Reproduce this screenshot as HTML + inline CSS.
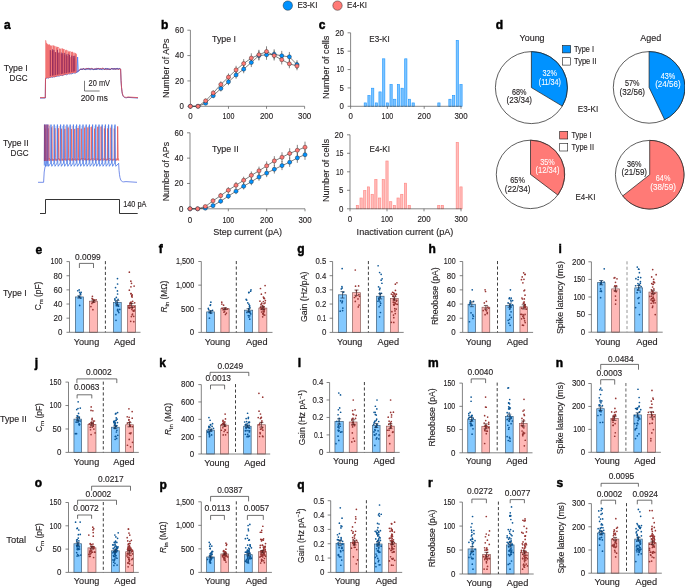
<!DOCTYPE html>
<html><head><meta charset="utf-8"><style>
html,body{margin:0;padding:0;background:#fff;}
svg{display:block;will-change:transform;}
text{font-family:"Liberation Sans", sans-serif;}
</style></head><body>
<svg width="685" height="588" viewBox="0 0 685 588" font-family='"Liberation Sans", sans-serif' fill="#231f20">
<rect width="685" height="588" fill="#fff"/>
<circle cx="287.8" cy="5.6" r="4.7" fill="#0092ff" stroke="#1a1a1a" stroke-width="0.45"/>
<text x="297.40" y="8.40" font-size="8.8" textLength="20.00" lengthAdjust="spacingAndGlyphs" stroke="#231f20" stroke-width="0.13">E3-KI</text>
<circle cx="337.5" cy="5.6" r="4.7" fill="#ff7a76" stroke="#1a1a1a" stroke-width="0.45"/>
<text x="347.10" y="8.40" font-size="8.8" textLength="20.00" lengthAdjust="spacingAndGlyphs" stroke="#231f20" stroke-width="0.13">E4-KI</text>
<text x="3.90" y="28.80" font-size="12" font-weight="bold" fill="#000" stroke="#000" stroke-width="0.45">a</text>
<text x="27.60" y="71.20" font-size="9.2" text-anchor="end" textLength="23.80" lengthAdjust="spacingAndGlyphs" stroke="#231f20" stroke-width="0.13">Type I</text>
<text x="27.60" y="80.90" font-size="9.2" text-anchor="end" textLength="18.00" lengthAdjust="spacingAndGlyphs" stroke="#231f20" stroke-width="0.13">DGC</text>
<text x="28.60" y="146.20" font-size="9.2" text-anchor="end" textLength="25.60" lengthAdjust="spacingAndGlyphs" stroke="#231f20" stroke-width="0.13">Type II</text>
<text x="28.60" y="156.20" font-size="9.2" text-anchor="end" textLength="18.00" lengthAdjust="spacingAndGlyphs" stroke="#231f20" stroke-width="0.13">DGC</text>
<path d="M40.00,98.00 L45.30,98.00 L45.50,79.40 L46.00,77.91 L46.90,77.82 L47.80,77.88 L48.70,77.94 L49.60,77.33 L50.50,77.14 L51.40,77.06 L52.30,77.31 L53.20,76.65 L54.10,76.95 L55.00,76.72 L55.90,76.13 L56.80,76.28 L57.70,76.03 L58.60,75.83 L59.50,76.13 L60.40,75.24 L61.30,75.01 L62.20,75.57 L63.10,74.97 L64.00,74.63 L64.90,74.57 L65.80,74.43 L66.70,74.73 L67.60,73.96 L68.50,73.79 L69.40,73.92 L70.30,73.71 L71.20,73.87 L72.10,73.60 L73.00,73.05 L73.90,72.75 L74.80,73.09 L75.70,73.04 L76.60,72.10 L78.50,70.90 L80.00,69.90 L80.80,69.18 L81.70,69.34 L82.60,69.08 L83.50,68.56 L84.40,69.26 L85.30,69.18 L86.20,68.53 L87.10,69.07 L88.00,68.56 L88.90,68.35 L89.80,68.70 L90.70,68.70 L91.60,68.78 L92.50,69.08 L93.40,69.30 L94.30,69.45 L95.20,69.47 L96.10,69.49 L97.00,69.25 L97.90,68.67 L98.80,68.51 L99.70,69.05 L100.60,68.95 L101.50,69.11 L102.40,68.41 L103.30,68.53 L104.20,69.41 L105.10,69.02 L106.00,69.13 L106.90,68.41 L107.80,68.78 L108.70,69.39 L109.60,69.08 L110.50,69.49 L111.40,68.54 L112.30,68.85 L113.20,69.26 L114.10,68.83 L115.00,69.25 L115.90,68.97 L116.80,68.44 L117.70,68.42 L118.60,69.48 L119.50,68.44 L120.60,69.00 L121.05,80.57 L121.50,87.35 L121.95,91.46 L122.40,93.96 L122.85,95.47 L123.30,96.39 L123.75,96.94 L124.20,97.28 L124.65,97.48 L125.10,97.61 L125.55,97.68 L126.00,97.73 L126.45,97.76 L128.00,97.40 L138.00,98.00" stroke="#2a40b8" stroke-width="0.8" fill="none"/>
<path d="M40.00,97.60 L45.30,97.60 L45.50,79.00 L46.00,77.57 L46.90,77.50 L47.80,77.40 L48.70,77.71 L49.60,77.22 L50.50,77.22 L51.40,76.56 L52.30,76.71 L53.20,76.81 L54.10,76.38 L55.00,76.55 L55.90,76.32 L56.80,75.74 L57.70,75.28 L58.60,75.71 L59.50,75.03 L60.40,74.77 L61.30,75.18 L62.20,75.09 L63.10,74.92 L64.00,74.84 L64.90,74.07 L65.80,73.80 L66.70,73.66 L67.60,74.17 L68.50,73.31 L69.40,73.18 L70.30,72.89 L71.20,72.74 L72.10,72.56 L73.00,72.64 L73.90,72.32 L74.80,72.27 L75.70,72.59 L76.60,71.81 L78.50,70.50 L80.00,69.50 L80.80,69.28 L81.70,69.19 L82.60,68.98 L83.50,68.99 L84.40,69.22 L85.30,69.00 L86.20,68.58 L87.10,68.70 L88.00,68.59 L88.90,68.78 L89.80,69.48 L90.70,68.81 L91.60,68.38 L92.50,68.87 L93.40,69.28 L94.30,68.83 L95.20,69.14 L96.10,68.41 L97.00,68.37 L97.90,69.09 L98.80,68.36 L99.70,68.66 L100.60,68.76 L101.50,68.53 L102.40,68.34 L103.30,68.31 L104.20,69.44 L105.10,69.13 L106.00,69.44 L106.90,68.89 L107.80,69.45 L108.70,69.34 L109.60,69.04 L110.50,68.93 L111.40,68.91 L112.30,68.57 L113.20,68.75 L114.10,69.17 L115.00,68.53 L115.90,69.32 L116.80,68.91 L117.70,69.03 L118.60,69.29 L119.50,69.08 L120.60,69.00 L121.05,80.17 L121.50,86.95 L121.95,91.06 L122.40,93.56 L122.85,95.07 L123.30,95.99 L123.75,96.54 L124.20,96.88 L124.65,97.08 L125.10,97.21 L125.55,97.28 L126.00,97.33 L126.45,97.36 L128.00,97.00 L138.00,97.60" stroke="#e5484d" stroke-width="0.8" fill="none"/>
<path d="M80.00,69.30 L80.80,69.18 L81.70,69.26 L82.60,69.48 L83.50,68.83 L84.40,69.28 L85.30,69.57 L86.20,69.59 L87.10,68.72 L88.00,69.28 L88.90,69.24 L89.80,69.10 L90.70,69.66 L91.60,69.13 L92.50,69.03 L93.40,69.63 L94.30,69.26 L95.20,68.86 L96.10,68.87 L97.00,69.10 L97.90,68.56 L98.80,69.23 L99.70,69.38 L100.60,69.01 L101.50,69.52 L102.40,69.61 L103.30,69.17 L104.20,69.32 L105.10,68.64 L106.00,68.57 L106.90,69.68 L107.80,68.84 L108.70,68.76 L109.60,69.58 L110.50,69.40 L111.40,68.65 L112.30,68.89 L113.20,68.79 L114.10,68.83 L115.00,68.51 L115.90,69.13 L116.80,68.87 L117.70,68.97 L118.60,68.72 L119.50,68.63" stroke="#2a3cb0" stroke-width="0.8" fill="none" opacity="0.85"/>
<path d="M45.30,79.00 L45.30,40.10 L46.20,40.50 L46.50,43.10 L47.00,43.23 L47.70,44.30 L48.40,44.45 L49.10,44.43 L49.80,44.25 L50.50,45.40 L51.20,45.66 L51.90,45.42 L52.60,45.64 L53.30,45.44 L54.00,45.31 L54.70,46.13 L55.40,46.70 L56.10,46.11 L56.80,47.50 L57.50,46.84 L58.20,47.07 L58.90,47.00 L59.60,48.76 L60.30,48.58 L61.00,49.03 L61.70,48.85 L62.40,48.15 L63.10,48.86 L63.80,49.36 L64.50,48.99 L65.20,50.56 L65.90,49.86 L66.60,49.75 L67.30,51.04 L68.00,50.17 L68.70,51.68 L69.40,51.16 L70.10,51.55 L70.80,51.45 L71.50,51.91 L72.20,51.67 L72.90,51.66 L73.60,53.22 L74.30,52.44 L75.00,53.55 L75.70,52.87 L76.40,54.32 L76.80,53.20 L77.20,72.00 L77.00,72.00 L76.00,72.19 L75.00,72.38 L74.00,72.57 L73.00,72.76 L72.00,72.95 L71.00,73.14 L70.00,73.33 L69.00,73.52 L68.00,73.71 L67.00,73.90 L66.00,74.10 L65.00,74.29 L64.00,74.48 L63.00,74.67 L62.00,74.86 L61.00,75.05 L60.00,75.24 L59.00,75.43 L58.00,75.62 L57.00,75.81 L56.00,76.00 L55.00,76.19 L54.00,76.38 L53.00,76.57 L52.00,76.76 L51.00,76.95 L50.00,77.14 L49.00,77.33 L48.00,77.52 L47.00,77.71 L46.00,77.90Z" stroke="none" stroke-width="0.7" fill="#f06a6a" opacity="0.95"/>
<line x1="52.32" y1="45.34" x2="52.32" y2="51.04" stroke="#f7b4b4" stroke-width="1.0"/>
<line x1="55.30" y1="46.33" x2="55.30" y2="52.03" stroke="#f7b4b4" stroke-width="1.0"/>
<line x1="58.41" y1="47.37" x2="58.41" y2="53.07" stroke="#f7b4b4" stroke-width="1.0"/>
<line x1="61.36" y1="48.35" x2="61.36" y2="54.05" stroke="#f7b4b4" stroke-width="1.0"/>
<line x1="64.58" y1="49.43" x2="64.58" y2="55.13" stroke="#f7b4b4" stroke-width="1.0"/>
<line x1="67.20" y1="50.30" x2="67.20" y2="56.00" stroke="#f7b4b4" stroke-width="1.0"/>
<line x1="70.58" y1="51.43" x2="70.58" y2="57.13" stroke="#f7b4b4" stroke-width="1.0"/>
<line x1="73.96" y1="52.55" x2="73.96" y2="58.25" stroke="#f7b4b4" stroke-width="1.0"/>
<line x1="50.32" y1="50.14" x2="50.32" y2="76.08" stroke="#7a1656" stroke-width="0.85" opacity="0.9"/>
<line x1="52.48" y1="49.32" x2="52.48" y2="75.67" stroke="#7a1656" stroke-width="0.85" opacity="0.9"/>
<line x1="53.92" y1="49.93" x2="53.92" y2="75.40" stroke="#7a1656" stroke-width="0.85" opacity="0.9"/>
<line x1="55.68" y1="52.15" x2="55.68" y2="75.06" stroke="#7a1656" stroke-width="0.85" opacity="0.9"/>
<line x1="57.43" y1="49.82" x2="57.43" y2="74.73" stroke="#7a1656" stroke-width="0.85" opacity="0.9"/>
<line x1="59.01" y1="52.42" x2="59.01" y2="74.43" stroke="#7a1656" stroke-width="0.85" opacity="0.9"/>
<line x1="61.30" y1="52.52" x2="61.30" y2="73.99" stroke="#7a1656" stroke-width="0.85" opacity="0.9"/>
<line x1="62.74" y1="53.17" x2="62.74" y2="73.72" stroke="#7a1656" stroke-width="0.85" opacity="0.9"/>
<line x1="64.65" y1="52.82" x2="64.65" y2="73.35" stroke="#7a1656" stroke-width="0.85" opacity="0.9"/>
<line x1="66.32" y1="54.37" x2="66.32" y2="73.04" stroke="#7a1656" stroke-width="0.85" opacity="0.9"/>
<line x1="68.07" y1="53.83" x2="68.07" y2="72.70" stroke="#7a1656" stroke-width="0.85" opacity="0.9"/>
<line x1="69.55" y1="54.83" x2="69.55" y2="72.42" stroke="#7a1656" stroke-width="0.85" opacity="0.9"/>
<line x1="71.76" y1="55.56" x2="71.76" y2="72.00" stroke="#7a1656" stroke-width="0.85" opacity="0.9"/>
<line x1="73.31" y1="55.96" x2="73.31" y2="71.70" stroke="#7a1656" stroke-width="0.85" opacity="0.9"/>
<line x1="74.76" y1="55.72" x2="74.76" y2="71.43" stroke="#7a1656" stroke-width="0.85" opacity="0.9"/>
<path d="M77.00,73.00 L77.60,57.00 L78.30,72.00" stroke="#4a7af0" stroke-width="0.8" fill="none"/>
<path d="M38.00,182.30 L43.60,182.30 L44.20,172.00 L45.00,167.00 L46.00,165.50" stroke="#3b5fe0" stroke-width="0.7" fill="none"/>
<path d="M118.60,163.00 L119.05,170.52 L119.50,174.68 L119.95,177.33 L120.40,179.02 L120.85,180.10 L121.30,180.79 L121.75,181.23 L122.20,181.51 L122.65,181.69 L123.10,181.80 L123.55,181.87 L126.00,181.60 L137.00,182.30" stroke="#3b5fe0" stroke-width="0.7" fill="none"/>
<line x1="46.20" y1="126.00" x2="46.20" y2="160.50" stroke="#f3aaaa" stroke-width="0.9"/>
<line x1="49.45" y1="126.00" x2="49.45" y2="160.50" stroke="#adc2f2" stroke-width="0.9"/>
<line x1="52.70" y1="126.00" x2="52.70" y2="160.50" stroke="#f3aaaa" stroke-width="0.9"/>
<line x1="55.95" y1="126.00" x2="55.95" y2="160.50" stroke="#adc2f2" stroke-width="0.9"/>
<line x1="59.20" y1="126.00" x2="59.20" y2="160.50" stroke="#f3aaaa" stroke-width="0.9"/>
<line x1="62.45" y1="126.00" x2="62.45" y2="160.50" stroke="#adc2f2" stroke-width="0.9"/>
<line x1="65.70" y1="126.00" x2="65.70" y2="160.50" stroke="#f3aaaa" stroke-width="0.9"/>
<line x1="68.95" y1="126.00" x2="68.95" y2="160.50" stroke="#adc2f2" stroke-width="0.9"/>
<line x1="72.20" y1="126.00" x2="72.20" y2="160.50" stroke="#f3aaaa" stroke-width="0.9"/>
<line x1="75.45" y1="126.00" x2="75.45" y2="160.50" stroke="#adc2f2" stroke-width="0.9"/>
<line x1="78.70" y1="126.00" x2="78.70" y2="160.50" stroke="#f3aaaa" stroke-width="0.9"/>
<line x1="81.95" y1="126.00" x2="81.95" y2="160.50" stroke="#adc2f2" stroke-width="0.9"/>
<line x1="85.20" y1="126.00" x2="85.20" y2="160.50" stroke="#f3aaaa" stroke-width="0.9"/>
<line x1="88.45" y1="126.00" x2="88.45" y2="160.50" stroke="#adc2f2" stroke-width="0.9"/>
<line x1="91.70" y1="126.00" x2="91.70" y2="160.50" stroke="#f3aaaa" stroke-width="0.9"/>
<line x1="94.95" y1="126.00" x2="94.95" y2="160.50" stroke="#adc2f2" stroke-width="0.9"/>
<line x1="98.20" y1="126.00" x2="98.20" y2="160.50" stroke="#f3aaaa" stroke-width="0.9"/>
<line x1="101.45" y1="126.00" x2="101.45" y2="160.50" stroke="#adc2f2" stroke-width="0.9"/>
<line x1="104.70" y1="126.00" x2="104.70" y2="160.50" stroke="#f3aaaa" stroke-width="0.9"/>
<line x1="107.95" y1="126.00" x2="107.95" y2="160.50" stroke="#adc2f2" stroke-width="0.9"/>
<line x1="111.20" y1="126.00" x2="111.20" y2="160.50" stroke="#f3aaaa" stroke-width="0.9"/>
<line x1="114.45" y1="126.00" x2="114.45" y2="160.50" stroke="#adc2f2" stroke-width="0.9"/>
<line x1="117.70" y1="126.00" x2="117.70" y2="160.50" stroke="#f3aaaa" stroke-width="0.9"/>
<path d="M44.30,161.00 L44.80,159.80 L45.00,128.53 L45.50,157.50 L46.20,160.50 L48.10,159.80 L48.30,128.44 L48.80,157.50 L49.50,160.50 L51.40,159.80 L51.60,127.44 L52.10,157.50 L52.80,160.50 L54.70,159.80 L54.90,128.21 L55.40,157.50 L56.10,160.50 L58.00,159.80 L58.20,128.19 L58.70,157.50 L59.40,160.50 L61.30,159.80 L61.50,128.75 L62.00,157.50 L62.70,160.50 L64.60,159.80 L64.80,128.90 L65.30,157.50 L66.00,160.50 L67.90,159.80 L68.10,127.52 L68.60,157.50 L69.30,160.50 L71.20,159.80 L71.40,128.97 L71.90,157.50 L72.60,160.50 L74.50,159.80 L74.70,128.90 L75.20,157.50 L75.90,160.50 L77.80,159.80 L78.00,127.98 L78.50,157.50 L79.20,160.50 L81.10,159.80 L81.30,128.71 L81.80,157.50 L82.50,160.50 L84.40,159.80 L84.60,127.73 L85.10,157.50 L85.80,160.50 L87.70,159.80 L87.90,127.44 L88.40,157.50 L89.10,160.50 L91.00,159.80 L91.20,127.12 L91.70,157.50 L92.40,160.50 L94.30,159.80 L94.50,128.69 L95.00,157.50 L95.70,160.50 L97.60,159.80 L97.80,126.91 L98.30,157.50 L99.00,160.50 L100.90,159.80 L101.10,126.67 L101.60,157.50 L102.30,160.50 L104.20,159.80 L104.40,128.51 L104.90,157.50 L105.60,160.50 L107.50,159.80 L107.70,128.43 L108.20,157.50 L108.90,160.50 L110.80,159.80 L111.00,127.71 L111.50,157.50 L112.20,160.50 L114.10,159.80 L114.30,128.59 L114.80,157.50 L115.50,160.50 L117.40,159.80 L117.60,126.63 L118.10,157.50 L118.80,160.50 L118.50,160.50" stroke="#e66060" stroke-width="0.85" fill="none"/>
<path d="M44.80,159.60 L45.70,158.96 L46.60,159.02 L47.50,159.26 L48.40,158.81 L49.30,158.63 L50.20,159.11 L51.10,160.12 L52.00,160.27 L52.90,159.84 L53.80,159.36 L54.70,158.95 L55.60,160.23 L56.50,159.45 L57.40,159.81 L58.30,158.55 L59.20,158.88 L60.10,160.01 L61.00,159.93 L61.90,160.09 L62.80,159.58 L63.70,159.27 L64.60,159.55 L65.50,160.03 L66.40,159.05 L67.30,159.46 L68.20,159.00 L69.10,159.88 L70.00,158.52 L70.90,159.73 L71.80,160.22 L72.70,158.54 L73.60,159.57 L74.50,159.66 L75.40,160.03 L76.30,159.55 L77.20,158.96 L78.10,159.23 L79.00,160.23 L79.90,160.13 L80.80,158.74 L81.70,158.67 L82.60,158.67 L83.50,158.55 L84.40,159.30 L85.30,158.75 L86.20,160.06 L87.10,159.68 L88.00,158.73 L88.90,159.47 L89.80,159.08 L90.70,159.39 L91.60,158.90 L92.50,158.80 L93.40,158.83 L94.30,159.18 L95.20,159.78 L96.10,159.49 L97.00,158.58 L97.90,159.78 L98.80,160.07 L99.70,159.89 L100.60,159.92 L101.50,158.51 L102.40,159.33 L103.30,158.61 L104.20,159.88 L105.10,158.82 L106.00,159.78 L106.90,158.96 L107.80,159.75 L108.70,159.06 L109.60,158.58 L110.50,159.20 L111.40,159.06 L112.30,160.12 L113.20,159.03 L114.10,159.41 L115.00,159.49 L115.90,160.21 L116.80,158.68 L117.70,159.58" stroke="#e04848" stroke-width="0.8" fill="none"/>
<path d="M44.30,165.50 L44.30,163.00 L44.60,124.60 L45.00,163.00 L45.40,166.30 L45.90,163.00 L46.20,124.60 L46.60,163.00 L47.00,166.30 L47.50,163.00 L47.80,124.60 L48.20,163.00 L48.60,166.30 L50.70,163.00 L51.00,124.60 L51.40,163.00 L51.80,166.30 L53.90,163.00 L54.20,124.60 L54.60,163.00 L55.00,166.30 L57.10,163.00 L57.40,124.60 L57.80,163.00 L58.20,166.30 L60.30,163.00 L60.60,124.60 L61.00,163.00 L61.40,166.30 L63.50,163.00 L63.80,124.60 L64.20,163.00 L64.60,166.30 L66.70,163.00 L67.00,124.60 L67.40,163.00 L67.80,166.30 L69.90,163.00 L70.20,124.60 L70.60,163.00 L71.00,166.30 L73.10,163.00 L73.40,124.60 L73.80,163.00 L74.20,166.30 L76.30,163.00 L76.60,124.60 L77.00,163.00 L77.40,166.30 L79.50,163.00 L79.80,124.60 L80.20,163.00 L80.60,166.30 L82.70,163.00 L83.00,124.60 L83.40,163.00 L83.80,166.30 L85.90,163.00 L86.20,124.60 L86.60,163.00 L87.00,166.30 L89.10,163.00 L89.40,124.60 L89.80,163.00 L90.20,166.30 L92.30,163.00 L92.60,124.60 L93.00,163.00 L93.40,166.30 L95.50,163.00 L95.80,124.60 L96.20,163.00 L96.60,166.30 L98.70,163.00 L99.00,124.60 L99.40,163.00 L99.80,166.30 L101.90,163.00 L102.20,124.60 L102.60,163.00 L103.00,166.30 L105.10,163.00 L105.40,124.60 L105.80,163.00 L106.20,166.30 L108.30,163.00 L108.60,124.60 L109.00,163.00 L109.40,166.30 L111.50,163.00 L111.80,124.60 L112.20,163.00 L112.60,166.30 L114.70,163.00 L115.00,124.60 L115.40,163.00 L115.80,166.30 L118.50,163.50" stroke="#4a78e6" stroke-width="0.8" fill="none"/>
<line x1="44.40" y1="124.60" x2="44.40" y2="161.00" stroke="#7a2a70" stroke-width="0.7"/>
<line x1="45.20" y1="124.60" x2="45.20" y2="161.00" stroke="#d04060" stroke-width="0.7"/>
<line x1="46.00" y1="124.60" x2="46.00" y2="161.00" stroke="#7a2a70" stroke-width="0.7"/>
<line x1="46.90" y1="124.60" x2="46.90" y2="161.00" stroke="#e05a6a" stroke-width="0.7"/>
<line x1="47.80" y1="124.60" x2="47.80" y2="161.00" stroke="#8a3078" stroke-width="0.7"/>
<line x1="49.00" y1="124.60" x2="49.00" y2="161.00" stroke="#e05a6a" stroke-width="0.7"/>
<path d="M84.5,80.8 L84.5,91.0 L99.6,91.0" stroke="#444" stroke-width="0.7" fill="none"/>
<text x="88.60" y="86.00" font-size="8.3" textLength="21.40" lengthAdjust="spacingAndGlyphs" stroke="#231f20" stroke-width="0.13">20 mV</text>
<text x="80.80" y="101.20" font-size="8.3" textLength="27.00" lengthAdjust="spacingAndGlyphs" stroke="#231f20" stroke-width="0.13">200 ms</text>
<path d="M40,213.5 L45.5,213.5 L45.5,199.5 L119.5,199.5 L119.5,213.5 L137.7,213.5" stroke="#111" stroke-width="0.85" fill="none"/>
<text x="123.20" y="206.70" font-size="8.3" textLength="23.20" lengthAdjust="spacingAndGlyphs" stroke="#231f20" stroke-width="0.13">140 pA</text>
<text x="161.00" y="28.60" font-size="12" font-weight="bold" fill="#000" stroke="#000" stroke-width="0.45">b</text>
<line x1="190.40" y1="30.20" x2="190.40" y2="106.30" stroke="#555555" stroke-width="0.7"/>
<line x1="190.40" y1="106.30" x2="304.60" y2="106.30" stroke="#555555" stroke-width="0.7"/>
<line x1="187.40" y1="106.30" x2="190.40" y2="106.30" stroke="#555555" stroke-width="0.7"/>
<text x="183.80" y="109.15" font-size="8.2" text-anchor="end" textLength="4.40" lengthAdjust="spacingAndGlyphs" stroke="#231f20" stroke-width="0.13">0</text>
<line x1="187.40" y1="80.93" x2="190.40" y2="80.93" stroke="#555555" stroke-width="0.7"/>
<text x="183.80" y="83.78" font-size="8.2" text-anchor="end" textLength="8.80" lengthAdjust="spacingAndGlyphs" stroke="#231f20" stroke-width="0.13">20</text>
<line x1="187.40" y1="55.57" x2="190.40" y2="55.57" stroke="#555555" stroke-width="0.7"/>
<text x="183.80" y="58.42" font-size="8.2" text-anchor="end" textLength="8.80" lengthAdjust="spacingAndGlyphs" stroke="#231f20" stroke-width="0.13">40</text>
<line x1="187.40" y1="30.20" x2="190.40" y2="30.20" stroke="#555555" stroke-width="0.7"/>
<text x="183.80" y="33.05" font-size="8.2" text-anchor="end" textLength="8.80" lengthAdjust="spacingAndGlyphs" stroke="#231f20" stroke-width="0.13">60</text>
<line x1="190.40" y1="106.30" x2="190.40" y2="108.80" stroke="#555555" stroke-width="0.7"/>
<text x="190.40" y="119.00" font-size="8.2" text-anchor="middle" textLength="4.40" lengthAdjust="spacingAndGlyphs" stroke="#231f20" stroke-width="0.13">0</text>
<line x1="228.47" y1="106.30" x2="228.47" y2="108.80" stroke="#555555" stroke-width="0.7"/>
<text x="228.47" y="119.00" font-size="8.2" text-anchor="middle" textLength="11.80" lengthAdjust="spacingAndGlyphs" stroke="#231f20" stroke-width="0.13">100</text>
<line x1="266.53" y1="106.30" x2="266.53" y2="108.80" stroke="#555555" stroke-width="0.7"/>
<text x="266.53" y="119.00" font-size="8.2" text-anchor="middle" textLength="13.20" lengthAdjust="spacingAndGlyphs" stroke="#231f20" stroke-width="0.13">200</text>
<line x1="304.60" y1="106.30" x2="304.60" y2="108.80" stroke="#555555" stroke-width="0.7"/>
<text x="304.60" y="119.00" font-size="8.2" text-anchor="middle" textLength="13.20" lengthAdjust="spacingAndGlyphs" stroke="#231f20" stroke-width="0.13">300</text>
<path d="M190.40,106.30 L198.01,106.30 L205.63,103.26 L213.24,95.65 L220.85,88.54 L228.47,81.82 L236.08,74.97 L243.69,69.14 L251.31,62.54 L258.92,55.57 L266.53,54.81 L274.15,54.30 L281.76,55.82 L289.37,56.84 L296.99,64.57" stroke="#2a2a2a" stroke-width="0.6" fill="none"/>
<path d="M190.40,106.30 L198.01,106.30 L205.63,100.85 L213.24,92.98 L220.85,84.48 L228.47,77.13 L236.08,69.90 L243.69,63.56 L251.31,58.10 L258.92,54.81 L266.53,51.51 L274.15,55.57 L281.76,59.75 L289.37,63.81 L296.99,65.97" stroke="#2a2a2a" stroke-width="0.6" fill="none"/>
<line x1="213.24" y1="93.10" x2="213.24" y2="98.19" stroke="#333" stroke-width="0.6"/>
<line x1="220.85" y1="85.58" x2="220.85" y2="91.51" stroke="#333" stroke-width="0.6"/>
<line x1="228.47" y1="78.45" x2="228.47" y2="85.19" stroke="#333" stroke-width="0.6"/>
<line x1="236.08" y1="71.19" x2="236.08" y2="78.75" stroke="#333" stroke-width="0.6"/>
<line x1="243.69" y1="65.01" x2="243.69" y2="73.27" stroke="#333" stroke-width="0.6"/>
<line x1="251.31" y1="58.01" x2="251.31" y2="67.07" stroke="#333" stroke-width="0.6"/>
<line x1="258.92" y1="50.62" x2="258.92" y2="60.51" stroke="#333" stroke-width="0.6"/>
<line x1="266.53" y1="49.81" x2="266.53" y2="59.80" stroke="#333" stroke-width="0.6"/>
<line x1="274.15" y1="49.28" x2="274.15" y2="59.32" stroke="#333" stroke-width="0.6"/>
<line x1="281.76" y1="50.89" x2="281.76" y2="60.75" stroke="#333" stroke-width="0.6"/>
<line x1="289.37" y1="51.96" x2="289.37" y2="61.71" stroke="#333" stroke-width="0.6"/>
<line x1="296.99" y1="60.17" x2="296.99" y2="68.98" stroke="#333" stroke-width="0.6"/>
<line x1="205.63" y1="98.62" x2="205.63" y2="103.08" stroke="#333" stroke-width="0.6"/>
<line x1="213.24" y1="90.28" x2="213.24" y2="95.68" stroke="#333" stroke-width="0.6"/>
<line x1="220.85" y1="81.27" x2="220.85" y2="87.70" stroke="#333" stroke-width="0.6"/>
<line x1="228.47" y1="73.48" x2="228.47" y2="80.78" stroke="#333" stroke-width="0.6"/>
<line x1="236.08" y1="65.81" x2="236.08" y2="73.99" stroke="#333" stroke-width="0.6"/>
<line x1="243.69" y1="59.09" x2="243.69" y2="68.02" stroke="#333" stroke-width="0.6"/>
<line x1="251.31" y1="53.31" x2="251.31" y2="62.90" stroke="#333" stroke-width="0.6"/>
<line x1="258.92" y1="49.81" x2="258.92" y2="59.80" stroke="#333" stroke-width="0.6"/>
<line x1="266.53" y1="46.32" x2="266.53" y2="56.70" stroke="#333" stroke-width="0.6"/>
<line x1="274.15" y1="50.62" x2="274.15" y2="60.51" stroke="#333" stroke-width="0.6"/>
<line x1="281.76" y1="55.06" x2="281.76" y2="64.45" stroke="#333" stroke-width="0.6"/>
<line x1="289.37" y1="59.36" x2="289.37" y2="68.26" stroke="#333" stroke-width="0.6"/>
<line x1="296.99" y1="61.64" x2="296.99" y2="70.29" stroke="#333" stroke-width="0.6"/>
<circle cx="190.40" cy="106.30" r="2.05" fill="#0092ff" stroke="#1d2a3a" stroke-width="0.45"/>
<circle cx="198.01" cy="106.30" r="2.05" fill="#0092ff" stroke="#1d2a3a" stroke-width="0.45"/>
<circle cx="205.63" cy="103.26" r="2.05" fill="#0092ff" stroke="#1d2a3a" stroke-width="0.45"/>
<circle cx="213.24" cy="95.65" r="2.05" fill="#0092ff" stroke="#1d2a3a" stroke-width="0.45"/>
<circle cx="220.85" cy="88.54" r="2.05" fill="#0092ff" stroke="#1d2a3a" stroke-width="0.45"/>
<circle cx="228.47" cy="81.82" r="2.05" fill="#0092ff" stroke="#1d2a3a" stroke-width="0.45"/>
<circle cx="236.08" cy="74.97" r="2.05" fill="#0092ff" stroke="#1d2a3a" stroke-width="0.45"/>
<circle cx="243.69" cy="69.14" r="2.05" fill="#0092ff" stroke="#1d2a3a" stroke-width="0.45"/>
<circle cx="251.31" cy="62.54" r="2.05" fill="#0092ff" stroke="#1d2a3a" stroke-width="0.45"/>
<circle cx="258.92" cy="55.57" r="2.05" fill="#0092ff" stroke="#1d2a3a" stroke-width="0.45"/>
<circle cx="266.53" cy="54.81" r="2.05" fill="#0092ff" stroke="#1d2a3a" stroke-width="0.45"/>
<circle cx="274.15" cy="54.30" r="2.05" fill="#0092ff" stroke="#1d2a3a" stroke-width="0.45"/>
<circle cx="281.76" cy="55.82" r="2.05" fill="#0092ff" stroke="#1d2a3a" stroke-width="0.45"/>
<circle cx="289.37" cy="56.84" r="2.05" fill="#0092ff" stroke="#1d2a3a" stroke-width="0.45"/>
<circle cx="296.99" cy="64.57" r="2.05" fill="#0092ff" stroke="#1d2a3a" stroke-width="0.45"/>
<circle cx="190.40" cy="106.30" r="2.05" fill="#ff7a76" stroke="#3a2020" stroke-width="0.45"/>
<circle cx="198.01" cy="106.30" r="2.05" fill="#ff7a76" stroke="#3a2020" stroke-width="0.45"/>
<circle cx="205.63" cy="100.85" r="2.05" fill="#ff7a76" stroke="#3a2020" stroke-width="0.45"/>
<circle cx="213.24" cy="92.98" r="2.05" fill="#ff7a76" stroke="#3a2020" stroke-width="0.45"/>
<circle cx="220.85" cy="84.48" r="2.05" fill="#ff7a76" stroke="#3a2020" stroke-width="0.45"/>
<circle cx="228.47" cy="77.13" r="2.05" fill="#ff7a76" stroke="#3a2020" stroke-width="0.45"/>
<circle cx="236.08" cy="69.90" r="2.05" fill="#ff7a76" stroke="#3a2020" stroke-width="0.45"/>
<circle cx="243.69" cy="63.56" r="2.05" fill="#ff7a76" stroke="#3a2020" stroke-width="0.45"/>
<circle cx="251.31" cy="58.10" r="2.05" fill="#ff7a76" stroke="#3a2020" stroke-width="0.45"/>
<circle cx="258.92" cy="54.81" r="2.05" fill="#ff7a76" stroke="#3a2020" stroke-width="0.45"/>
<circle cx="266.53" cy="51.51" r="2.05" fill="#ff7a76" stroke="#3a2020" stroke-width="0.45"/>
<circle cx="274.15" cy="55.57" r="2.05" fill="#ff7a76" stroke="#3a2020" stroke-width="0.45"/>
<circle cx="281.76" cy="59.75" r="2.05" fill="#ff7a76" stroke="#3a2020" stroke-width="0.45"/>
<circle cx="289.37" cy="63.81" r="2.05" fill="#ff7a76" stroke="#3a2020" stroke-width="0.45"/>
<circle cx="296.99" cy="65.97" r="2.05" fill="#ff7a76" stroke="#3a2020" stroke-width="0.45"/>
<text x="212.00" y="42.20" font-size="9.3" textLength="24.00" lengthAdjust="spacingAndGlyphs" stroke="#231f20" stroke-width="0.13">Type I</text>
<text x="168.60" y="68.30" font-size="9.5" text-anchor="middle" textLength="59.30" lengthAdjust="spacingAndGlyphs" transform="rotate(-90 168.60 68.30)" stroke="#231f20" stroke-width="0.13">Number of APs</text>
<line x1="190.00" y1="132.80" x2="190.00" y2="208.80" stroke="#555555" stroke-width="0.7"/>
<line x1="190.00" y1="208.80" x2="305.00" y2="208.80" stroke="#555555" stroke-width="0.7"/>
<line x1="187.00" y1="208.80" x2="190.00" y2="208.80" stroke="#555555" stroke-width="0.7"/>
<text x="183.40" y="211.65" font-size="8.2" text-anchor="end" textLength="4.40" lengthAdjust="spacingAndGlyphs" stroke="#231f20" stroke-width="0.13">0</text>
<line x1="187.00" y1="183.47" x2="190.00" y2="183.47" stroke="#555555" stroke-width="0.7"/>
<text x="183.40" y="186.32" font-size="8.2" text-anchor="end" textLength="8.80" lengthAdjust="spacingAndGlyphs" stroke="#231f20" stroke-width="0.13">20</text>
<line x1="187.00" y1="158.13" x2="190.00" y2="158.13" stroke="#555555" stroke-width="0.7"/>
<text x="183.40" y="160.98" font-size="8.2" text-anchor="end" textLength="8.80" lengthAdjust="spacingAndGlyphs" stroke="#231f20" stroke-width="0.13">40</text>
<line x1="187.00" y1="132.80" x2="190.00" y2="132.80" stroke="#555555" stroke-width="0.7"/>
<text x="183.40" y="135.65" font-size="8.2" text-anchor="end" textLength="8.80" lengthAdjust="spacingAndGlyphs" stroke="#231f20" stroke-width="0.13">60</text>
<line x1="190.00" y1="208.80" x2="190.00" y2="211.30" stroke="#555555" stroke-width="0.7"/>
<text x="190.00" y="223.10" font-size="8.2" text-anchor="middle" textLength="4.40" lengthAdjust="spacingAndGlyphs" stroke="#231f20" stroke-width="0.13">0</text>
<line x1="228.33" y1="208.80" x2="228.33" y2="211.30" stroke="#555555" stroke-width="0.7"/>
<text x="228.33" y="223.10" font-size="8.2" text-anchor="middle" textLength="11.80" lengthAdjust="spacingAndGlyphs" stroke="#231f20" stroke-width="0.13">100</text>
<line x1="266.67" y1="208.80" x2="266.67" y2="211.30" stroke="#555555" stroke-width="0.7"/>
<text x="266.67" y="223.10" font-size="8.2" text-anchor="middle" textLength="13.20" lengthAdjust="spacingAndGlyphs" stroke="#231f20" stroke-width="0.13">200</text>
<line x1="305.00" y1="208.80" x2="305.00" y2="211.30" stroke="#555555" stroke-width="0.7"/>
<text x="305.00" y="223.10" font-size="8.2" text-anchor="middle" textLength="13.20" lengthAdjust="spacingAndGlyphs" stroke="#231f20" stroke-width="0.13">300</text>
<path d="M190.00,208.80 L197.67,208.80 L205.33,208.17 L213.00,205.63 L220.67,201.20 L228.33,196.13 L236.00,191.19 L243.67,186.25 L251.33,181.69 L259.00,177.01 L266.67,173.08 L274.33,169.28 L282.00,165.61 L289.67,162.19 L297.33,157.88 L305.00,154.71" stroke="#2a2a2a" stroke-width="0.6" fill="none"/>
<path d="M190.00,208.80 L197.67,208.80 L205.33,206.52 L213.00,200.82 L220.67,195.63 L228.33,190.18 L236.00,185.24 L243.67,180.30 L251.33,175.36 L259.00,170.80 L266.67,165.86 L274.33,160.92 L282.00,157.25 L289.67,153.45 L297.33,150.28 L305.00,147.24" stroke="#2a2a2a" stroke-width="0.6" fill="none"/>
<line x1="220.67" y1="198.84" x2="220.67" y2="203.56" stroke="#333" stroke-width="0.6"/>
<line x1="228.33" y1="193.47" x2="228.33" y2="198.79" stroke="#333" stroke-width="0.6"/>
<line x1="236.00" y1="188.24" x2="236.00" y2="194.15" stroke="#333" stroke-width="0.6"/>
<line x1="243.67" y1="183.00" x2="243.67" y2="189.51" stroke="#333" stroke-width="0.6"/>
<line x1="251.33" y1="178.17" x2="251.33" y2="185.22" stroke="#333" stroke-width="0.6"/>
<line x1="259.00" y1="173.20" x2="259.00" y2="180.81" stroke="#333" stroke-width="0.6"/>
<line x1="266.67" y1="169.04" x2="266.67" y2="177.12" stroke="#333" stroke-width="0.6"/>
<line x1="274.33" y1="165.01" x2="274.33" y2="173.55" stroke="#333" stroke-width="0.6"/>
<line x1="282.00" y1="161.12" x2="282.00" y2="170.10" stroke="#333" stroke-width="0.6"/>
<line x1="289.67" y1="157.49" x2="289.67" y2="166.88" stroke="#333" stroke-width="0.6"/>
<line x1="297.33" y1="152.92" x2="297.33" y2="162.84" stroke="#333" stroke-width="0.6"/>
<line x1="305.00" y1="149.57" x2="305.00" y2="159.86" stroke="#333" stroke-width="0.6"/>
<line x1="213.00" y1="198.44" x2="213.00" y2="203.20" stroke="#333" stroke-width="0.6"/>
<line x1="220.67" y1="192.94" x2="220.67" y2="198.32" stroke="#333" stroke-width="0.6"/>
<line x1="228.33" y1="187.16" x2="228.33" y2="193.20" stroke="#333" stroke-width="0.6"/>
<line x1="236.00" y1="181.93" x2="236.00" y2="188.55" stroke="#333" stroke-width="0.6"/>
<line x1="243.67" y1="176.69" x2="243.67" y2="183.91" stroke="#333" stroke-width="0.6"/>
<line x1="251.33" y1="171.45" x2="251.33" y2="179.27" stroke="#333" stroke-width="0.6"/>
<line x1="259.00" y1="166.62" x2="259.00" y2="174.98" stroke="#333" stroke-width="0.6"/>
<line x1="266.67" y1="161.38" x2="266.67" y2="170.34" stroke="#333" stroke-width="0.6"/>
<line x1="274.33" y1="156.15" x2="274.33" y2="165.69" stroke="#333" stroke-width="0.6"/>
<line x1="282.00" y1="152.25" x2="282.00" y2="162.24" stroke="#333" stroke-width="0.6"/>
<line x1="289.67" y1="148.23" x2="289.67" y2="158.67" stroke="#333" stroke-width="0.6"/>
<line x1="297.33" y1="144.87" x2="297.33" y2="155.69" stroke="#333" stroke-width="0.6"/>
<line x1="305.00" y1="141.65" x2="305.00" y2="152.83" stroke="#333" stroke-width="0.6"/>
<circle cx="190.00" cy="208.80" r="2.05" fill="#0092ff" stroke="#1d2a3a" stroke-width="0.45"/>
<circle cx="197.67" cy="208.80" r="2.05" fill="#0092ff" stroke="#1d2a3a" stroke-width="0.45"/>
<circle cx="205.33" cy="208.17" r="2.05" fill="#0092ff" stroke="#1d2a3a" stroke-width="0.45"/>
<circle cx="213.00" cy="205.63" r="2.05" fill="#0092ff" stroke="#1d2a3a" stroke-width="0.45"/>
<circle cx="220.67" cy="201.20" r="2.05" fill="#0092ff" stroke="#1d2a3a" stroke-width="0.45"/>
<circle cx="228.33" cy="196.13" r="2.05" fill="#0092ff" stroke="#1d2a3a" stroke-width="0.45"/>
<circle cx="236.00" cy="191.19" r="2.05" fill="#0092ff" stroke="#1d2a3a" stroke-width="0.45"/>
<circle cx="243.67" cy="186.25" r="2.05" fill="#0092ff" stroke="#1d2a3a" stroke-width="0.45"/>
<circle cx="251.33" cy="181.69" r="2.05" fill="#0092ff" stroke="#1d2a3a" stroke-width="0.45"/>
<circle cx="259.00" cy="177.01" r="2.05" fill="#0092ff" stroke="#1d2a3a" stroke-width="0.45"/>
<circle cx="266.67" cy="173.08" r="2.05" fill="#0092ff" stroke="#1d2a3a" stroke-width="0.45"/>
<circle cx="274.33" cy="169.28" r="2.05" fill="#0092ff" stroke="#1d2a3a" stroke-width="0.45"/>
<circle cx="282.00" cy="165.61" r="2.05" fill="#0092ff" stroke="#1d2a3a" stroke-width="0.45"/>
<circle cx="289.67" cy="162.19" r="2.05" fill="#0092ff" stroke="#1d2a3a" stroke-width="0.45"/>
<circle cx="297.33" cy="157.88" r="2.05" fill="#0092ff" stroke="#1d2a3a" stroke-width="0.45"/>
<circle cx="305.00" cy="154.71" r="2.05" fill="#0092ff" stroke="#1d2a3a" stroke-width="0.45"/>
<circle cx="190.00" cy="208.80" r="2.05" fill="#ff7a76" stroke="#3a2020" stroke-width="0.45"/>
<circle cx="197.67" cy="208.80" r="2.05" fill="#ff7a76" stroke="#3a2020" stroke-width="0.45"/>
<circle cx="205.33" cy="206.52" r="2.05" fill="#ff7a76" stroke="#3a2020" stroke-width="0.45"/>
<circle cx="213.00" cy="200.82" r="2.05" fill="#ff7a76" stroke="#3a2020" stroke-width="0.45"/>
<circle cx="220.67" cy="195.63" r="2.05" fill="#ff7a76" stroke="#3a2020" stroke-width="0.45"/>
<circle cx="228.33" cy="190.18" r="2.05" fill="#ff7a76" stroke="#3a2020" stroke-width="0.45"/>
<circle cx="236.00" cy="185.24" r="2.05" fill="#ff7a76" stroke="#3a2020" stroke-width="0.45"/>
<circle cx="243.67" cy="180.30" r="2.05" fill="#ff7a76" stroke="#3a2020" stroke-width="0.45"/>
<circle cx="251.33" cy="175.36" r="2.05" fill="#ff7a76" stroke="#3a2020" stroke-width="0.45"/>
<circle cx="259.00" cy="170.80" r="2.05" fill="#ff7a76" stroke="#3a2020" stroke-width="0.45"/>
<circle cx="266.67" cy="165.86" r="2.05" fill="#ff7a76" stroke="#3a2020" stroke-width="0.45"/>
<circle cx="274.33" cy="160.92" r="2.05" fill="#ff7a76" stroke="#3a2020" stroke-width="0.45"/>
<circle cx="282.00" cy="157.25" r="2.05" fill="#ff7a76" stroke="#3a2020" stroke-width="0.45"/>
<circle cx="289.67" cy="153.45" r="2.05" fill="#ff7a76" stroke="#3a2020" stroke-width="0.45"/>
<circle cx="297.33" cy="150.28" r="2.05" fill="#ff7a76" stroke="#3a2020" stroke-width="0.45"/>
<circle cx="305.00" cy="147.24" r="2.05" fill="#ff7a76" stroke="#3a2020" stroke-width="0.45"/>
<text x="212.00" y="152.00" font-size="9.3" textLength="26.60" lengthAdjust="spacingAndGlyphs" stroke="#231f20" stroke-width="0.13">Type II</text>
<text x="168.60" y="171.60" font-size="9.5" text-anchor="middle" textLength="59.30" lengthAdjust="spacingAndGlyphs" transform="rotate(-90 168.60 171.60)" stroke="#231f20" stroke-width="0.13">Number of APs</text>
<text x="247.60" y="235.00" font-size="9.5" text-anchor="middle" textLength="68.70" lengthAdjust="spacingAndGlyphs" stroke="#231f20" stroke-width="0.13">Step current (pA)</text>
<text x="318.70" y="28.60" font-size="12" font-weight="bold" fill="#000" stroke="#000" stroke-width="0.45">c</text>
<rect x="364.19" y="102.92" width="2.25" height="3.38" fill="#7cc4ff" stroke="#2499ff" stroke-width="0.65"/>
<rect x="367.88" y="95.58" width="2.25" height="10.72" fill="#7cc4ff" stroke="#2499ff" stroke-width="0.65"/>
<rect x="371.56" y="88.22" width="2.25" height="18.07" fill="#7cc4ff" stroke="#2499ff" stroke-width="0.65"/>
<rect x="375.24" y="102.92" width="2.25" height="3.38" fill="#7cc4ff" stroke="#2499ff" stroke-width="0.65"/>
<rect x="378.92" y="91.90" width="2.25" height="14.40" fill="#7cc4ff" stroke="#2499ff" stroke-width="0.65"/>
<rect x="382.60" y="58.82" width="2.25" height="47.48" fill="#7cc4ff" stroke="#2499ff" stroke-width="0.65"/>
<rect x="386.28" y="102.92" width="2.25" height="3.38" fill="#7cc4ff" stroke="#2499ff" stroke-width="0.65"/>
<rect x="389.96" y="84.55" width="2.25" height="21.75" fill="#7cc4ff" stroke="#2499ff" stroke-width="0.65"/>
<rect x="393.63" y="99.25" width="2.25" height="7.05" fill="#7cc4ff" stroke="#2499ff" stroke-width="0.65"/>
<rect x="397.31" y="84.55" width="2.25" height="21.75" fill="#7cc4ff" stroke="#2499ff" stroke-width="0.65"/>
<rect x="401.00" y="88.22" width="2.25" height="18.07" fill="#7cc4ff" stroke="#2499ff" stroke-width="0.65"/>
<rect x="404.68" y="58.82" width="2.25" height="47.48" fill="#7cc4ff" stroke="#2499ff" stroke-width="0.65"/>
<rect x="408.36" y="99.25" width="2.25" height="7.05" fill="#7cc4ff" stroke="#2499ff" stroke-width="0.65"/>
<rect x="412.04" y="102.92" width="2.25" height="3.38" fill="#7cc4ff" stroke="#2499ff" stroke-width="0.65"/>
<rect x="437.80" y="102.92" width="2.25" height="3.38" fill="#7cc4ff" stroke="#2499ff" stroke-width="0.65"/>
<rect x="448.84" y="99.25" width="2.25" height="7.05" fill="#7cc4ff" stroke="#2499ff" stroke-width="0.65"/>
<rect x="452.51" y="95.58" width="2.25" height="10.72" fill="#7cc4ff" stroke="#2499ff" stroke-width="0.65"/>
<rect x="456.19" y="40.45" width="2.25" height="65.85" fill="#7cc4ff" stroke="#2499ff" stroke-width="0.65"/>
<rect x="459.88" y="84.55" width="2.25" height="21.75" fill="#7cc4ff" stroke="#2499ff" stroke-width="0.65"/>
<line x1="350.60" y1="32.80" x2="350.60" y2="106.30" stroke="#555555" stroke-width="0.7"/>
<line x1="350.60" y1="106.30" x2="461.60" y2="106.30" stroke="#555555" stroke-width="0.7"/>
<line x1="347.60" y1="106.30" x2="350.60" y2="106.30" stroke="#555555" stroke-width="0.7"/>
<text x="344.00" y="109.15" font-size="8.2" text-anchor="end" textLength="4.40" lengthAdjust="spacingAndGlyphs" stroke="#231f20" stroke-width="0.13">0</text>
<line x1="347.60" y1="87.92" x2="350.60" y2="87.92" stroke="#555555" stroke-width="0.7"/>
<text x="344.00" y="90.77" font-size="8.2" text-anchor="end" textLength="4.40" lengthAdjust="spacingAndGlyphs" stroke="#231f20" stroke-width="0.13">5</text>
<line x1="347.60" y1="69.55" x2="350.60" y2="69.55" stroke="#555555" stroke-width="0.7"/>
<text x="344.00" y="72.40" font-size="8.2" text-anchor="end" textLength="7.40" lengthAdjust="spacingAndGlyphs" stroke="#231f20" stroke-width="0.13">10</text>
<line x1="347.60" y1="51.17" x2="350.60" y2="51.17" stroke="#555555" stroke-width="0.7"/>
<text x="344.00" y="54.02" font-size="8.2" text-anchor="end" textLength="7.40" lengthAdjust="spacingAndGlyphs" stroke="#231f20" stroke-width="0.13">15</text>
<line x1="347.60" y1="32.80" x2="350.60" y2="32.80" stroke="#555555" stroke-width="0.7"/>
<text x="344.00" y="35.65" font-size="8.2" text-anchor="end" textLength="8.80" lengthAdjust="spacingAndGlyphs" stroke="#231f20" stroke-width="0.13">20</text>
<line x1="350.60" y1="106.30" x2="350.60" y2="108.80" stroke="#555555" stroke-width="0.7"/>
<text x="350.60" y="118.50" font-size="8.2" text-anchor="middle" textLength="4.40" lengthAdjust="spacingAndGlyphs" stroke="#231f20" stroke-width="0.13">0</text>
<line x1="387.40" y1="106.30" x2="387.40" y2="108.80" stroke="#555555" stroke-width="0.7"/>
<text x="387.40" y="118.50" font-size="8.2" text-anchor="middle" textLength="11.80" lengthAdjust="spacingAndGlyphs" stroke="#231f20" stroke-width="0.13">100</text>
<line x1="424.20" y1="106.30" x2="424.20" y2="108.80" stroke="#555555" stroke-width="0.7"/>
<text x="424.20" y="118.50" font-size="8.2" text-anchor="middle" textLength="13.20" lengthAdjust="spacingAndGlyphs" stroke="#231f20" stroke-width="0.13">200</text>
<line x1="461.00" y1="106.30" x2="461.00" y2="108.80" stroke="#555555" stroke-width="0.7"/>
<text x="461.00" y="118.50" font-size="8.2" text-anchor="middle" textLength="13.20" lengthAdjust="spacingAndGlyphs" stroke="#231f20" stroke-width="0.13">300</text>
<text x="369.30" y="42.30" font-size="9.3" textLength="20.40" lengthAdjust="spacingAndGlyphs" stroke="#231f20" stroke-width="0.13">E3-KI</text>
<text x="328.60" y="67.30" font-size="9.5" text-anchor="middle" textLength="63.20" lengthAdjust="spacingAndGlyphs" transform="rotate(-90 328.60 67.30)" stroke="#231f20" stroke-width="0.13">Number of cells</text>
<rect x="356.27" y="205.40" width="2.25" height="3.40" fill="#ffbcba" stroke="#ff8884" stroke-width="0.65"/>
<rect x="359.98" y="198.00" width="2.25" height="10.80" fill="#ffbcba" stroke="#ff8884" stroke-width="0.65"/>
<rect x="363.68" y="190.60" width="2.25" height="18.20" fill="#ffbcba" stroke="#ff8884" stroke-width="0.65"/>
<rect x="367.38" y="186.90" width="2.25" height="21.90" fill="#ffbcba" stroke="#ff8884" stroke-width="0.65"/>
<rect x="371.07" y="194.30" width="2.25" height="14.50" fill="#ffbcba" stroke="#ff8884" stroke-width="0.65"/>
<rect x="374.77" y="179.50" width="2.25" height="29.30" fill="#ffbcba" stroke="#ff8884" stroke-width="0.65"/>
<rect x="378.48" y="198.00" width="2.25" height="10.80" fill="#ffbcba" stroke="#ff8884" stroke-width="0.65"/>
<rect x="382.18" y="179.50" width="2.25" height="29.30" fill="#ffbcba" stroke="#ff8884" stroke-width="0.65"/>
<rect x="385.88" y="161.00" width="2.25" height="47.80" fill="#ffbcba" stroke="#ff8884" stroke-width="0.65"/>
<rect x="389.57" y="201.70" width="2.25" height="7.10" fill="#ffbcba" stroke="#ff8884" stroke-width="0.65"/>
<rect x="393.27" y="205.40" width="2.25" height="3.40" fill="#ffbcba" stroke="#ff8884" stroke-width="0.65"/>
<rect x="396.98" y="198.00" width="2.25" height="10.80" fill="#ffbcba" stroke="#ff8884" stroke-width="0.65"/>
<rect x="400.68" y="194.30" width="2.25" height="14.50" fill="#ffbcba" stroke="#ff8884" stroke-width="0.65"/>
<rect x="404.38" y="183.20" width="2.25" height="25.60" fill="#ffbcba" stroke="#ff8884" stroke-width="0.65"/>
<rect x="408.07" y="205.40" width="2.25" height="3.40" fill="#ffbcba" stroke="#ff8884" stroke-width="0.65"/>
<rect x="437.68" y="205.40" width="2.25" height="3.40" fill="#ffbcba" stroke="#ff8884" stroke-width="0.65"/>
<rect x="441.38" y="205.40" width="2.25" height="3.40" fill="#ffbcba" stroke="#ff8884" stroke-width="0.65"/>
<rect x="456.18" y="142.50" width="2.25" height="66.30" fill="#ffbcba" stroke="#ff8884" stroke-width="0.65"/>
<rect x="459.88" y="186.90" width="2.25" height="21.90" fill="#ffbcba" stroke="#ff8884" stroke-width="0.65"/>
<line x1="350.00" y1="134.80" x2="350.00" y2="208.80" stroke="#555555" stroke-width="0.7"/>
<line x1="350.00" y1="208.80" x2="461.60" y2="208.80" stroke="#555555" stroke-width="0.7"/>
<line x1="347.00" y1="208.80" x2="350.00" y2="208.80" stroke="#555555" stroke-width="0.7"/>
<text x="343.40" y="211.65" font-size="8.2" text-anchor="end" textLength="4.40" lengthAdjust="spacingAndGlyphs" stroke="#231f20" stroke-width="0.13">0</text>
<line x1="347.00" y1="190.30" x2="350.00" y2="190.30" stroke="#555555" stroke-width="0.7"/>
<text x="343.40" y="193.15" font-size="8.2" text-anchor="end" textLength="4.40" lengthAdjust="spacingAndGlyphs" stroke="#231f20" stroke-width="0.13">5</text>
<line x1="347.00" y1="171.80" x2="350.00" y2="171.80" stroke="#555555" stroke-width="0.7"/>
<text x="343.40" y="174.65" font-size="8.2" text-anchor="end" textLength="7.40" lengthAdjust="spacingAndGlyphs" stroke="#231f20" stroke-width="0.13">10</text>
<line x1="347.00" y1="153.30" x2="350.00" y2="153.30" stroke="#555555" stroke-width="0.7"/>
<text x="343.40" y="156.15" font-size="8.2" text-anchor="end" textLength="7.40" lengthAdjust="spacingAndGlyphs" stroke="#231f20" stroke-width="0.13">15</text>
<line x1="347.00" y1="134.80" x2="350.00" y2="134.80" stroke="#555555" stroke-width="0.7"/>
<text x="343.40" y="137.65" font-size="8.2" text-anchor="end" textLength="8.80" lengthAdjust="spacingAndGlyphs" stroke="#231f20" stroke-width="0.13">20</text>
<line x1="350.00" y1="208.80" x2="350.00" y2="211.30" stroke="#555555" stroke-width="0.7"/>
<text x="350.00" y="222.00" font-size="8.2" text-anchor="middle" textLength="4.40" lengthAdjust="spacingAndGlyphs" stroke="#231f20" stroke-width="0.13">0</text>
<line x1="387.00" y1="208.80" x2="387.00" y2="211.30" stroke="#555555" stroke-width="0.7"/>
<text x="387.00" y="222.00" font-size="8.2" text-anchor="middle" textLength="11.80" lengthAdjust="spacingAndGlyphs" stroke="#231f20" stroke-width="0.13">100</text>
<line x1="424.00" y1="208.80" x2="424.00" y2="211.30" stroke="#555555" stroke-width="0.7"/>
<text x="424.00" y="222.00" font-size="8.2" text-anchor="middle" textLength="13.20" lengthAdjust="spacingAndGlyphs" stroke="#231f20" stroke-width="0.13">200</text>
<line x1="461.00" y1="208.80" x2="461.00" y2="211.30" stroke="#555555" stroke-width="0.7"/>
<text x="461.00" y="222.00" font-size="8.2" text-anchor="middle" textLength="13.20" lengthAdjust="spacingAndGlyphs" stroke="#231f20" stroke-width="0.13">300</text>
<text x="369.60" y="151.80" font-size="9.3" textLength="20.40" lengthAdjust="spacingAndGlyphs" stroke="#231f20" stroke-width="0.13">E4-KI</text>
<text x="328.60" y="170.50" font-size="9.5" text-anchor="middle" textLength="63.20" lengthAdjust="spacingAndGlyphs" transform="rotate(-90 328.60 170.50)" stroke="#231f20" stroke-width="0.13">Number of cells</text>
<text x="405.00" y="234.50" font-size="9.5" text-anchor="middle" textLength="96.80" lengthAdjust="spacingAndGlyphs" stroke="#231f20" stroke-width="0.13">Inactivation current (pA)</text>
<text x="495.70" y="28.80" font-size="12" font-weight="bold" fill="#000" stroke="#000" stroke-width="0.45">d</text>
<text x="532.10" y="40.80" font-size="9.2" text-anchor="middle" textLength="25.00" lengthAdjust="spacingAndGlyphs" stroke="#231f20" stroke-width="0.13">Young</text>
<text x="650.80" y="40.80" font-size="9.2" text-anchor="middle" textLength="21.00" lengthAdjust="spacingAndGlyphs" stroke="#231f20" stroke-width="0.13">Aged</text>
<circle cx="531.4" cy="87.6" r="36.0" fill="#fff" stroke="#1a1a1a" stroke-width="0.7"/>
<path d="M531.4,87.6 L531.4,51.599999999999994 A36.0,36.0 0 0 1 562.27,106.12 Z" fill="#0092ff" stroke="#1a1a1a" stroke-width="0.7"/>
<text x="549.80" y="76.00" font-size="8.4" text-anchor="middle" fill="#fff" textLength="14.50" lengthAdjust="spacingAndGlyphs" stroke="#fff" stroke-width="0.08">32%</text>
<text x="549.80" y="84.60" font-size="8.4" text-anchor="middle" fill="#fff" textLength="22.00" lengthAdjust="spacingAndGlyphs" stroke="#fff" stroke-width="0.08">(11/34)</text>
<text x="519.30" y="94.60" font-size="8.4" text-anchor="middle" textLength="14.50" lengthAdjust="spacingAndGlyphs" stroke="#231f20" stroke-width="0.13">68%</text>
<text x="519.30" y="103.20" font-size="8.4" text-anchor="middle" textLength="25.50" lengthAdjust="spacingAndGlyphs" stroke="#231f20" stroke-width="0.13">(23/34)</text>
<circle cx="649.1" cy="87.4" r="35.8" fill="#fff" stroke="#1a1a1a" stroke-width="0.7"/>
<path d="M649.1,87.4 L649.1,51.60000000000001 A35.8,35.8 0 0 1 664.63,119.65 Z" fill="#0092ff" stroke="#1a1a1a" stroke-width="0.7"/>
<text x="667.90" y="78.80" font-size="8.4" text-anchor="middle" fill="#fff" textLength="14.50" lengthAdjust="spacingAndGlyphs" stroke="#fff" stroke-width="0.08">43%</text>
<text x="667.90" y="87.40" font-size="8.4" text-anchor="middle" fill="#fff" textLength="25.50" lengthAdjust="spacingAndGlyphs" stroke="#fff" stroke-width="0.08">(24/56)</text>
<text x="632.30" y="86.00" font-size="8.4" text-anchor="middle" textLength="14.50" lengthAdjust="spacingAndGlyphs" stroke="#231f20" stroke-width="0.13">57%</text>
<text x="632.30" y="94.60" font-size="8.4" text-anchor="middle" textLength="25.50" lengthAdjust="spacingAndGlyphs" stroke="#231f20" stroke-width="0.13">(32/56)</text>
<circle cx="530.5" cy="174.4" r="34.2" fill="#fff" stroke="#1a1a1a" stroke-width="0.7"/>
<path d="M530.5,174.4 L530.5,140.2 A34.2,34.2 0 0 1 557.79,195.01 Z" fill="#ff7a76" stroke="#1a1a1a" stroke-width="0.7"/>
<text x="547.50" y="164.70" font-size="8.4" text-anchor="middle" fill="#fff" textLength="14.50" lengthAdjust="spacingAndGlyphs" stroke="#fff" stroke-width="0.08">35%</text>
<text x="547.50" y="173.30" font-size="8.4" text-anchor="middle" fill="#fff" textLength="24.00" lengthAdjust="spacingAndGlyphs" stroke="#fff" stroke-width="0.08">(12/34)</text>
<text x="517.60" y="183.20" font-size="8.4" text-anchor="middle" textLength="14.50" lengthAdjust="spacingAndGlyphs" stroke="#231f20" stroke-width="0.13">65%</text>
<text x="517.60" y="191.80" font-size="8.4" text-anchor="middle" textLength="25.50" lengthAdjust="spacingAndGlyphs" stroke="#231f20" stroke-width="0.13">(22/34)</text>
<circle cx="649.7" cy="174.7" r="34.3" fill="#fff" stroke="#1a1a1a" stroke-width="0.7"/>
<path d="M649.7,174.7 L649.7,140.39999999999998 A34.3,34.3 0 1 1 622.72,195.88 Z" fill="#ff7a76" stroke="#1a1a1a" stroke-width="0.7"/>
<text x="663.10" y="181.00" font-size="8.4" text-anchor="middle" fill="#fff" textLength="14.50" lengthAdjust="spacingAndGlyphs" stroke="#fff" stroke-width="0.08">64%</text>
<text x="663.10" y="189.60" font-size="8.4" text-anchor="middle" fill="#fff" textLength="25.50" lengthAdjust="spacingAndGlyphs" stroke="#fff" stroke-width="0.08">(38/59)</text>
<text x="634.30" y="166.70" font-size="8.4" text-anchor="middle" textLength="14.50" lengthAdjust="spacingAndGlyphs" stroke="#231f20" stroke-width="0.13">36%</text>
<text x="634.30" y="175.30" font-size="8.4" text-anchor="middle" textLength="25.50" lengthAdjust="spacingAndGlyphs" stroke="#231f20" stroke-width="0.13">(21/59)</text>
<rect x="562.6" y="45.5" width="8" height="7.4" fill="#0092ff" stroke="#1a1a1a" stroke-width="0.6"/>
<rect x="562.6" y="57.7" width="8" height="7.4" fill="#fff" stroke="#1a1a1a" stroke-width="0.6"/>
<text x="574.00" y="51.70" font-size="8.3" textLength="20.00" lengthAdjust="spacingAndGlyphs" stroke="#231f20" stroke-width="0.13">Type I</text>
<text x="574.00" y="63.60" font-size="8.3" textLength="22.50" lengthAdjust="spacingAndGlyphs" stroke="#231f20" stroke-width="0.13">Type II</text>
<rect x="559.7" y="131.4" width="8" height="7.6" fill="#ff7a76" stroke="#1a1a1a" stroke-width="0.6"/>
<rect x="559.7" y="143.4" width="8" height="7.6" fill="#fff" stroke="#1a1a1a" stroke-width="0.6"/>
<text x="571.50" y="137.60" font-size="8.3" textLength="20.00" lengthAdjust="spacingAndGlyphs" stroke="#231f20" stroke-width="0.13">Type I</text>
<text x="571.50" y="149.60" font-size="8.3" textLength="22.50" lengthAdjust="spacingAndGlyphs" stroke="#231f20" stroke-width="0.13">Type II</text>
<text x="577.70" y="112.00" font-size="9.6" textLength="20.50" lengthAdjust="spacingAndGlyphs" stroke="#231f20" stroke-width="0.13">E3-KI</text>
<text x="575.40" y="199.90" font-size="9.6" textLength="20.00" lengthAdjust="spacingAndGlyphs" stroke="#231f20" stroke-width="0.13">E4-KI</text>
<text x="26.60" y="296.00" font-size="9.2" text-anchor="end" textLength="23.60" lengthAdjust="spacingAndGlyphs" stroke="#231f20" stroke-width="0.13">Type I</text>
<rect x="75.35" y="296.95" width="8.00" height="35.35" fill="#84c9ff" stroke="#3f5d78" stroke-width="0.7"/>
<rect x="89.55" y="301.19" width="7.90" height="31.11" fill="#ffb8b6" stroke="#8a5a58" stroke-width="0.7"/>
<rect x="113.45" y="302.61" width="7.80" height="29.69" fill="#84c9ff" stroke="#3f5d78" stroke-width="0.7"/>
<rect x="127.65" y="305.43" width="7.90" height="26.87" fill="#ffb8b6" stroke="#8a5a58" stroke-width="0.7"/>
<circle cx="79.65" cy="305.43" r="0.85" fill="#0e5897"/>
<circle cx="79.14" cy="289.88" r="0.85" fill="#0e5897"/>
<circle cx="81.17" cy="292.25" r="0.85" fill="#0e5897"/>
<circle cx="79.64" cy="297.05" r="0.85" fill="#0e5897"/>
<circle cx="80.69" cy="293.92" r="0.85" fill="#0e5897"/>
<circle cx="78.81" cy="296.67" r="0.85" fill="#0e5897"/>
<circle cx="79.67" cy="292.43" r="0.85" fill="#0e5897"/>
<circle cx="80.86" cy="298.07" r="0.85" fill="#0e5897"/>
<circle cx="80.38" cy="294.14" r="0.85" fill="#0e5897"/>
<circle cx="79.54" cy="296.91" r="0.85" fill="#0e5897"/>
<circle cx="77.75" cy="290.73" r="0.85" fill="#0e5897"/>
<line x1="79.35" y1="295.78" x2="79.35" y2="298.12" stroke="#1c3550" stroke-width="0.7"/>
<line x1="77.35" y1="295.78" x2="81.35" y2="295.78" stroke="#1c3550" stroke-width="0.7"/>
<line x1="77.35" y1="298.12" x2="81.35" y2="298.12" stroke="#1c3550" stroke-width="0.7"/>
<circle cx="92.90" cy="309.68" r="0.85" fill="#983634"/>
<circle cx="92.41" cy="296.24" r="0.85" fill="#983634"/>
<circle cx="90.92" cy="306.57" r="0.85" fill="#983634"/>
<circle cx="91.92" cy="303.50" r="0.85" fill="#983634"/>
<circle cx="94.49" cy="300.20" r="0.85" fill="#983634"/>
<circle cx="92.07" cy="298.42" r="0.85" fill="#983634"/>
<circle cx="93.17" cy="302.09" r="0.85" fill="#983634"/>
<circle cx="93.29" cy="302.31" r="0.85" fill="#983634"/>
<circle cx="93.62" cy="299.73" r="0.85" fill="#983634"/>
<circle cx="96.11" cy="299.81" r="0.85" fill="#983634"/>
<circle cx="92.73" cy="299.03" r="0.85" fill="#983634"/>
<circle cx="93.96" cy="302.10" r="0.85" fill="#983634"/>
<line x1="93.50" y1="300.22" x2="93.50" y2="302.16" stroke="#4a2020" stroke-width="0.7"/>
<line x1="91.50" y1="300.22" x2="95.50" y2="300.22" stroke="#4a2020" stroke-width="0.7"/>
<line x1="91.50" y1="302.16" x2="95.50" y2="302.16" stroke="#4a2020" stroke-width="0.7"/>
<circle cx="116.00" cy="320.28" r="0.85" fill="#0e5897"/>
<circle cx="117.48" cy="278.57" r="0.85" fill="#0e5897"/>
<circle cx="116.33" cy="305.63" r="0.85" fill="#0e5897"/>
<circle cx="118.83" cy="312.57" r="0.85" fill="#0e5897"/>
<circle cx="115.93" cy="314.66" r="0.85" fill="#0e5897"/>
<circle cx="115.96" cy="303.24" r="0.85" fill="#0e5897"/>
<circle cx="117.02" cy="304.31" r="0.85" fill="#0e5897"/>
<circle cx="117.44" cy="290.94" r="0.85" fill="#0e5897"/>
<circle cx="117.47" cy="302.50" r="0.85" fill="#0e5897"/>
<circle cx="118.25" cy="305.94" r="0.85" fill="#0e5897"/>
<circle cx="114.87" cy="299.97" r="0.85" fill="#0e5897"/>
<circle cx="115.90" cy="301.49" r="0.85" fill="#0e5897"/>
<circle cx="118.12" cy="311.19" r="0.85" fill="#0e5897"/>
<circle cx="114.89" cy="298.85" r="0.85" fill="#0e5897"/>
<circle cx="117.80" cy="309.41" r="0.85" fill="#0e5897"/>
<circle cx="116.34" cy="297.42" r="0.85" fill="#0e5897"/>
<circle cx="118.53" cy="306.23" r="0.85" fill="#0e5897"/>
<circle cx="115.54" cy="287.59" r="0.85" fill="#0e5897"/>
<circle cx="117.58" cy="293.98" r="0.85" fill="#0e5897"/>
<circle cx="117.48" cy="310.09" r="0.85" fill="#0e5897"/>
<circle cx="119.77" cy="309.39" r="0.85" fill="#0e5897"/>
<circle cx="117.57" cy="283.99" r="0.85" fill="#0e5897"/>
<circle cx="117.35" cy="305.36" r="0.85" fill="#0e5897"/>
<circle cx="118.05" cy="299.23" r="0.85" fill="#0e5897"/>
<line x1="117.35" y1="300.48" x2="117.35" y2="304.73" stroke="#1c3550" stroke-width="0.7"/>
<line x1="115.35" y1="300.48" x2="119.35" y2="300.48" stroke="#1c3550" stroke-width="0.7"/>
<line x1="115.35" y1="304.73" x2="119.35" y2="304.73" stroke="#1c3550" stroke-width="0.7"/>
<circle cx="133.77" cy="321.69" r="0.85" fill="#983634"/>
<circle cx="129.34" cy="272.21" r="0.85" fill="#983634"/>
<circle cx="132.57" cy="307.18" r="0.85" fill="#983634"/>
<circle cx="131.71" cy="295.59" r="0.85" fill="#983634"/>
<circle cx="129.58" cy="308.19" r="0.85" fill="#983634"/>
<circle cx="134.70" cy="302.84" r="0.85" fill="#983634"/>
<circle cx="131.87" cy="309.52" r="0.85" fill="#983634"/>
<circle cx="130.30" cy="302.56" r="0.85" fill="#983634"/>
<circle cx="132.10" cy="297.03" r="0.85" fill="#983634"/>
<circle cx="133.73" cy="316.31" r="0.85" fill="#983634"/>
<circle cx="133.38" cy="311.07" r="0.85" fill="#983634"/>
<circle cx="128.71" cy="305.79" r="0.85" fill="#983634"/>
<circle cx="129.92" cy="303.88" r="0.85" fill="#983634"/>
<circle cx="134.11" cy="286.12" r="0.85" fill="#983634"/>
<circle cx="130.95" cy="286.82" r="0.85" fill="#983634"/>
<circle cx="130.05" cy="305.23" r="0.85" fill="#983634"/>
<circle cx="132.66" cy="301.31" r="0.85" fill="#983634"/>
<circle cx="131.50" cy="283.34" r="0.85" fill="#983634"/>
<circle cx="131.51" cy="303.43" r="0.85" fill="#983634"/>
<circle cx="130.99" cy="293.68" r="0.85" fill="#983634"/>
<circle cx="133.15" cy="310.48" r="0.85" fill="#983634"/>
<circle cx="134.41" cy="306.92" r="0.85" fill="#983634"/>
<circle cx="132.17" cy="294.94" r="0.85" fill="#983634"/>
<circle cx="134.00" cy="311.09" r="0.85" fill="#983634"/>
<circle cx="129.33" cy="290.13" r="0.85" fill="#983634"/>
<circle cx="129.95" cy="305.77" r="0.85" fill="#983634"/>
<circle cx="130.70" cy="321.28" r="0.85" fill="#983634"/>
<circle cx="132.58" cy="313.98" r="0.85" fill="#983634"/>
<circle cx="130.85" cy="281.14" r="0.85" fill="#983634"/>
<circle cx="134.44" cy="310.01" r="0.85" fill="#983634"/>
<circle cx="128.72" cy="307.60" r="0.85" fill="#983634"/>
<circle cx="129.39" cy="308.24" r="0.85" fill="#983634"/>
<circle cx="132.20" cy="314.86" r="0.85" fill="#983634"/>
<circle cx="131.09" cy="302.04" r="0.85" fill="#983634"/>
<circle cx="130.95" cy="293.56" r="0.85" fill="#983634"/>
<circle cx="131.38" cy="316.53" r="0.85" fill="#983634"/>
<circle cx="132.15" cy="308.21" r="0.85" fill="#983634"/>
<circle cx="131.74" cy="296.13" r="0.85" fill="#983634"/>
<line x1="131.60" y1="303.43" x2="131.60" y2="307.44" stroke="#4a2020" stroke-width="0.7"/>
<line x1="129.60" y1="303.43" x2="133.60" y2="303.43" stroke="#4a2020" stroke-width="0.7"/>
<line x1="129.60" y1="307.44" x2="133.60" y2="307.44" stroke="#4a2020" stroke-width="0.7"/>
<line x1="69.50" y1="261.60" x2="69.50" y2="332.30" stroke="#5a5a5a" stroke-width="0.75"/>
<line x1="69.50" y1="332.30" x2="140.50" y2="332.30" stroke="#5a5a5a" stroke-width="0.75"/>
<line x1="66.50" y1="332.30" x2="69.50" y2="332.30" stroke="#5a5a5a" stroke-width="0.75"/>
<text x="62.40" y="335.15" font-size="8.2" text-anchor="end" textLength="4.40" lengthAdjust="spacingAndGlyphs" stroke="#231f20" stroke-width="0.13">0</text>
<line x1="66.50" y1="318.16" x2="69.50" y2="318.16" stroke="#5a5a5a" stroke-width="0.75"/>
<text x="62.40" y="321.01" font-size="8.2" text-anchor="end" textLength="8.80" lengthAdjust="spacingAndGlyphs" stroke="#231f20" stroke-width="0.13">20</text>
<line x1="66.50" y1="304.02" x2="69.50" y2="304.02" stroke="#5a5a5a" stroke-width="0.75"/>
<text x="62.40" y="306.87" font-size="8.2" text-anchor="end" textLength="8.80" lengthAdjust="spacingAndGlyphs" stroke="#231f20" stroke-width="0.13">40</text>
<line x1="66.50" y1="289.88" x2="69.50" y2="289.88" stroke="#5a5a5a" stroke-width="0.75"/>
<text x="62.40" y="292.73" font-size="8.2" text-anchor="end" textLength="8.80" lengthAdjust="spacingAndGlyphs" stroke="#231f20" stroke-width="0.13">60</text>
<line x1="66.50" y1="275.74" x2="69.50" y2="275.74" stroke="#5a5a5a" stroke-width="0.75"/>
<text x="62.40" y="278.59" font-size="8.2" text-anchor="end" textLength="8.80" lengthAdjust="spacingAndGlyphs" stroke="#231f20" stroke-width="0.13">80</text>
<line x1="66.50" y1="261.60" x2="69.50" y2="261.60" stroke="#5a5a5a" stroke-width="0.75"/>
<text x="62.40" y="264.45" font-size="8.2" text-anchor="end" textLength="11.80" lengthAdjust="spacingAndGlyphs" stroke="#231f20" stroke-width="0.13">100</text>
<line x1="105.40" y1="261.10" x2="105.40" y2="332.30" stroke="#2a2a2a" stroke-width="0.9" stroke-dasharray="3.1,2.3"/>
<text x="86.50" y="344.50" font-size="9.1" text-anchor="middle" textLength="25.50" lengthAdjust="spacingAndGlyphs" stroke="#231f20" stroke-width="0.13">Young</text>
<text x="124.70" y="344.50" font-size="9.1" text-anchor="middle" textLength="21.50" lengthAdjust="spacingAndGlyphs" stroke="#231f20" stroke-width="0.13">Aged</text>
<text x="0" y="0" font-size="8.6" text-anchor="middle" stroke="#231f20" stroke-width="0.13" transform="translate(41.30 296.00) rotate(-90) scale(0.9719 1)"><tspan font-size="8.6" dy="0">C</tspan><tspan font-size="6.2" dy="1.9">m</tspan><tspan font-size="8.6" dy="-1.9"> (pF)</tspan></text>
<path d="M79.40,268.00 L79.40,263.40 L93.50,263.40 L93.50,268.00" stroke="#333" stroke-width="0.7" fill="none"/>
<text x="87.90" y="259.70" font-size="8.3" text-anchor="middle" textLength="25.60" lengthAdjust="spacingAndGlyphs" stroke="#231f20" stroke-width="0.13">0.0099</text>
<text x="35.50" y="253.60" font-size="12" font-weight="bold" fill="#000" stroke="#000" stroke-width="0.45">e</text>
<rect x="206.65" y="311.89" width="7.70" height="20.51" fill="#84c9ff" stroke="#3f5d78" stroke-width="0.7"/>
<rect x="220.85" y="308.67" width="8.30" height="23.73" fill="#ffb8b6" stroke="#8a5a58" stroke-width="0.7"/>
<rect x="244.55" y="310.18" width="8.10" height="22.22" fill="#84c9ff" stroke="#3f5d78" stroke-width="0.7"/>
<rect x="258.85" y="308.10" width="8.00" height="24.30" fill="#ffb8b6" stroke="#8a5a58" stroke-width="0.7"/>
<circle cx="209.44" cy="318.22" r="0.85" fill="#0e5897"/>
<circle cx="210.88" cy="302.15" r="0.85" fill="#0e5897"/>
<circle cx="210.83" cy="311.02" r="0.85" fill="#0e5897"/>
<circle cx="210.58" cy="304.79" r="0.85" fill="#0e5897"/>
<circle cx="209.28" cy="312.18" r="0.85" fill="#0e5897"/>
<circle cx="210.77" cy="313.19" r="0.85" fill="#0e5897"/>
<circle cx="208.30" cy="308.47" r="0.85" fill="#0e5897"/>
<circle cx="212.56" cy="310.34" r="0.85" fill="#0e5897"/>
<circle cx="208.69" cy="309.50" r="0.85" fill="#0e5897"/>
<circle cx="210.20" cy="305.35" r="0.85" fill="#0e5897"/>
<circle cx="210.53" cy="312.10" r="0.85" fill="#0e5897"/>
<line x1="210.50" y1="310.67" x2="210.50" y2="313.10" stroke="#1c3550" stroke-width="0.7"/>
<line x1="208.50" y1="310.67" x2="212.50" y2="310.67" stroke="#1c3550" stroke-width="0.7"/>
<line x1="208.50" y1="313.10" x2="212.50" y2="313.10" stroke="#1c3550" stroke-width="0.7"/>
<circle cx="225.45" cy="314.44" r="0.85" fill="#983634"/>
<circle cx="221.76" cy="302.15" r="0.85" fill="#983634"/>
<circle cx="225.22" cy="308.22" r="0.85" fill="#983634"/>
<circle cx="222.11" cy="308.17" r="0.85" fill="#983634"/>
<circle cx="224.98" cy="309.27" r="0.85" fill="#983634"/>
<circle cx="223.07" cy="309.83" r="0.85" fill="#983634"/>
<circle cx="227.52" cy="309.11" r="0.85" fill="#983634"/>
<circle cx="226.37" cy="313.11" r="0.85" fill="#983634"/>
<circle cx="224.00" cy="312.17" r="0.85" fill="#983634"/>
<circle cx="221.87" cy="304.09" r="0.85" fill="#983634"/>
<circle cx="223.58" cy="305.17" r="0.85" fill="#983634"/>
<circle cx="224.71" cy="311.12" r="0.85" fill="#983634"/>
<line x1="225.00" y1="307.79" x2="225.00" y2="309.56" stroke="#4a2020" stroke-width="0.7"/>
<line x1="223.00" y1="307.79" x2="227.00" y2="307.79" stroke="#4a2020" stroke-width="0.7"/>
<line x1="223.00" y1="309.56" x2="227.00" y2="309.56" stroke="#4a2020" stroke-width="0.7"/>
<circle cx="249.71" cy="319.17" r="0.85" fill="#0e5897"/>
<circle cx="250.99" cy="289.86" r="0.85" fill="#0e5897"/>
<circle cx="248.98" cy="309.65" r="0.85" fill="#0e5897"/>
<circle cx="249.74" cy="315.75" r="0.85" fill="#0e5897"/>
<circle cx="248.75" cy="292.56" r="0.85" fill="#0e5897"/>
<circle cx="248.94" cy="292.46" r="0.85" fill="#0e5897"/>
<circle cx="247.79" cy="302.81" r="0.85" fill="#0e5897"/>
<circle cx="249.53" cy="312.21" r="0.85" fill="#0e5897"/>
<circle cx="250.70" cy="313.96" r="0.85" fill="#0e5897"/>
<circle cx="248.27" cy="315.48" r="0.85" fill="#0e5897"/>
<circle cx="248.89" cy="304.16" r="0.85" fill="#0e5897"/>
<circle cx="249.46" cy="311.57" r="0.85" fill="#0e5897"/>
<circle cx="248.55" cy="311.54" r="0.85" fill="#0e5897"/>
<circle cx="249.94" cy="307.52" r="0.85" fill="#0e5897"/>
<circle cx="248.91" cy="311.93" r="0.85" fill="#0e5897"/>
<circle cx="246.75" cy="300.03" r="0.85" fill="#0e5897"/>
<circle cx="246.97" cy="312.52" r="0.85" fill="#0e5897"/>
<circle cx="249.63" cy="305.52" r="0.85" fill="#0e5897"/>
<circle cx="249.49" cy="306.51" r="0.85" fill="#0e5897"/>
<circle cx="250.20" cy="313.00" r="0.85" fill="#0e5897"/>
<circle cx="248.91" cy="317.05" r="0.85" fill="#0e5897"/>
<circle cx="248.85" cy="308.55" r="0.85" fill="#0e5897"/>
<circle cx="246.16" cy="299.45" r="0.85" fill="#0e5897"/>
<circle cx="250.65" cy="291.19" r="0.85" fill="#0e5897"/>
<line x1="248.60" y1="308.69" x2="248.60" y2="311.68" stroke="#1c3550" stroke-width="0.7"/>
<line x1="246.60" y1="308.69" x2="250.60" y2="308.69" stroke="#1c3550" stroke-width="0.7"/>
<line x1="246.60" y1="311.68" x2="250.60" y2="311.68" stroke="#1c3550" stroke-width="0.7"/>
<circle cx="262.70" cy="316.80" r="0.85" fill="#983634"/>
<circle cx="265.08" cy="285.61" r="0.85" fill="#983634"/>
<circle cx="263.12" cy="313.15" r="0.85" fill="#983634"/>
<circle cx="263.87" cy="311.77" r="0.85" fill="#983634"/>
<circle cx="263.60" cy="307.47" r="0.85" fill="#983634"/>
<circle cx="264.04" cy="303.56" r="0.85" fill="#983634"/>
<circle cx="260.99" cy="304.72" r="0.85" fill="#983634"/>
<circle cx="264.46" cy="298.55" r="0.85" fill="#983634"/>
<circle cx="263.01" cy="310.99" r="0.85" fill="#983634"/>
<circle cx="261.41" cy="308.37" r="0.85" fill="#983634"/>
<circle cx="263.76" cy="297.89" r="0.85" fill="#983634"/>
<circle cx="263.36" cy="301.50" r="0.85" fill="#983634"/>
<circle cx="264.75" cy="315.03" r="0.85" fill="#983634"/>
<circle cx="263.93" cy="311.77" r="0.85" fill="#983634"/>
<circle cx="263.39" cy="296.99" r="0.85" fill="#983634"/>
<circle cx="260.44" cy="307.35" r="0.85" fill="#983634"/>
<circle cx="265.33" cy="292.74" r="0.85" fill="#983634"/>
<circle cx="265.05" cy="302.93" r="0.85" fill="#983634"/>
<circle cx="264.00" cy="298.36" r="0.85" fill="#983634"/>
<circle cx="263.53" cy="314.85" r="0.85" fill="#983634"/>
<circle cx="264.65" cy="309.11" r="0.85" fill="#983634"/>
<circle cx="261.57" cy="311.98" r="0.85" fill="#983634"/>
<circle cx="263.89" cy="306.71" r="0.85" fill="#983634"/>
<circle cx="262.88" cy="308.06" r="0.85" fill="#983634"/>
<circle cx="261.37" cy="294.22" r="0.85" fill="#983634"/>
<circle cx="263.39" cy="313.69" r="0.85" fill="#983634"/>
<circle cx="263.37" cy="309.58" r="0.85" fill="#983634"/>
<circle cx="265.37" cy="300.56" r="0.85" fill="#983634"/>
<circle cx="264.25" cy="310.84" r="0.85" fill="#983634"/>
<circle cx="260.48" cy="288.52" r="0.85" fill="#983634"/>
<circle cx="259.95" cy="301.17" r="0.85" fill="#983634"/>
<circle cx="262.73" cy="313.80" r="0.85" fill="#983634"/>
<circle cx="262.54" cy="305.59" r="0.85" fill="#983634"/>
<circle cx="261.47" cy="303.76" r="0.85" fill="#983634"/>
<circle cx="260.69" cy="307.14" r="0.85" fill="#983634"/>
<circle cx="262.56" cy="306.01" r="0.85" fill="#983634"/>
<circle cx="261.14" cy="309.52" r="0.85" fill="#983634"/>
<circle cx="261.83" cy="303.11" r="0.85" fill="#983634"/>
<line x1="262.85" y1="306.84" x2="262.85" y2="309.37" stroke="#4a2020" stroke-width="0.7"/>
<line x1="260.85" y1="306.84" x2="264.85" y2="306.84" stroke="#4a2020" stroke-width="0.7"/>
<line x1="260.85" y1="309.37" x2="264.85" y2="309.37" stroke="#4a2020" stroke-width="0.7"/>
<line x1="201.30" y1="261.50" x2="201.30" y2="332.40" stroke="#5a5a5a" stroke-width="0.75"/>
<line x1="201.30" y1="332.40" x2="272.50" y2="332.40" stroke="#5a5a5a" stroke-width="0.75"/>
<line x1="198.30" y1="332.40" x2="201.30" y2="332.40" stroke="#5a5a5a" stroke-width="0.75"/>
<text x="194.20" y="335.25" font-size="8.2" text-anchor="end" textLength="4.40" lengthAdjust="spacingAndGlyphs" stroke="#231f20" stroke-width="0.13">0</text>
<line x1="198.30" y1="308.77" x2="201.30" y2="308.77" stroke="#5a5a5a" stroke-width="0.75"/>
<text x="194.20" y="311.62" font-size="8.2" text-anchor="end" textLength="13.20" lengthAdjust="spacingAndGlyphs" stroke="#231f20" stroke-width="0.13">500</text>
<line x1="198.30" y1="285.13" x2="201.30" y2="285.13" stroke="#5a5a5a" stroke-width="0.75"/>
<text x="194.20" y="287.98" font-size="8.2" text-anchor="end" textLength="18.20" lengthAdjust="spacingAndGlyphs" stroke="#231f20" stroke-width="0.13">1,000</text>
<line x1="198.30" y1="261.50" x2="201.30" y2="261.50" stroke="#5a5a5a" stroke-width="0.75"/>
<text x="194.20" y="264.35" font-size="8.2" text-anchor="end" textLength="18.20" lengthAdjust="spacingAndGlyphs" stroke="#231f20" stroke-width="0.13">1,500</text>
<line x1="236.30" y1="261.00" x2="236.30" y2="332.40" stroke="#2a2a2a" stroke-width="0.9" stroke-dasharray="3.1,2.3"/>
<text x="217.50" y="344.50" font-size="9.1" text-anchor="middle" textLength="25.50" lengthAdjust="spacingAndGlyphs" stroke="#231f20" stroke-width="0.13">Young</text>
<text x="256.80" y="344.50" font-size="9.1" text-anchor="middle" textLength="21.50" lengthAdjust="spacingAndGlyphs" stroke="#231f20" stroke-width="0.13">Aged</text>
<text x="0" y="0" font-size="8.6" text-anchor="middle" stroke="#231f20" stroke-width="0.13" transform="translate(166.60 296.60) rotate(-90) scale(0.9711 1)"><tspan font-size="8.6" dy="0" font-style="italic">R</tspan><tspan font-size="6.2" dy="1.9">in</tspan><tspan font-size="8.6" dy="-1.9"> (MΩ)</tspan></text>
<text x="158.80" y="253.30" font-size="12" font-weight="bold" fill="#000" stroke="#000" stroke-width="0.45">f</text>
<rect x="338.65" y="294.82" width="7.70" height="37.58" fill="#84c9ff" stroke="#3f5d78" stroke-width="0.7"/>
<rect x="352.65" y="292.70" width="7.70" height="39.70" fill="#ffb8b6" stroke="#8a5a58" stroke-width="0.7"/>
<rect x="376.35" y="296.24" width="7.70" height="36.16" fill="#84c9ff" stroke="#3f5d78" stroke-width="0.7"/>
<rect x="390.55" y="298.37" width="7.70" height="34.03" fill="#ffb8b6" stroke="#8a5a58" stroke-width="0.7"/>
<circle cx="340.18" cy="311.13" r="0.85" fill="#0e5897"/>
<circle cx="342.16" cy="268.59" r="0.85" fill="#0e5897"/>
<circle cx="342.25" cy="287.98" r="0.85" fill="#0e5897"/>
<circle cx="342.04" cy="302.72" r="0.85" fill="#0e5897"/>
<circle cx="342.60" cy="310.57" r="0.85" fill="#0e5897"/>
<circle cx="340.59" cy="300.86" r="0.85" fill="#0e5897"/>
<circle cx="342.39" cy="301.16" r="0.85" fill="#0e5897"/>
<circle cx="342.84" cy="308.08" r="0.85" fill="#0e5897"/>
<circle cx="343.57" cy="292.32" r="0.85" fill="#0e5897"/>
<circle cx="341.29" cy="288.94" r="0.85" fill="#0e5897"/>
<circle cx="341.93" cy="286.66" r="0.85" fill="#0e5897"/>
<line x1="342.50" y1="291.62" x2="342.50" y2="298.03" stroke="#1c3550" stroke-width="0.7"/>
<line x1="340.50" y1="291.62" x2="344.50" y2="291.62" stroke="#1c3550" stroke-width="0.7"/>
<line x1="340.50" y1="298.03" x2="344.50" y2="298.03" stroke="#1c3550" stroke-width="0.7"/>
<circle cx="358.28" cy="306.88" r="0.85" fill="#983634"/>
<circle cx="355.28" cy="270.01" r="0.85" fill="#983634"/>
<circle cx="359.04" cy="305.08" r="0.85" fill="#983634"/>
<circle cx="355.29" cy="301.42" r="0.85" fill="#983634"/>
<circle cx="358.63" cy="285.93" r="0.85" fill="#983634"/>
<circle cx="356.38" cy="290.68" r="0.85" fill="#983634"/>
<circle cx="357.97" cy="298.88" r="0.85" fill="#983634"/>
<circle cx="358.92" cy="294.62" r="0.85" fill="#983634"/>
<circle cx="359.52" cy="296.33" r="0.85" fill="#983634"/>
<circle cx="355.82" cy="296.41" r="0.85" fill="#983634"/>
<circle cx="354.45" cy="297.52" r="0.85" fill="#983634"/>
<circle cx="355.55" cy="286.13" r="0.85" fill="#983634"/>
<line x1="356.50" y1="290.04" x2="356.50" y2="295.36" stroke="#4a2020" stroke-width="0.7"/>
<line x1="354.50" y1="290.04" x2="358.50" y2="290.04" stroke="#4a2020" stroke-width="0.7"/>
<line x1="354.50" y1="295.36" x2="358.50" y2="295.36" stroke="#4a2020" stroke-width="0.7"/>
<circle cx="379.58" cy="316.80" r="0.85" fill="#0e5897"/>
<circle cx="378.13" cy="265.75" r="0.85" fill="#0e5897"/>
<circle cx="381.16" cy="274.35" r="0.85" fill="#0e5897"/>
<circle cx="380.29" cy="296.91" r="0.85" fill="#0e5897"/>
<circle cx="381.41" cy="293.23" r="0.85" fill="#0e5897"/>
<circle cx="381.92" cy="283.27" r="0.85" fill="#0e5897"/>
<circle cx="379.96" cy="288.17" r="0.85" fill="#0e5897"/>
<circle cx="379.99" cy="301.80" r="0.85" fill="#0e5897"/>
<circle cx="380.14" cy="294.46" r="0.85" fill="#0e5897"/>
<circle cx="378.58" cy="298.07" r="0.85" fill="#0e5897"/>
<circle cx="381.16" cy="280.13" r="0.85" fill="#0e5897"/>
<circle cx="382.16" cy="278.73" r="0.85" fill="#0e5897"/>
<circle cx="380.45" cy="312.50" r="0.85" fill="#0e5897"/>
<circle cx="379.86" cy="297.49" r="0.85" fill="#0e5897"/>
<circle cx="379.83" cy="293.07" r="0.85" fill="#0e5897"/>
<circle cx="379.09" cy="306.73" r="0.85" fill="#0e5897"/>
<circle cx="379.05" cy="300.05" r="0.85" fill="#0e5897"/>
<circle cx="379.63" cy="272.50" r="0.85" fill="#0e5897"/>
<circle cx="379.00" cy="299.41" r="0.85" fill="#0e5897"/>
<circle cx="379.58" cy="289.64" r="0.85" fill="#0e5897"/>
<circle cx="377.95" cy="301.25" r="0.85" fill="#0e5897"/>
<circle cx="380.70" cy="303.32" r="0.85" fill="#0e5897"/>
<circle cx="380.27" cy="305.24" r="0.85" fill="#0e5897"/>
<circle cx="378.55" cy="286.82" r="0.85" fill="#0e5897"/>
<line x1="380.20" y1="293.64" x2="380.20" y2="298.85" stroke="#1c3550" stroke-width="0.7"/>
<line x1="378.20" y1="293.64" x2="382.20" y2="293.64" stroke="#1c3550" stroke-width="0.7"/>
<line x1="378.20" y1="298.85" x2="382.20" y2="298.85" stroke="#1c3550" stroke-width="0.7"/>
<circle cx="393.80" cy="322.47" r="0.85" fill="#983634"/>
<circle cx="396.93" cy="282.77" r="0.85" fill="#983634"/>
<circle cx="397.37" cy="304.36" r="0.85" fill="#983634"/>
<circle cx="395.26" cy="313.58" r="0.85" fill="#983634"/>
<circle cx="393.28" cy="302.13" r="0.85" fill="#983634"/>
<circle cx="391.38" cy="294.04" r="0.85" fill="#983634"/>
<circle cx="396.84" cy="300.37" r="0.85" fill="#983634"/>
<circle cx="392.55" cy="292.25" r="0.85" fill="#983634"/>
<circle cx="394.19" cy="299.87" r="0.85" fill="#983634"/>
<circle cx="394.29" cy="300.10" r="0.85" fill="#983634"/>
<circle cx="394.37" cy="294.00" r="0.85" fill="#983634"/>
<circle cx="393.52" cy="315.03" r="0.85" fill="#983634"/>
<circle cx="393.75" cy="299.35" r="0.85" fill="#983634"/>
<circle cx="396.40" cy="301.27" r="0.85" fill="#983634"/>
<circle cx="392.94" cy="294.81" r="0.85" fill="#983634"/>
<circle cx="394.17" cy="304.52" r="0.85" fill="#983634"/>
<circle cx="396.22" cy="309.11" r="0.85" fill="#983634"/>
<circle cx="393.67" cy="292.93" r="0.85" fill="#983634"/>
<circle cx="393.81" cy="317.67" r="0.85" fill="#983634"/>
<circle cx="395.31" cy="303.16" r="0.85" fill="#983634"/>
<circle cx="395.45" cy="290.44" r="0.85" fill="#983634"/>
<circle cx="393.16" cy="296.20" r="0.85" fill="#983634"/>
<circle cx="394.67" cy="293.48" r="0.85" fill="#983634"/>
<circle cx="393.10" cy="296.26" r="0.85" fill="#983634"/>
<circle cx="394.97" cy="310.88" r="0.85" fill="#983634"/>
<circle cx="396.07" cy="304.08" r="0.85" fill="#983634"/>
<circle cx="394.76" cy="308.72" r="0.85" fill="#983634"/>
<circle cx="393.60" cy="304.32" r="0.85" fill="#983634"/>
<circle cx="395.23" cy="295.09" r="0.85" fill="#983634"/>
<circle cx="391.38" cy="322.29" r="0.85" fill="#983634"/>
<circle cx="395.32" cy="284.16" r="0.85" fill="#983634"/>
<circle cx="391.90" cy="311.71" r="0.85" fill="#983634"/>
<circle cx="396.41" cy="294.16" r="0.85" fill="#983634"/>
<circle cx="394.49" cy="300.43" r="0.85" fill="#983634"/>
<circle cx="394.70" cy="302.53" r="0.85" fill="#983634"/>
<circle cx="394.05" cy="305.21" r="0.85" fill="#983634"/>
<circle cx="394.25" cy="298.02" r="0.85" fill="#983634"/>
<circle cx="395.52" cy="295.91" r="0.85" fill="#983634"/>
<line x1="394.40" y1="296.76" x2="394.40" y2="299.98" stroke="#4a2020" stroke-width="0.7"/>
<line x1="392.40" y1="296.76" x2="396.40" y2="296.76" stroke="#4a2020" stroke-width="0.7"/>
<line x1="392.40" y1="299.98" x2="396.40" y2="299.98" stroke="#4a2020" stroke-width="0.7"/>
<line x1="332.60" y1="261.50" x2="332.60" y2="332.40" stroke="#5a5a5a" stroke-width="0.75"/>
<line x1="332.60" y1="332.40" x2="403.70" y2="332.40" stroke="#5a5a5a" stroke-width="0.75"/>
<line x1="329.60" y1="332.40" x2="332.60" y2="332.40" stroke="#5a5a5a" stroke-width="0.75"/>
<text x="326.30" y="335.25" font-size="8.2" text-anchor="end" textLength="4.40" lengthAdjust="spacingAndGlyphs" stroke="#231f20" stroke-width="0.13">0</text>
<line x1="329.60" y1="318.22" x2="332.60" y2="318.22" stroke="#5a5a5a" stroke-width="0.75"/>
<text x="326.30" y="321.07" font-size="8.2" text-anchor="end" textLength="9.40" lengthAdjust="spacingAndGlyphs" stroke="#231f20" stroke-width="0.13">0.1</text>
<line x1="329.60" y1="304.04" x2="332.60" y2="304.04" stroke="#5a5a5a" stroke-width="0.75"/>
<text x="326.30" y="306.89" font-size="8.2" text-anchor="end" textLength="10.80" lengthAdjust="spacingAndGlyphs" stroke="#231f20" stroke-width="0.13">0.2</text>
<line x1="329.60" y1="289.86" x2="332.60" y2="289.86" stroke="#5a5a5a" stroke-width="0.75"/>
<text x="326.30" y="292.71" font-size="8.2" text-anchor="end" textLength="10.80" lengthAdjust="spacingAndGlyphs" stroke="#231f20" stroke-width="0.13">0.3</text>
<line x1="329.60" y1="275.68" x2="332.60" y2="275.68" stroke="#5a5a5a" stroke-width="0.75"/>
<text x="326.30" y="278.53" font-size="8.2" text-anchor="end" textLength="10.80" lengthAdjust="spacingAndGlyphs" stroke="#231f20" stroke-width="0.13">0.4</text>
<line x1="329.60" y1="261.50" x2="332.60" y2="261.50" stroke="#5a5a5a" stroke-width="0.75"/>
<text x="326.30" y="264.35" font-size="8.2" text-anchor="end" textLength="10.80" lengthAdjust="spacingAndGlyphs" stroke="#231f20" stroke-width="0.13">0.5</text>
<line x1="368.40" y1="261.00" x2="368.40" y2="332.40" stroke="#2a2a2a" stroke-width="0.9" stroke-dasharray="3.1,2.3"/>
<text x="349.70" y="344.50" font-size="9.1" text-anchor="middle" textLength="25.50" lengthAdjust="spacingAndGlyphs" stroke="#231f20" stroke-width="0.13">Young</text>
<text x="388.30" y="344.50" font-size="9.1" text-anchor="middle" textLength="21.50" lengthAdjust="spacingAndGlyphs" stroke="#231f20" stroke-width="0.13">Aged</text>
<text x="0" y="0" font-size="8.6" text-anchor="middle" stroke="#231f20" stroke-width="0.13" transform="translate(307.00 296.80) rotate(-90) scale(1.0140 1)"><tspan font-size="8.6" dy="0">Gain (Hz/pA)</tspan></text>
<text x="297.30" y="253.30" font-size="12" font-weight="bold" fill="#000" stroke="#000" stroke-width="0.45">g</text>
<rect x="468.05" y="304.25" width="7.50" height="28.15" fill="#84c9ff" stroke="#3f5d78" stroke-width="0.7"/>
<rect x="482.05" y="307.23" width="7.70" height="25.17" fill="#ffb8b6" stroke="#8a5a58" stroke-width="0.7"/>
<rect x="505.75" y="305.46" width="7.70" height="26.94" fill="#84c9ff" stroke="#3f5d78" stroke-width="0.7"/>
<rect x="519.95" y="306.88" width="7.50" height="25.52" fill="#ffb8b6" stroke="#8a5a58" stroke-width="0.7"/>
<circle cx="469.45" cy="321.76" r="0.85" fill="#0e5897"/>
<circle cx="472.22" cy="289.86" r="0.85" fill="#0e5897"/>
<circle cx="472.93" cy="318.47" r="0.85" fill="#0e5897"/>
<circle cx="470.22" cy="303.14" r="0.85" fill="#0e5897"/>
<circle cx="470.18" cy="302.62" r="0.85" fill="#0e5897"/>
<circle cx="473.55" cy="301.43" r="0.85" fill="#0e5897"/>
<circle cx="469.53" cy="304.64" r="0.85" fill="#0e5897"/>
<circle cx="473.43" cy="316.26" r="0.85" fill="#0e5897"/>
<circle cx="472.79" cy="314.92" r="0.85" fill="#0e5897"/>
<circle cx="471.02" cy="312.85" r="0.85" fill="#0e5897"/>
<circle cx="470.34" cy="300.93" r="0.85" fill="#0e5897"/>
<line x1="471.80" y1="301.85" x2="471.80" y2="306.66" stroke="#1c3550" stroke-width="0.7"/>
<line x1="469.80" y1="301.85" x2="473.80" y2="301.85" stroke="#1c3550" stroke-width="0.7"/>
<line x1="469.80" y1="306.66" x2="473.80" y2="306.66" stroke="#1c3550" stroke-width="0.7"/>
<circle cx="485.09" cy="314.67" r="0.85" fill="#983634"/>
<circle cx="485.07" cy="289.86" r="0.85" fill="#983634"/>
<circle cx="484.33" cy="302.92" r="0.85" fill="#983634"/>
<circle cx="485.55" cy="291.48" r="0.85" fill="#983634"/>
<circle cx="483.20" cy="310.57" r="0.85" fill="#983634"/>
<circle cx="488.92" cy="308.26" r="0.85" fill="#983634"/>
<circle cx="486.39" cy="301.30" r="0.85" fill="#983634"/>
<circle cx="487.29" cy="312.64" r="0.85" fill="#983634"/>
<circle cx="486.49" cy="310.80" r="0.85" fill="#983634"/>
<circle cx="487.83" cy="307.10" r="0.85" fill="#983634"/>
<circle cx="485.68" cy="309.79" r="0.85" fill="#983634"/>
<circle cx="487.22" cy="313.53" r="0.85" fill="#983634"/>
<line x1="485.90" y1="305.44" x2="485.90" y2="309.02" stroke="#4a2020" stroke-width="0.7"/>
<line x1="483.90" y1="305.44" x2="487.90" y2="305.44" stroke="#4a2020" stroke-width="0.7"/>
<line x1="483.90" y1="309.02" x2="487.90" y2="309.02" stroke="#4a2020" stroke-width="0.7"/>
<circle cx="510.08" cy="325.31" r="0.85" fill="#0e5897"/>
<circle cx="510.42" cy="289.86" r="0.85" fill="#0e5897"/>
<circle cx="509.90" cy="308.70" r="0.85" fill="#0e5897"/>
<circle cx="509.24" cy="298.64" r="0.85" fill="#0e5897"/>
<circle cx="508.87" cy="323.13" r="0.85" fill="#0e5897"/>
<circle cx="511.20" cy="298.18" r="0.85" fill="#0e5897"/>
<circle cx="510.02" cy="305.04" r="0.85" fill="#0e5897"/>
<circle cx="509.63" cy="309.04" r="0.85" fill="#0e5897"/>
<circle cx="512.62" cy="300.59" r="0.85" fill="#0e5897"/>
<circle cx="510.86" cy="300.18" r="0.85" fill="#0e5897"/>
<circle cx="510.82" cy="306.88" r="0.85" fill="#0e5897"/>
<circle cx="509.82" cy="315.07" r="0.85" fill="#0e5897"/>
<circle cx="508.15" cy="320.37" r="0.85" fill="#0e5897"/>
<circle cx="511.22" cy="317.43" r="0.85" fill="#0e5897"/>
<circle cx="509.47" cy="297.91" r="0.85" fill="#0e5897"/>
<circle cx="509.68" cy="306.50" r="0.85" fill="#0e5897"/>
<circle cx="511.07" cy="301.75" r="0.85" fill="#0e5897"/>
<circle cx="511.05" cy="311.78" r="0.85" fill="#0e5897"/>
<circle cx="509.94" cy="305.85" r="0.85" fill="#0e5897"/>
<circle cx="509.63" cy="319.30" r="0.85" fill="#0e5897"/>
<circle cx="512.60" cy="304.75" r="0.85" fill="#0e5897"/>
<circle cx="510.42" cy="306.13" r="0.85" fill="#0e5897"/>
<circle cx="508.13" cy="302.87" r="0.85" fill="#0e5897"/>
<circle cx="510.67" cy="304.92" r="0.85" fill="#0e5897"/>
<line x1="509.60" y1="303.65" x2="509.60" y2="307.27" stroke="#1c3550" stroke-width="0.7"/>
<line x1="507.60" y1="303.65" x2="511.60" y2="303.65" stroke="#1c3550" stroke-width="0.7"/>
<line x1="507.60" y1="307.27" x2="511.60" y2="307.27" stroke="#1c3550" stroke-width="0.7"/>
<circle cx="523.50" cy="325.31" r="0.85" fill="#983634"/>
<circle cx="523.67" cy="272.84" r="0.85" fill="#983634"/>
<circle cx="525.07" cy="314.39" r="0.85" fill="#983634"/>
<circle cx="521.47" cy="279.68" r="0.85" fill="#983634"/>
<circle cx="525.20" cy="322.62" r="0.85" fill="#983634"/>
<circle cx="524.59" cy="305.55" r="0.85" fill="#983634"/>
<circle cx="521.90" cy="298.01" r="0.85" fill="#983634"/>
<circle cx="525.37" cy="307.40" r="0.85" fill="#983634"/>
<circle cx="523.32" cy="303.21" r="0.85" fill="#983634"/>
<circle cx="524.64" cy="320.85" r="0.85" fill="#983634"/>
<circle cx="520.75" cy="314.24" r="0.85" fill="#983634"/>
<circle cx="524.00" cy="290.81" r="0.85" fill="#983634"/>
<circle cx="524.27" cy="318.59" r="0.85" fill="#983634"/>
<circle cx="524.09" cy="303.04" r="0.85" fill="#983634"/>
<circle cx="521.60" cy="318.82" r="0.85" fill="#983634"/>
<circle cx="521.70" cy="314.38" r="0.85" fill="#983634"/>
<circle cx="522.22" cy="276.89" r="0.85" fill="#983634"/>
<circle cx="523.58" cy="317.87" r="0.85" fill="#983634"/>
<circle cx="525.21" cy="274.36" r="0.85" fill="#983634"/>
<circle cx="521.82" cy="308.17" r="0.85" fill="#983634"/>
<circle cx="526.33" cy="309.18" r="0.85" fill="#983634"/>
<circle cx="524.87" cy="274.49" r="0.85" fill="#983634"/>
<circle cx="524.09" cy="301.96" r="0.85" fill="#983634"/>
<circle cx="524.82" cy="304.91" r="0.85" fill="#983634"/>
<circle cx="524.45" cy="307.32" r="0.85" fill="#983634"/>
<circle cx="522.45" cy="325.14" r="0.85" fill="#983634"/>
<circle cx="523.95" cy="279.33" r="0.85" fill="#983634"/>
<circle cx="522.89" cy="282.82" r="0.85" fill="#983634"/>
<circle cx="524.31" cy="298.92" r="0.85" fill="#983634"/>
<circle cx="523.08" cy="314.55" r="0.85" fill="#983634"/>
<circle cx="524.66" cy="290.08" r="0.85" fill="#983634"/>
<circle cx="525.01" cy="295.16" r="0.85" fill="#983634"/>
<circle cx="522.78" cy="316.35" r="0.85" fill="#983634"/>
<circle cx="525.18" cy="304.60" r="0.85" fill="#983634"/>
<circle cx="525.51" cy="306.50" r="0.85" fill="#983634"/>
<circle cx="522.46" cy="298.98" r="0.85" fill="#983634"/>
<circle cx="524.90" cy="306.29" r="0.85" fill="#983634"/>
<circle cx="523.74" cy="315.87" r="0.85" fill="#983634"/>
<line x1="523.70" y1="304.75" x2="523.70" y2="309.00" stroke="#4a2020" stroke-width="0.7"/>
<line x1="521.70" y1="304.75" x2="525.70" y2="304.75" stroke="#4a2020" stroke-width="0.7"/>
<line x1="521.70" y1="309.00" x2="525.70" y2="309.00" stroke="#4a2020" stroke-width="0.7"/>
<line x1="462.70" y1="261.50" x2="462.70" y2="332.40" stroke="#5a5a5a" stroke-width="0.75"/>
<line x1="462.70" y1="332.40" x2="533.10" y2="332.40" stroke="#5a5a5a" stroke-width="0.75"/>
<line x1="459.70" y1="332.40" x2="462.70" y2="332.40" stroke="#5a5a5a" stroke-width="0.75"/>
<text x="455.60" y="335.25" font-size="8.2" text-anchor="end" textLength="4.40" lengthAdjust="spacingAndGlyphs" stroke="#231f20" stroke-width="0.13">0</text>
<line x1="459.70" y1="318.22" x2="462.70" y2="318.22" stroke="#5a5a5a" stroke-width="0.75"/>
<text x="455.60" y="321.07" font-size="8.2" text-anchor="end" textLength="8.80" lengthAdjust="spacingAndGlyphs" stroke="#231f20" stroke-width="0.13">20</text>
<line x1="459.70" y1="304.04" x2="462.70" y2="304.04" stroke="#5a5a5a" stroke-width="0.75"/>
<text x="455.60" y="306.89" font-size="8.2" text-anchor="end" textLength="8.80" lengthAdjust="spacingAndGlyphs" stroke="#231f20" stroke-width="0.13">40</text>
<line x1="459.70" y1="289.86" x2="462.70" y2="289.86" stroke="#5a5a5a" stroke-width="0.75"/>
<text x="455.60" y="292.71" font-size="8.2" text-anchor="end" textLength="8.80" lengthAdjust="spacingAndGlyphs" stroke="#231f20" stroke-width="0.13">60</text>
<line x1="459.70" y1="275.68" x2="462.70" y2="275.68" stroke="#5a5a5a" stroke-width="0.75"/>
<text x="455.60" y="278.53" font-size="8.2" text-anchor="end" textLength="8.80" lengthAdjust="spacingAndGlyphs" stroke="#231f20" stroke-width="0.13">80</text>
<line x1="459.70" y1="261.50" x2="462.70" y2="261.50" stroke="#5a5a5a" stroke-width="0.75"/>
<text x="455.60" y="264.35" font-size="8.2" text-anchor="end" textLength="11.80" lengthAdjust="spacingAndGlyphs" stroke="#231f20" stroke-width="0.13">100</text>
<line x1="497.50" y1="261.00" x2="497.50" y2="332.40" stroke="#2a2a2a" stroke-width="0.9" stroke-dasharray="3.1,2.3"/>
<text x="478.60" y="344.50" font-size="9.1" text-anchor="middle" textLength="25.50" lengthAdjust="spacingAndGlyphs" stroke="#231f20" stroke-width="0.13">Young</text>
<text x="517.50" y="344.50" font-size="9.1" text-anchor="middle" textLength="21.50" lengthAdjust="spacingAndGlyphs" stroke="#231f20" stroke-width="0.13">Aged</text>
<text x="0" y="0" font-size="8.6" text-anchor="middle" stroke="#231f20" stroke-width="0.13" transform="translate(438.00 296.30) rotate(-90) scale(0.9975 1)"><tspan font-size="8.6" dy="0">Rheobase (pA)</tspan></text>
<text x="428.40" y="253.30" font-size="12" font-weight="bold" fill="#000" stroke="#000" stroke-width="0.45">h</text>
<rect x="597.35" y="282.67" width="7.70" height="49.53" fill="#84c9ff" stroke="#3f5d78" stroke-width="0.7"/>
<rect x="611.65" y="288.90" width="7.70" height="43.30" fill="#ffb8b6" stroke="#8a5a58" stroke-width="0.7"/>
<rect x="634.75" y="287.85" width="7.90" height="44.35" fill="#84c9ff" stroke="#3f5d78" stroke-width="0.7"/>
<rect x="648.95" y="292.07" width="8.10" height="40.13" fill="#ffb8b6" stroke="#8a5a58" stroke-width="0.7"/>
<circle cx="600.61" cy="297.70" r="0.85" fill="#0e5897"/>
<circle cx="604.22" cy="268.84" r="0.85" fill="#0e5897"/>
<circle cx="601.28" cy="283.12" r="0.85" fill="#0e5897"/>
<circle cx="600.36" cy="291.23" r="0.85" fill="#0e5897"/>
<circle cx="601.43" cy="281.64" r="0.85" fill="#0e5897"/>
<circle cx="600.45" cy="283.22" r="0.85" fill="#0e5897"/>
<circle cx="600.65" cy="288.81" r="0.85" fill="#0e5897"/>
<circle cx="600.70" cy="284.16" r="0.85" fill="#0e5897"/>
<circle cx="604.09" cy="282.01" r="0.85" fill="#0e5897"/>
<circle cx="601.23" cy="291.00" r="0.85" fill="#0e5897"/>
<circle cx="601.45" cy="291.45" r="0.85" fill="#0e5897"/>
<line x1="601.20" y1="280.50" x2="601.20" y2="284.85" stroke="#1c3550" stroke-width="0.7"/>
<line x1="599.20" y1="280.50" x2="603.20" y2="280.50" stroke="#1c3550" stroke-width="0.7"/>
<line x1="599.20" y1="284.85" x2="603.20" y2="284.85" stroke="#1c3550" stroke-width="0.7"/>
<circle cx="615.55" cy="304.04" r="0.85" fill="#983634"/>
<circle cx="614.85" cy="277.64" r="0.85" fill="#983634"/>
<circle cx="616.55" cy="285.94" r="0.85" fill="#983634"/>
<circle cx="616.18" cy="291.65" r="0.85" fill="#983634"/>
<circle cx="614.01" cy="278.02" r="0.85" fill="#983634"/>
<circle cx="614.84" cy="285.97" r="0.85" fill="#983634"/>
<circle cx="617.00" cy="278.86" r="0.85" fill="#983634"/>
<circle cx="615.36" cy="285.99" r="0.85" fill="#983634"/>
<circle cx="615.03" cy="291.20" r="0.85" fill="#983634"/>
<circle cx="615.80" cy="300.19" r="0.85" fill="#983634"/>
<circle cx="615.45" cy="296.08" r="0.85" fill="#983634"/>
<circle cx="615.50" cy="282.28" r="0.85" fill="#983634"/>
<line x1="615.50" y1="287.00" x2="615.50" y2="290.81" stroke="#4a2020" stroke-width="0.7"/>
<line x1="613.50" y1="287.00" x2="617.50" y2="287.00" stroke="#4a2020" stroke-width="0.7"/>
<line x1="613.50" y1="290.81" x2="617.50" y2="290.81" stroke="#4a2020" stroke-width="0.7"/>
<circle cx="639.44" cy="314.60" r="0.85" fill="#0e5897"/>
<circle cx="637.27" cy="267.08" r="0.85" fill="#0e5897"/>
<circle cx="638.26" cy="277.17" r="0.85" fill="#0e5897"/>
<circle cx="638.93" cy="303.14" r="0.85" fill="#0e5897"/>
<circle cx="639.03" cy="285.40" r="0.85" fill="#0e5897"/>
<circle cx="638.51" cy="269.21" r="0.85" fill="#0e5897"/>
<circle cx="635.91" cy="278.69" r="0.85" fill="#0e5897"/>
<circle cx="638.81" cy="287.71" r="0.85" fill="#0e5897"/>
<circle cx="640.32" cy="291.99" r="0.85" fill="#0e5897"/>
<circle cx="640.43" cy="281.70" r="0.85" fill="#0e5897"/>
<circle cx="640.66" cy="277.61" r="0.85" fill="#0e5897"/>
<circle cx="638.06" cy="279.59" r="0.85" fill="#0e5897"/>
<circle cx="638.86" cy="269.23" r="0.85" fill="#0e5897"/>
<circle cx="638.03" cy="298.41" r="0.85" fill="#0e5897"/>
<circle cx="637.94" cy="283.49" r="0.85" fill="#0e5897"/>
<circle cx="639.03" cy="297.48" r="0.85" fill="#0e5897"/>
<circle cx="639.39" cy="272.66" r="0.85" fill="#0e5897"/>
<circle cx="637.69" cy="289.87" r="0.85" fill="#0e5897"/>
<circle cx="635.60" cy="307.53" r="0.85" fill="#0e5897"/>
<circle cx="640.32" cy="283.33" r="0.85" fill="#0e5897"/>
<circle cx="641.09" cy="286.53" r="0.85" fill="#0e5897"/>
<circle cx="635.60" cy="285.73" r="0.85" fill="#0e5897"/>
<circle cx="637.08" cy="292.69" r="0.85" fill="#0e5897"/>
<circle cx="639.19" cy="284.60" r="0.85" fill="#0e5897"/>
<line x1="638.70" y1="285.42" x2="638.70" y2="290.27" stroke="#1c3550" stroke-width="0.7"/>
<line x1="636.70" y1="285.42" x2="640.70" y2="285.42" stroke="#1c3550" stroke-width="0.7"/>
<line x1="636.70" y1="290.27" x2="640.70" y2="290.27" stroke="#1c3550" stroke-width="0.7"/>
<circle cx="655.23" cy="314.60" r="0.85" fill="#983634"/>
<circle cx="652.70" cy="269.54" r="0.85" fill="#983634"/>
<circle cx="652.68" cy="298.25" r="0.85" fill="#983634"/>
<circle cx="651.95" cy="291.25" r="0.85" fill="#983634"/>
<circle cx="653.19" cy="297.61" r="0.85" fill="#983634"/>
<circle cx="653.76" cy="281.86" r="0.85" fill="#983634"/>
<circle cx="653.27" cy="294.71" r="0.85" fill="#983634"/>
<circle cx="652.61" cy="287.00" r="0.85" fill="#983634"/>
<circle cx="653.86" cy="288.89" r="0.85" fill="#983634"/>
<circle cx="653.14" cy="300.56" r="0.85" fill="#983634"/>
<circle cx="653.38" cy="281.98" r="0.85" fill="#983634"/>
<circle cx="651.57" cy="298.59" r="0.85" fill="#983634"/>
<circle cx="653.32" cy="302.95" r="0.85" fill="#983634"/>
<circle cx="651.47" cy="293.74" r="0.85" fill="#983634"/>
<circle cx="651.71" cy="283.57" r="0.85" fill="#983634"/>
<circle cx="653.25" cy="297.00" r="0.85" fill="#983634"/>
<circle cx="656.17" cy="274.64" r="0.85" fill="#983634"/>
<circle cx="654.53" cy="282.65" r="0.85" fill="#983634"/>
<circle cx="653.01" cy="284.34" r="0.85" fill="#983634"/>
<circle cx="652.73" cy="291.38" r="0.85" fill="#983634"/>
<circle cx="654.51" cy="300.14" r="0.85" fill="#983634"/>
<circle cx="655.12" cy="302.80" r="0.85" fill="#983634"/>
<circle cx="654.87" cy="293.15" r="0.85" fill="#983634"/>
<circle cx="652.72" cy="306.12" r="0.85" fill="#983634"/>
<circle cx="653.29" cy="284.23" r="0.85" fill="#983634"/>
<circle cx="652.50" cy="300.44" r="0.85" fill="#983634"/>
<circle cx="652.56" cy="301.23" r="0.85" fill="#983634"/>
<circle cx="651.69" cy="276.91" r="0.85" fill="#983634"/>
<circle cx="652.62" cy="293.12" r="0.85" fill="#983634"/>
<circle cx="649.83" cy="296.38" r="0.85" fill="#983634"/>
<circle cx="651.16" cy="303.25" r="0.85" fill="#983634"/>
<circle cx="653.65" cy="279.44" r="0.85" fill="#983634"/>
<circle cx="651.58" cy="296.04" r="0.85" fill="#983634"/>
<circle cx="653.83" cy="298.84" r="0.85" fill="#983634"/>
<circle cx="651.02" cy="299.89" r="0.85" fill="#983634"/>
<circle cx="652.44" cy="307.39" r="0.85" fill="#983634"/>
<circle cx="653.61" cy="301.16" r="0.85" fill="#983634"/>
<circle cx="651.41" cy="289.86" r="0.85" fill="#983634"/>
<line x1="653.00" y1="290.24" x2="653.00" y2="293.90" stroke="#4a2020" stroke-width="0.7"/>
<line x1="651.00" y1="290.24" x2="655.00" y2="290.24" stroke="#4a2020" stroke-width="0.7"/>
<line x1="651.00" y1="293.90" x2="655.00" y2="293.90" stroke="#4a2020" stroke-width="0.7"/>
<line x1="591.40" y1="261.80" x2="591.40" y2="332.20" stroke="#5a5a5a" stroke-width="0.75"/>
<line x1="591.40" y1="332.20" x2="662.70" y2="332.20" stroke="#5a5a5a" stroke-width="0.75"/>
<line x1="588.40" y1="332.20" x2="591.40" y2="332.20" stroke="#5a5a5a" stroke-width="0.75"/>
<text x="585.20" y="335.05" font-size="8.2" text-anchor="end" textLength="4.40" lengthAdjust="spacingAndGlyphs" stroke="#231f20" stroke-width="0.13">0</text>
<line x1="588.40" y1="314.60" x2="591.40" y2="314.60" stroke="#5a5a5a" stroke-width="0.75"/>
<text x="585.20" y="317.45" font-size="8.2" text-anchor="end" textLength="8.80" lengthAdjust="spacingAndGlyphs" stroke="#231f20" stroke-width="0.13">50</text>
<line x1="588.40" y1="297.00" x2="591.40" y2="297.00" stroke="#5a5a5a" stroke-width="0.75"/>
<text x="585.20" y="299.85" font-size="8.2" text-anchor="end" textLength="11.80" lengthAdjust="spacingAndGlyphs" stroke="#231f20" stroke-width="0.13">100</text>
<line x1="588.40" y1="279.40" x2="591.40" y2="279.40" stroke="#5a5a5a" stroke-width="0.75"/>
<text x="585.20" y="282.25" font-size="8.2" text-anchor="end" textLength="11.80" lengthAdjust="spacingAndGlyphs" stroke="#231f20" stroke-width="0.13">150</text>
<line x1="588.40" y1="261.80" x2="591.40" y2="261.80" stroke="#5a5a5a" stroke-width="0.75"/>
<text x="585.20" y="264.65" font-size="8.2" text-anchor="end" textLength="13.20" lengthAdjust="spacingAndGlyphs" stroke="#231f20" stroke-width="0.13">200</text>
<line x1="627.00" y1="261.30" x2="627.00" y2="332.20" stroke="#8a8a8a" stroke-width="0.9" stroke-dasharray="3.1,2.3"/>
<text x="607.70" y="344.80" font-size="9.1" text-anchor="middle" textLength="25.50" lengthAdjust="spacingAndGlyphs" stroke="#231f20" stroke-width="0.13">Young</text>
<text x="647.00" y="344.80" font-size="9.1" text-anchor="middle" textLength="21.50" lengthAdjust="spacingAndGlyphs" stroke="#231f20" stroke-width="0.13">Aged</text>
<text x="0" y="0" font-size="8.6" text-anchor="middle" stroke="#231f20" stroke-width="0.13" transform="translate(563.00 297.60) rotate(-90) scale(1.0335 1)"><tspan font-size="8.6" dy="0">Spike latency (ms)</tspan></text>
<text x="558.50" y="252.60" font-size="12" font-weight="bold" fill="#000" stroke="#000" stroke-width="0.45">i</text>
<text x="26.60" y="422.00" font-size="9.2" text-anchor="end" textLength="26.60" lengthAdjust="spacingAndGlyphs" stroke="#231f20" stroke-width="0.13">Type II</text>
<rect x="73.95" y="419.12" width="7.70" height="33.28" fill="#84c9ff" stroke="#3f5d78" stroke-width="0.7"/>
<rect x="87.95" y="424.42" width="8.00" height="27.98" fill="#ffb8b6" stroke="#8a5a58" stroke-width="0.7"/>
<rect x="111.35" y="427.23" width="7.90" height="25.17" fill="#84c9ff" stroke="#3f5d78" stroke-width="0.7"/>
<rect x="125.65" y="424.75" width="7.70" height="27.65" fill="#ffb8b6" stroke="#8a5a58" stroke-width="0.7"/>
<circle cx="75.35" cy="433.65" r="0.85" fill="#0e5897"/>
<circle cx="78.14" cy="401.78" r="0.85" fill="#0e5897"/>
<circle cx="77.75" cy="416.45" r="0.85" fill="#0e5897"/>
<circle cx="76.55" cy="433.64" r="0.85" fill="#0e5897"/>
<circle cx="79.28" cy="424.63" r="0.85" fill="#0e5897"/>
<circle cx="77.16" cy="418.81" r="0.85" fill="#0e5897"/>
<circle cx="79.59" cy="424.25" r="0.85" fill="#0e5897"/>
<circle cx="80.29" cy="408.10" r="0.85" fill="#0e5897"/>
<circle cx="79.37" cy="424.79" r="0.85" fill="#0e5897"/>
<circle cx="77.10" cy="415.73" r="0.85" fill="#0e5897"/>
<circle cx="77.69" cy="416.01" r="0.85" fill="#0e5897"/>
<circle cx="77.16" cy="420.06" r="0.85" fill="#0e5897"/>
<circle cx="76.75" cy="409.59" r="0.85" fill="#0e5897"/>
<circle cx="78.34" cy="420.33" r="0.85" fill="#0e5897"/>
<circle cx="79.35" cy="417.11" r="0.85" fill="#0e5897"/>
<circle cx="78.43" cy="421.34" r="0.85" fill="#0e5897"/>
<circle cx="78.55" cy="413.42" r="0.85" fill="#0e5897"/>
<circle cx="79.27" cy="418.33" r="0.85" fill="#0e5897"/>
<circle cx="76.15" cy="422.14" r="0.85" fill="#0e5897"/>
<circle cx="80.27" cy="421.00" r="0.85" fill="#0e5897"/>
<circle cx="77.99" cy="408.51" r="0.85" fill="#0e5897"/>
<circle cx="79.08" cy="423.90" r="0.85" fill="#0e5897"/>
<circle cx="77.94" cy="422.21" r="0.85" fill="#0e5897"/>
<line x1="77.80" y1="417.46" x2="77.80" y2="420.79" stroke="#1c3550" stroke-width="0.7"/>
<line x1="75.80" y1="417.46" x2="79.80" y2="417.46" stroke="#1c3550" stroke-width="0.7"/>
<line x1="75.80" y1="420.79" x2="79.80" y2="420.79" stroke="#1c3550" stroke-width="0.7"/>
<circle cx="91.06" cy="434.59" r="0.85" fill="#983634"/>
<circle cx="91.19" cy="406.94" r="0.85" fill="#983634"/>
<circle cx="90.28" cy="427.29" r="0.85" fill="#983634"/>
<circle cx="92.22" cy="427.12" r="0.85" fill="#983634"/>
<circle cx="92.85" cy="410.74" r="0.85" fill="#983634"/>
<circle cx="93.07" cy="422.90" r="0.85" fill="#983634"/>
<circle cx="91.03" cy="410.42" r="0.85" fill="#983634"/>
<circle cx="94.46" cy="420.99" r="0.85" fill="#983634"/>
<circle cx="90.98" cy="424.83" r="0.85" fill="#983634"/>
<circle cx="93.89" cy="429.07" r="0.85" fill="#983634"/>
<circle cx="95.08" cy="432.90" r="0.85" fill="#983634"/>
<circle cx="91.34" cy="422.83" r="0.85" fill="#983634"/>
<circle cx="90.52" cy="429.75" r="0.85" fill="#983634"/>
<circle cx="93.36" cy="426.06" r="0.85" fill="#983634"/>
<circle cx="91.31" cy="423.36" r="0.85" fill="#983634"/>
<circle cx="93.30" cy="421.11" r="0.85" fill="#983634"/>
<circle cx="89.33" cy="423.97" r="0.85" fill="#983634"/>
<circle cx="92.15" cy="418.29" r="0.85" fill="#983634"/>
<circle cx="93.08" cy="423.57" r="0.85" fill="#983634"/>
<circle cx="91.47" cy="422.11" r="0.85" fill="#983634"/>
<circle cx="93.56" cy="424.56" r="0.85" fill="#983634"/>
<circle cx="92.01" cy="419.68" r="0.85" fill="#983634"/>
<line x1="91.95" y1="422.95" x2="91.95" y2="425.89" stroke="#4a2020" stroke-width="0.7"/>
<line x1="89.95" y1="422.95" x2="93.95" y2="422.95" stroke="#4a2020" stroke-width="0.7"/>
<line x1="89.95" y1="425.89" x2="93.95" y2="425.89" stroke="#4a2020" stroke-width="0.7"/>
<circle cx="115.13" cy="439.28" r="0.85" fill="#0e5897"/>
<circle cx="117.61" cy="412.56" r="0.85" fill="#0e5897"/>
<circle cx="116.68" cy="438.47" r="0.85" fill="#0e5897"/>
<circle cx="114.13" cy="421.83" r="0.85" fill="#0e5897"/>
<circle cx="113.92" cy="422.64" r="0.85" fill="#0e5897"/>
<circle cx="116.18" cy="426.27" r="0.85" fill="#0e5897"/>
<circle cx="115.48" cy="413.97" r="0.85" fill="#0e5897"/>
<circle cx="114.97" cy="428.50" r="0.85" fill="#0e5897"/>
<circle cx="115.65" cy="425.59" r="0.85" fill="#0e5897"/>
<circle cx="117.79" cy="435.23" r="0.85" fill="#0e5897"/>
<circle cx="115.19" cy="423.82" r="0.85" fill="#0e5897"/>
<circle cx="117.46" cy="422.57" r="0.85" fill="#0e5897"/>
<circle cx="114.60" cy="424.75" r="0.85" fill="#0e5897"/>
<circle cx="114.97" cy="422.50" r="0.85" fill="#0e5897"/>
<circle cx="115.79" cy="436.46" r="0.85" fill="#0e5897"/>
<circle cx="115.22" cy="436.52" r="0.85" fill="#0e5897"/>
<circle cx="114.59" cy="425.02" r="0.85" fill="#0e5897"/>
<circle cx="113.74" cy="421.36" r="0.85" fill="#0e5897"/>
<circle cx="114.82" cy="422.76" r="0.85" fill="#0e5897"/>
<circle cx="114.72" cy="421.20" r="0.85" fill="#0e5897"/>
<circle cx="115.32" cy="423.41" r="0.85" fill="#0e5897"/>
<circle cx="116.88" cy="430.27" r="0.85" fill="#0e5897"/>
<circle cx="116.09" cy="420.28" r="0.85" fill="#0e5897"/>
<circle cx="117.05" cy="419.14" r="0.85" fill="#0e5897"/>
<circle cx="115.64" cy="426.37" r="0.85" fill="#0e5897"/>
<circle cx="116.00" cy="420.24" r="0.85" fill="#0e5897"/>
<circle cx="116.26" cy="417.90" r="0.85" fill="#0e5897"/>
<circle cx="116.40" cy="432.00" r="0.85" fill="#0e5897"/>
<circle cx="116.84" cy="425.50" r="0.85" fill="#0e5897"/>
<circle cx="114.51" cy="427.92" r="0.85" fill="#0e5897"/>
<circle cx="115.97" cy="413.47" r="0.85" fill="#0e5897"/>
<circle cx="115.63" cy="426.23" r="0.85" fill="#0e5897"/>
<line x1="115.30" y1="426.05" x2="115.30" y2="428.41" stroke="#1c3550" stroke-width="0.7"/>
<line x1="113.30" y1="426.05" x2="117.30" y2="426.05" stroke="#1c3550" stroke-width="0.7"/>
<line x1="113.30" y1="428.41" x2="117.30" y2="428.41" stroke="#1c3550" stroke-width="0.7"/>
<circle cx="130.55" cy="446.78" r="0.85" fill="#983634"/>
<circle cx="128.94" cy="408.81" r="0.85" fill="#983634"/>
<circle cx="127.25" cy="416.73" r="0.85" fill="#983634"/>
<circle cx="129.91" cy="421.88" r="0.85" fill="#983634"/>
<circle cx="130.07" cy="425.05" r="0.85" fill="#983634"/>
<circle cx="128.85" cy="420.03" r="0.85" fill="#983634"/>
<circle cx="129.12" cy="422.62" r="0.85" fill="#983634"/>
<circle cx="128.89" cy="419.55" r="0.85" fill="#983634"/>
<circle cx="132.52" cy="442.28" r="0.85" fill="#983634"/>
<circle cx="132.15" cy="411.59" r="0.85" fill="#983634"/>
<circle cx="132.52" cy="426.66" r="0.85" fill="#983634"/>
<circle cx="130.49" cy="433.65" r="0.85" fill="#983634"/>
<circle cx="129.50" cy="433.24" r="0.85" fill="#983634"/>
<circle cx="127.36" cy="423.03" r="0.85" fill="#983634"/>
<circle cx="129.23" cy="439.44" r="0.85" fill="#983634"/>
<circle cx="127.45" cy="445.26" r="0.85" fill="#983634"/>
<circle cx="129.14" cy="417.25" r="0.85" fill="#983634"/>
<circle cx="131.00" cy="432.82" r="0.85" fill="#983634"/>
<circle cx="130.34" cy="426.17" r="0.85" fill="#983634"/>
<circle cx="132.20" cy="418.17" r="0.85" fill="#983634"/>
<circle cx="129.95" cy="425.32" r="0.85" fill="#983634"/>
<line x1="129.50" y1="422.68" x2="129.50" y2="426.82" stroke="#4a2020" stroke-width="0.7"/>
<line x1="127.50" y1="422.68" x2="131.50" y2="422.68" stroke="#4a2020" stroke-width="0.7"/>
<line x1="127.50" y1="426.82" x2="131.50" y2="426.82" stroke="#4a2020" stroke-width="0.7"/>
<line x1="68.50" y1="382.10" x2="68.50" y2="452.40" stroke="#5a5a5a" stroke-width="0.75"/>
<line x1="68.50" y1="452.40" x2="138.80" y2="452.40" stroke="#5a5a5a" stroke-width="0.75"/>
<line x1="65.50" y1="452.40" x2="68.50" y2="452.40" stroke="#5a5a5a" stroke-width="0.75"/>
<text x="61.40" y="455.25" font-size="8.2" text-anchor="end" textLength="4.40" lengthAdjust="spacingAndGlyphs" stroke="#231f20" stroke-width="0.13">0</text>
<line x1="65.50" y1="428.97" x2="68.50" y2="428.97" stroke="#5a5a5a" stroke-width="0.75"/>
<text x="61.40" y="431.82" font-size="8.2" text-anchor="end" textLength="8.80" lengthAdjust="spacingAndGlyphs" stroke="#231f20" stroke-width="0.13">50</text>
<line x1="65.50" y1="405.53" x2="68.50" y2="405.53" stroke="#5a5a5a" stroke-width="0.75"/>
<text x="61.40" y="408.38" font-size="8.2" text-anchor="end" textLength="11.80" lengthAdjust="spacingAndGlyphs" stroke="#231f20" stroke-width="0.13">100</text>
<line x1="65.50" y1="382.10" x2="68.50" y2="382.10" stroke="#5a5a5a" stroke-width="0.75"/>
<text x="61.40" y="384.95" font-size="8.2" text-anchor="end" textLength="11.80" lengthAdjust="spacingAndGlyphs" stroke="#231f20" stroke-width="0.13">150</text>
<line x1="103.30" y1="381.60" x2="103.30" y2="452.40" stroke="#2a2a2a" stroke-width="0.9" stroke-dasharray="3.1,2.3"/>
<text x="86.50" y="464.60" font-size="9.1" text-anchor="middle" textLength="25.50" lengthAdjust="spacingAndGlyphs" stroke="#231f20" stroke-width="0.13">Young</text>
<text x="124.00" y="464.60" font-size="9.1" text-anchor="middle" textLength="21.50" lengthAdjust="spacingAndGlyphs" stroke="#231f20" stroke-width="0.13">Aged</text>
<text x="0" y="0" font-size="8.6" text-anchor="middle" stroke="#231f20" stroke-width="0.13" transform="translate(41.60 417.60) rotate(-90) scale(0.9787 1)"><tspan font-size="8.6" dy="0">C</tspan><tspan font-size="6.2" dy="1.9">m</tspan><tspan font-size="8.6" dy="-1.9"> (pF)</tspan></text>
<path d="M76.90,383.10 L76.90,378.90 L116.80,378.90 L116.80,383.10" stroke="#333" stroke-width="0.7" fill="none"/>
<text x="98.80" y="375.40" font-size="8.3" text-anchor="middle" textLength="25.60" lengthAdjust="spacingAndGlyphs" stroke="#231f20" stroke-width="0.13">0.0002</text>
<path d="M77.10,398.40 L77.10,394.80 L91.80,394.80 L91.80,398.40" stroke="#333" stroke-width="0.7" fill="none"/>
<text x="86.70" y="390.40" font-size="8.3" text-anchor="middle" textLength="25.60" lengthAdjust="spacingAndGlyphs" stroke="#231f20" stroke-width="0.13">0.0063</text>
<text x="34.70" y="366.50" font-size="12" font-weight="bold" fill="#000" stroke="#000" stroke-width="0.45">j</text>
<rect x="206.65" y="430.14" width="7.70" height="23.86" fill="#84c9ff" stroke="#3f5d78" stroke-width="0.7"/>
<rect x="220.55" y="425.20" width="7.80" height="28.80" fill="#ffb8b6" stroke="#8a5a58" stroke-width="0.7"/>
<rect x="243.65" y="426.24" width="7.50" height="27.76" fill="#84c9ff" stroke="#3f5d78" stroke-width="0.7"/>
<rect x="257.35" y="424.77" width="8.00" height="29.23" fill="#ffb8b6" stroke="#8a5a58" stroke-width="0.7"/>
<circle cx="209.49" cy="436.65" r="0.85" fill="#0e5897"/>
<circle cx="208.94" cy="417.56" r="0.85" fill="#0e5897"/>
<circle cx="209.71" cy="427.45" r="0.85" fill="#0e5897"/>
<circle cx="212.13" cy="426.42" r="0.85" fill="#0e5897"/>
<circle cx="208.87" cy="426.40" r="0.85" fill="#0e5897"/>
<circle cx="209.56" cy="426.97" r="0.85" fill="#0e5897"/>
<circle cx="213.52" cy="428.37" r="0.85" fill="#0e5897"/>
<circle cx="211.60" cy="434.92" r="0.85" fill="#0e5897"/>
<circle cx="211.50" cy="429.38" r="0.85" fill="#0e5897"/>
<circle cx="210.54" cy="424.68" r="0.85" fill="#0e5897"/>
<circle cx="209.68" cy="431.59" r="0.85" fill="#0e5897"/>
<circle cx="210.10" cy="420.27" r="0.85" fill="#0e5897"/>
<circle cx="210.53" cy="424.88" r="0.85" fill="#0e5897"/>
<circle cx="209.31" cy="434.40" r="0.85" fill="#0e5897"/>
<circle cx="208.38" cy="429.33" r="0.85" fill="#0e5897"/>
<circle cx="207.89" cy="431.98" r="0.85" fill="#0e5897"/>
<circle cx="209.21" cy="432.93" r="0.85" fill="#0e5897"/>
<circle cx="209.64" cy="435.51" r="0.85" fill="#0e5897"/>
<circle cx="212.53" cy="423.66" r="0.85" fill="#0e5897"/>
<circle cx="208.94" cy="427.26" r="0.85" fill="#0e5897"/>
<circle cx="209.45" cy="433.15" r="0.85" fill="#0e5897"/>
<circle cx="207.87" cy="431.93" r="0.85" fill="#0e5897"/>
<circle cx="211.24" cy="430.89" r="0.85" fill="#0e5897"/>
<line x1="210.50" y1="429.15" x2="210.50" y2="431.14" stroke="#1c3550" stroke-width="0.7"/>
<line x1="208.50" y1="429.15" x2="212.50" y2="429.15" stroke="#1c3550" stroke-width="0.7"/>
<line x1="208.50" y1="431.14" x2="212.50" y2="431.14" stroke="#1c3550" stroke-width="0.7"/>
<circle cx="223.24" cy="434.92" r="0.85" fill="#983634"/>
<circle cx="225.13" cy="414.10" r="0.85" fill="#983634"/>
<circle cx="221.39" cy="430.26" r="0.85" fill="#983634"/>
<circle cx="223.00" cy="420.31" r="0.85" fill="#983634"/>
<circle cx="223.81" cy="424.37" r="0.85" fill="#983634"/>
<circle cx="222.83" cy="423.96" r="0.85" fill="#983634"/>
<circle cx="222.85" cy="427.75" r="0.85" fill="#983634"/>
<circle cx="222.99" cy="421.38" r="0.85" fill="#983634"/>
<circle cx="227.37" cy="432.48" r="0.85" fill="#983634"/>
<circle cx="225.48" cy="418.92" r="0.85" fill="#983634"/>
<circle cx="225.00" cy="429.76" r="0.85" fill="#983634"/>
<circle cx="221.56" cy="424.65" r="0.85" fill="#983634"/>
<circle cx="224.88" cy="421.88" r="0.85" fill="#983634"/>
<circle cx="223.07" cy="423.36" r="0.85" fill="#983634"/>
<circle cx="223.91" cy="422.28" r="0.85" fill="#983634"/>
<circle cx="224.85" cy="426.27" r="0.85" fill="#983634"/>
<circle cx="224.11" cy="431.48" r="0.85" fill="#983634"/>
<circle cx="224.06" cy="423.28" r="0.85" fill="#983634"/>
<circle cx="225.35" cy="430.09" r="0.85" fill="#983634"/>
<circle cx="224.86" cy="424.82" r="0.85" fill="#983634"/>
<circle cx="225.14" cy="425.72" r="0.85" fill="#983634"/>
<circle cx="225.57" cy="434.83" r="0.85" fill="#983634"/>
<line x1="224.45" y1="424.09" x2="224.45" y2="426.31" stroke="#4a2020" stroke-width="0.7"/>
<line x1="222.45" y1="424.09" x2="226.45" y2="424.09" stroke="#4a2020" stroke-width="0.7"/>
<line x1="222.45" y1="426.31" x2="226.45" y2="426.31" stroke="#4a2020" stroke-width="0.7"/>
<circle cx="247.03" cy="436.65" r="0.85" fill="#0e5897"/>
<circle cx="247.58" cy="413.23" r="0.85" fill="#0e5897"/>
<circle cx="248.38" cy="436.64" r="0.85" fill="#0e5897"/>
<circle cx="247.71" cy="434.27" r="0.85" fill="#0e5897"/>
<circle cx="248.29" cy="418.39" r="0.85" fill="#0e5897"/>
<circle cx="245.27" cy="424.97" r="0.85" fill="#0e5897"/>
<circle cx="245.30" cy="430.74" r="0.85" fill="#0e5897"/>
<circle cx="248.26" cy="427.55" r="0.85" fill="#0e5897"/>
<circle cx="246.06" cy="424.73" r="0.85" fill="#0e5897"/>
<circle cx="245.97" cy="430.63" r="0.85" fill="#0e5897"/>
<circle cx="245.35" cy="434.26" r="0.85" fill="#0e5897"/>
<circle cx="249.17" cy="425.29" r="0.85" fill="#0e5897"/>
<circle cx="248.44" cy="417.24" r="0.85" fill="#0e5897"/>
<circle cx="249.45" cy="436.11" r="0.85" fill="#0e5897"/>
<circle cx="246.09" cy="428.40" r="0.85" fill="#0e5897"/>
<circle cx="247.40" cy="426.63" r="0.85" fill="#0e5897"/>
<circle cx="245.81" cy="424.28" r="0.85" fill="#0e5897"/>
<circle cx="248.47" cy="422.30" r="0.85" fill="#0e5897"/>
<circle cx="249.62" cy="428.06" r="0.85" fill="#0e5897"/>
<circle cx="246.16" cy="418.57" r="0.85" fill="#0e5897"/>
<circle cx="249.58" cy="430.80" r="0.85" fill="#0e5897"/>
<circle cx="248.78" cy="427.57" r="0.85" fill="#0e5897"/>
<circle cx="247.15" cy="423.81" r="0.85" fill="#0e5897"/>
<circle cx="244.65" cy="421.99" r="0.85" fill="#0e5897"/>
<circle cx="249.36" cy="431.89" r="0.85" fill="#0e5897"/>
<circle cx="247.27" cy="425.55" r="0.85" fill="#0e5897"/>
<circle cx="246.56" cy="421.58" r="0.85" fill="#0e5897"/>
<circle cx="247.96" cy="436.00" r="0.85" fill="#0e5897"/>
<circle cx="247.97" cy="430.58" r="0.85" fill="#0e5897"/>
<circle cx="249.49" cy="422.15" r="0.85" fill="#0e5897"/>
<circle cx="245.98" cy="427.39" r="0.85" fill="#0e5897"/>
<circle cx="248.98" cy="422.67" r="0.85" fill="#0e5897"/>
<line x1="247.40" y1="425.20" x2="247.40" y2="427.28" stroke="#1c3550" stroke-width="0.7"/>
<line x1="245.40" y1="425.20" x2="249.40" y2="425.20" stroke="#1c3550" stroke-width="0.7"/>
<line x1="245.40" y1="427.28" x2="249.40" y2="427.28" stroke="#1c3550" stroke-width="0.7"/>
<circle cx="262.94" cy="436.65" r="0.85" fill="#983634"/>
<circle cx="258.92" cy="393.28" r="0.85" fill="#983634"/>
<circle cx="260.47" cy="414.01" r="0.85" fill="#983634"/>
<circle cx="262.84" cy="430.14" r="0.85" fill="#983634"/>
<circle cx="262.52" cy="436.03" r="0.85" fill="#983634"/>
<circle cx="261.36" cy="417.40" r="0.85" fill="#983634"/>
<circle cx="262.54" cy="427.56" r="0.85" fill="#983634"/>
<circle cx="261.60" cy="422.47" r="0.85" fill="#983634"/>
<circle cx="259.61" cy="423.94" r="0.85" fill="#983634"/>
<circle cx="259.04" cy="411.21" r="0.85" fill="#983634"/>
<circle cx="260.40" cy="418.48" r="0.85" fill="#983634"/>
<circle cx="262.71" cy="397.18" r="0.85" fill="#983634"/>
<circle cx="260.51" cy="429.18" r="0.85" fill="#983634"/>
<circle cx="260.02" cy="432.60" r="0.85" fill="#983634"/>
<circle cx="260.21" cy="433.67" r="0.85" fill="#983634"/>
<circle cx="259.08" cy="424.86" r="0.85" fill="#983634"/>
<circle cx="261.18" cy="417.56" r="0.85" fill="#983634"/>
<circle cx="259.61" cy="436.48" r="0.85" fill="#983634"/>
<circle cx="261.89" cy="420.93" r="0.85" fill="#983634"/>
<circle cx="258.22" cy="417.53" r="0.85" fill="#983634"/>
<circle cx="261.83" cy="428.78" r="0.85" fill="#983634"/>
<line x1="261.35" y1="422.40" x2="261.35" y2="427.13" stroke="#4a2020" stroke-width="0.7"/>
<line x1="259.35" y1="422.40" x2="263.35" y2="422.40" stroke="#4a2020" stroke-width="0.7"/>
<line x1="259.35" y1="427.13" x2="263.35" y2="427.13" stroke="#4a2020" stroke-width="0.7"/>
<line x1="201.30" y1="384.60" x2="201.30" y2="454.00" stroke="#5a5a5a" stroke-width="0.75"/>
<line x1="201.30" y1="454.00" x2="270.20" y2="454.00" stroke="#5a5a5a" stroke-width="0.75"/>
<line x1="198.30" y1="454.00" x2="201.30" y2="454.00" stroke="#5a5a5a" stroke-width="0.75"/>
<text x="194.20" y="456.85" font-size="8.2" text-anchor="end" textLength="4.40" lengthAdjust="spacingAndGlyphs" stroke="#231f20" stroke-width="0.13">0</text>
<line x1="198.30" y1="436.65" x2="201.30" y2="436.65" stroke="#5a5a5a" stroke-width="0.75"/>
<text x="194.20" y="439.50" font-size="8.2" text-anchor="end" textLength="13.20" lengthAdjust="spacingAndGlyphs" stroke="#231f20" stroke-width="0.13">200</text>
<line x1="198.30" y1="419.30" x2="201.30" y2="419.30" stroke="#5a5a5a" stroke-width="0.75"/>
<text x="194.20" y="422.15" font-size="8.2" text-anchor="end" textLength="13.20" lengthAdjust="spacingAndGlyphs" stroke="#231f20" stroke-width="0.13">400</text>
<line x1="198.30" y1="401.95" x2="201.30" y2="401.95" stroke="#5a5a5a" stroke-width="0.75"/>
<text x="194.20" y="404.80" font-size="8.2" text-anchor="end" textLength="13.20" lengthAdjust="spacingAndGlyphs" stroke="#231f20" stroke-width="0.13">600</text>
<line x1="198.30" y1="384.60" x2="201.30" y2="384.60" stroke="#5a5a5a" stroke-width="0.75"/>
<text x="194.20" y="387.45" font-size="8.2" text-anchor="end" textLength="13.20" lengthAdjust="spacingAndGlyphs" stroke="#231f20" stroke-width="0.13">800</text>
<line x1="235.50" y1="384.10" x2="235.50" y2="454.00" stroke="#2a2a2a" stroke-width="0.9" stroke-dasharray="3.1,2.3"/>
<text x="216.90" y="465.80" font-size="9.1" text-anchor="middle" textLength="25.50" lengthAdjust="spacingAndGlyphs" stroke="#231f20" stroke-width="0.13">Young</text>
<text x="254.90" y="465.80" font-size="9.1" text-anchor="middle" textLength="21.50" lengthAdjust="spacingAndGlyphs" stroke="#231f20" stroke-width="0.13">Aged</text>
<text x="0" y="0" font-size="8.6" text-anchor="middle" stroke="#231f20" stroke-width="0.13" transform="translate(171.20 419.00) rotate(-90) scale(0.9772 1)"><tspan font-size="8.6" dy="0" font-style="italic">R</tspan><tspan font-size="6.2" dy="1.9">in</tspan><tspan font-size="8.6" dy="-1.9"> (MΩ)</tspan></text>
<path d="M210.10,376.10 L210.10,372.30 L248.80,372.30 L248.80,376.10" stroke="#333" stroke-width="0.7" fill="none"/>
<text x="230.30" y="368.60" font-size="8.3" text-anchor="middle" textLength="25.60" lengthAdjust="spacingAndGlyphs" stroke="#231f20" stroke-width="0.13">0.0249</text>
<path d="M210.50,389.30 L210.50,385.00 L224.60,385.00 L224.60,389.30" stroke="#333" stroke-width="0.7" fill="none"/>
<text x="218.20" y="381.30" font-size="8.3" text-anchor="middle" textLength="25.60" lengthAdjust="spacingAndGlyphs" stroke="#231f20" stroke-width="0.13">0.0013</text>
<text x="159.20" y="367.00" font-size="12" font-weight="bold" fill="#000" stroke="#000" stroke-width="0.45">k</text>
<rect x="334.95" y="421.47" width="8.30" height="30.93" fill="#84c9ff" stroke="#3f5d78" stroke-width="0.7"/>
<rect x="349.25" y="421.99" width="7.80" height="30.41" fill="#ffb8b6" stroke="#8a5a58" stroke-width="0.7"/>
<rect x="372.55" y="425.49" width="7.50" height="26.91" fill="#84c9ff" stroke="#3f5d78" stroke-width="0.7"/>
<rect x="386.55" y="426.19" width="7.70" height="26.21" fill="#ffb8b6" stroke="#8a5a58" stroke-width="0.7"/>
<circle cx="335.97" cy="443.66" r="0.85" fill="#0e5897"/>
<circle cx="338.78" cy="392.99" r="0.85" fill="#0e5897"/>
<circle cx="340.50" cy="394.90" r="0.85" fill="#0e5897"/>
<circle cx="339.69" cy="407.94" r="0.85" fill="#0e5897"/>
<circle cx="338.53" cy="431.12" r="0.85" fill="#0e5897"/>
<circle cx="339.16" cy="418.41" r="0.85" fill="#0e5897"/>
<circle cx="338.41" cy="409.76" r="0.85" fill="#0e5897"/>
<circle cx="338.23" cy="426.99" r="0.85" fill="#0e5897"/>
<circle cx="336.88" cy="421.30" r="0.85" fill="#0e5897"/>
<circle cx="341.90" cy="431.79" r="0.85" fill="#0e5897"/>
<circle cx="338.19" cy="430.14" r="0.85" fill="#0e5897"/>
<circle cx="338.08" cy="414.74" r="0.85" fill="#0e5897"/>
<circle cx="339.08" cy="430.57" r="0.85" fill="#0e5897"/>
<circle cx="340.20" cy="426.23" r="0.85" fill="#0e5897"/>
<circle cx="340.62" cy="412.23" r="0.85" fill="#0e5897"/>
<circle cx="338.51" cy="425.55" r="0.85" fill="#0e5897"/>
<circle cx="339.06" cy="427.97" r="0.85" fill="#0e5897"/>
<circle cx="340.59" cy="432.18" r="0.85" fill="#0e5897"/>
<circle cx="338.06" cy="436.16" r="0.85" fill="#0e5897"/>
<circle cx="338.78" cy="440.40" r="0.85" fill="#0e5897"/>
<circle cx="338.07" cy="427.00" r="0.85" fill="#0e5897"/>
<circle cx="339.11" cy="421.07" r="0.85" fill="#0e5897"/>
<circle cx="339.34" cy="423.77" r="0.85" fill="#0e5897"/>
<line x1="339.10" y1="418.83" x2="339.10" y2="424.11" stroke="#1c3550" stroke-width="0.7"/>
<line x1="337.10" y1="418.83" x2="341.10" y2="418.83" stroke="#1c3550" stroke-width="0.7"/>
<line x1="337.10" y1="424.11" x2="341.10" y2="424.11" stroke="#1c3550" stroke-width="0.7"/>
<circle cx="351.81" cy="441.91" r="0.85" fill="#983634"/>
<circle cx="353.26" cy="399.98" r="0.85" fill="#983634"/>
<circle cx="353.13" cy="422.77" r="0.85" fill="#983634"/>
<circle cx="353.66" cy="414.70" r="0.85" fill="#983634"/>
<circle cx="352.30" cy="418.62" r="0.85" fill="#983634"/>
<circle cx="353.42" cy="424.73" r="0.85" fill="#983634"/>
<circle cx="352.89" cy="414.10" r="0.85" fill="#983634"/>
<circle cx="355.53" cy="418.44" r="0.85" fill="#983634"/>
<circle cx="352.62" cy="410.61" r="0.85" fill="#983634"/>
<circle cx="355.05" cy="409.86" r="0.85" fill="#983634"/>
<circle cx="353.04" cy="418.40" r="0.85" fill="#983634"/>
<circle cx="354.83" cy="424.72" r="0.85" fill="#983634"/>
<circle cx="356.21" cy="415.44" r="0.85" fill="#983634"/>
<circle cx="352.59" cy="426.89" r="0.85" fill="#983634"/>
<circle cx="353.37" cy="438.34" r="0.85" fill="#983634"/>
<circle cx="351.81" cy="420.07" r="0.85" fill="#983634"/>
<circle cx="352.11" cy="425.04" r="0.85" fill="#983634"/>
<circle cx="352.32" cy="432.96" r="0.85" fill="#983634"/>
<circle cx="353.29" cy="422.33" r="0.85" fill="#983634"/>
<circle cx="354.52" cy="441.20" r="0.85" fill="#983634"/>
<circle cx="354.47" cy="425.71" r="0.85" fill="#983634"/>
<circle cx="352.43" cy="422.25" r="0.85" fill="#983634"/>
<line x1="353.15" y1="419.76" x2="353.15" y2="424.23" stroke="#4a2020" stroke-width="0.7"/>
<line x1="351.15" y1="419.76" x2="355.15" y2="419.76" stroke="#4a2020" stroke-width="0.7"/>
<line x1="351.15" y1="424.23" x2="355.15" y2="424.23" stroke="#4a2020" stroke-width="0.7"/>
<circle cx="374.85" cy="445.41" r="0.85" fill="#0e5897"/>
<circle cx="377.01" cy="399.98" r="0.85" fill="#0e5897"/>
<circle cx="373.68" cy="424.34" r="0.85" fill="#0e5897"/>
<circle cx="375.82" cy="427.33" r="0.85" fill="#0e5897"/>
<circle cx="376.24" cy="433.84" r="0.85" fill="#0e5897"/>
<circle cx="376.82" cy="424.72" r="0.85" fill="#0e5897"/>
<circle cx="376.18" cy="420.52" r="0.85" fill="#0e5897"/>
<circle cx="375.20" cy="412.46" r="0.85" fill="#0e5897"/>
<circle cx="375.69" cy="426.73" r="0.85" fill="#0e5897"/>
<circle cx="376.64" cy="426.53" r="0.85" fill="#0e5897"/>
<circle cx="376.83" cy="408.96" r="0.85" fill="#0e5897"/>
<circle cx="375.32" cy="414.50" r="0.85" fill="#0e5897"/>
<circle cx="375.65" cy="426.90" r="0.85" fill="#0e5897"/>
<circle cx="378.73" cy="421.52" r="0.85" fill="#0e5897"/>
<circle cx="375.18" cy="430.36" r="0.85" fill="#0e5897"/>
<circle cx="376.27" cy="415.06" r="0.85" fill="#0e5897"/>
<circle cx="377.40" cy="425.05" r="0.85" fill="#0e5897"/>
<circle cx="375.37" cy="406.24" r="0.85" fill="#0e5897"/>
<circle cx="373.97" cy="431.94" r="0.85" fill="#0e5897"/>
<circle cx="379.07" cy="434.90" r="0.85" fill="#0e5897"/>
<circle cx="376.88" cy="437.78" r="0.85" fill="#0e5897"/>
<circle cx="374.06" cy="412.28" r="0.85" fill="#0e5897"/>
<circle cx="376.30" cy="438.91" r="0.85" fill="#0e5897"/>
<circle cx="378.85" cy="438.93" r="0.85" fill="#0e5897"/>
<circle cx="374.15" cy="422.66" r="0.85" fill="#0e5897"/>
<circle cx="374.80" cy="429.61" r="0.85" fill="#0e5897"/>
<circle cx="374.66" cy="421.74" r="0.85" fill="#0e5897"/>
<circle cx="378.09" cy="430.86" r="0.85" fill="#0e5897"/>
<circle cx="376.67" cy="419.17" r="0.85" fill="#0e5897"/>
<circle cx="374.97" cy="435.09" r="0.85" fill="#0e5897"/>
<circle cx="374.93" cy="421.04" r="0.85" fill="#0e5897"/>
<circle cx="374.30" cy="434.80" r="0.85" fill="#0e5897"/>
<line x1="376.30" y1="423.48" x2="376.30" y2="427.50" stroke="#1c3550" stroke-width="0.7"/>
<line x1="374.30" y1="423.48" x2="378.30" y2="423.48" stroke="#1c3550" stroke-width="0.7"/>
<line x1="374.30" y1="427.50" x2="378.30" y2="427.50" stroke="#1c3550" stroke-width="0.7"/>
<circle cx="389.76" cy="443.66" r="0.85" fill="#983634"/>
<circle cx="390.60" cy="399.98" r="0.85" fill="#983634"/>
<circle cx="391.57" cy="414.96" r="0.85" fill="#983634"/>
<circle cx="391.46" cy="417.00" r="0.85" fill="#983634"/>
<circle cx="392.53" cy="432.32" r="0.85" fill="#983634"/>
<circle cx="390.76" cy="423.45" r="0.85" fill="#983634"/>
<circle cx="390.69" cy="412.44" r="0.85" fill="#983634"/>
<circle cx="388.21" cy="417.14" r="0.85" fill="#983634"/>
<circle cx="389.60" cy="435.47" r="0.85" fill="#983634"/>
<circle cx="391.23" cy="427.06" r="0.85" fill="#983634"/>
<circle cx="388.77" cy="424.34" r="0.85" fill="#983634"/>
<circle cx="389.03" cy="430.15" r="0.85" fill="#983634"/>
<circle cx="393.01" cy="431.91" r="0.85" fill="#983634"/>
<circle cx="390.26" cy="427.75" r="0.85" fill="#983634"/>
<circle cx="388.78" cy="435.92" r="0.85" fill="#983634"/>
<circle cx="387.38" cy="430.24" r="0.85" fill="#983634"/>
<circle cx="389.11" cy="421.13" r="0.85" fill="#983634"/>
<circle cx="393.42" cy="412.15" r="0.85" fill="#983634"/>
<circle cx="390.35" cy="423.19" r="0.85" fill="#983634"/>
<circle cx="391.25" cy="421.48" r="0.85" fill="#983634"/>
<circle cx="391.34" cy="425.52" r="0.85" fill="#983634"/>
<line x1="390.40" y1="423.80" x2="390.40" y2="428.57" stroke="#4a2020" stroke-width="0.7"/>
<line x1="388.40" y1="423.80" x2="392.40" y2="423.80" stroke="#4a2020" stroke-width="0.7"/>
<line x1="388.40" y1="428.57" x2="392.40" y2="428.57" stroke="#4a2020" stroke-width="0.7"/>
<line x1="329.60" y1="382.50" x2="329.60" y2="452.40" stroke="#5a5a5a" stroke-width="0.75"/>
<line x1="329.60" y1="452.40" x2="399.70" y2="452.40" stroke="#5a5a5a" stroke-width="0.75"/>
<line x1="326.60" y1="452.40" x2="329.60" y2="452.40" stroke="#5a5a5a" stroke-width="0.75"/>
<text x="323.30" y="455.25" font-size="8.2" text-anchor="end" textLength="4.40" lengthAdjust="spacingAndGlyphs" stroke="#231f20" stroke-width="0.13">0</text>
<line x1="326.60" y1="434.92" x2="329.60" y2="434.92" stroke="#5a5a5a" stroke-width="0.75"/>
<text x="323.30" y="437.77" font-size="8.2" text-anchor="end" textLength="9.40" lengthAdjust="spacingAndGlyphs" stroke="#231f20" stroke-width="0.13">0.1</text>
<line x1="326.60" y1="417.45" x2="329.60" y2="417.45" stroke="#5a5a5a" stroke-width="0.75"/>
<text x="323.30" y="420.30" font-size="8.2" text-anchor="end" textLength="10.80" lengthAdjust="spacingAndGlyphs" stroke="#231f20" stroke-width="0.13">0.2</text>
<line x1="326.60" y1="399.98" x2="329.60" y2="399.98" stroke="#5a5a5a" stroke-width="0.75"/>
<text x="323.30" y="402.83" font-size="8.2" text-anchor="end" textLength="10.80" lengthAdjust="spacingAndGlyphs" stroke="#231f20" stroke-width="0.13">0.3</text>
<line x1="326.60" y1="382.50" x2="329.60" y2="382.50" stroke="#5a5a5a" stroke-width="0.75"/>
<text x="323.30" y="385.35" font-size="8.2" text-anchor="end" textLength="10.80" lengthAdjust="spacingAndGlyphs" stroke="#231f20" stroke-width="0.13">0.4</text>
<line x1="364.40" y1="382.00" x2="364.40" y2="452.40" stroke="#2a2a2a" stroke-width="0.9" stroke-dasharray="3.1,2.3"/>
<text x="345.80" y="464.40" font-size="9.1" text-anchor="middle" textLength="25.50" lengthAdjust="spacingAndGlyphs" stroke="#231f20" stroke-width="0.13">Young</text>
<text x="384.20" y="464.40" font-size="9.1" text-anchor="middle" textLength="21.50" lengthAdjust="spacingAndGlyphs" stroke="#231f20" stroke-width="0.13">Aged</text>
<text x="0" y="0" font-size="8.6" text-anchor="middle" stroke="#231f20" stroke-width="0.13" transform="translate(304.80 417.60) rotate(-90) scale(0.9820 1)"><tspan font-size="8.6" dy="0">Gain (Hz pA</tspan><tspan font-size="5.8" dy="-3.2">−1</tspan><tspan font-size="8.6" dy="3.2">)</tspan></text>
<text x="297.70" y="367.20" font-size="12" font-weight="bold" fill="#000" stroke="#000" stroke-width="0.45">l</text>
<rect x="467.75" y="419.34" width="7.50" height="33.46" fill="#84c9ff" stroke="#3f5d78" stroke-width="0.7"/>
<rect x="481.85" y="426.31" width="7.70" height="26.49" fill="#ffb8b6" stroke="#8a5a58" stroke-width="0.7"/>
<rect x="505.35" y="416.56" width="7.80" height="36.24" fill="#84c9ff" stroke="#3f5d78" stroke-width="0.7"/>
<rect x="519.45" y="423.53" width="7.70" height="29.27" fill="#ffb8b6" stroke="#8a5a58" stroke-width="0.7"/>
<circle cx="472.07" cy="434.21" r="0.85" fill="#0e5897"/>
<circle cx="471.12" cy="397.04" r="0.85" fill="#0e5897"/>
<circle cx="470.92" cy="421.71" r="0.85" fill="#0e5897"/>
<circle cx="471.09" cy="416.93" r="0.85" fill="#0e5897"/>
<circle cx="468.89" cy="415.52" r="0.85" fill="#0e5897"/>
<circle cx="470.09" cy="412.46" r="0.85" fill="#0e5897"/>
<circle cx="471.55" cy="415.51" r="0.85" fill="#0e5897"/>
<circle cx="471.67" cy="420.12" r="0.85" fill="#0e5897"/>
<circle cx="473.00" cy="428.85" r="0.85" fill="#0e5897"/>
<circle cx="472.37" cy="425.37" r="0.85" fill="#0e5897"/>
<circle cx="472.08" cy="415.39" r="0.85" fill="#0e5897"/>
<circle cx="471.56" cy="416.39" r="0.85" fill="#0e5897"/>
<circle cx="468.55" cy="418.42" r="0.85" fill="#0e5897"/>
<circle cx="471.56" cy="425.37" r="0.85" fill="#0e5897"/>
<circle cx="470.27" cy="423.39" r="0.85" fill="#0e5897"/>
<circle cx="472.18" cy="420.33" r="0.85" fill="#0e5897"/>
<circle cx="471.10" cy="424.30" r="0.85" fill="#0e5897"/>
<circle cx="471.03" cy="423.76" r="0.85" fill="#0e5897"/>
<circle cx="470.75" cy="425.75" r="0.85" fill="#0e5897"/>
<circle cx="471.09" cy="401.26" r="0.85" fill="#0e5897"/>
<circle cx="468.78" cy="413.65" r="0.85" fill="#0e5897"/>
<circle cx="469.28" cy="417.30" r="0.85" fill="#0e5897"/>
<circle cx="473.17" cy="418.42" r="0.85" fill="#0e5897"/>
<line x1="471.50" y1="417.41" x2="471.50" y2="421.28" stroke="#1c3550" stroke-width="0.7"/>
<line x1="469.50" y1="417.41" x2="473.50" y2="417.41" stroke="#1c3550" stroke-width="0.7"/>
<line x1="469.50" y1="421.28" x2="473.50" y2="421.28" stroke="#1c3550" stroke-width="0.7"/>
<circle cx="484.66" cy="443.51" r="0.85" fill="#983634"/>
<circle cx="485.58" cy="397.04" r="0.85" fill="#983634"/>
<circle cx="484.20" cy="423.02" r="0.85" fill="#983634"/>
<circle cx="486.14" cy="431.04" r="0.85" fill="#983634"/>
<circle cx="488.72" cy="422.38" r="0.85" fill="#983634"/>
<circle cx="484.58" cy="426.36" r="0.85" fill="#983634"/>
<circle cx="486.50" cy="425.43" r="0.85" fill="#983634"/>
<circle cx="486.57" cy="426.50" r="0.85" fill="#983634"/>
<circle cx="484.64" cy="415.71" r="0.85" fill="#983634"/>
<circle cx="485.27" cy="425.81" r="0.85" fill="#983634"/>
<circle cx="484.94" cy="429.57" r="0.85" fill="#983634"/>
<circle cx="486.31" cy="433.64" r="0.85" fill="#983634"/>
<circle cx="484.78" cy="430.59" r="0.85" fill="#983634"/>
<circle cx="488.72" cy="427.65" r="0.85" fill="#983634"/>
<circle cx="486.91" cy="426.99" r="0.85" fill="#983634"/>
<circle cx="487.31" cy="431.22" r="0.85" fill="#983634"/>
<circle cx="488.72" cy="424.14" r="0.85" fill="#983634"/>
<circle cx="487.64" cy="417.06" r="0.85" fill="#983634"/>
<circle cx="485.53" cy="407.07" r="0.85" fill="#983634"/>
<circle cx="486.20" cy="407.23" r="0.85" fill="#983634"/>
<circle cx="485.74" cy="420.53" r="0.85" fill="#983634"/>
<circle cx="486.06" cy="427.79" r="0.85" fill="#983634"/>
<line x1="485.70" y1="423.84" x2="485.70" y2="428.79" stroke="#4a2020" stroke-width="0.7"/>
<line x1="483.70" y1="423.84" x2="487.70" y2="423.84" stroke="#4a2020" stroke-width="0.7"/>
<line x1="483.70" y1="428.79" x2="487.70" y2="428.79" stroke="#4a2020" stroke-width="0.7"/>
<circle cx="510.01" cy="441.18" r="0.85" fill="#0e5897"/>
<circle cx="508.53" cy="387.75" r="0.85" fill="#0e5897"/>
<circle cx="510.29" cy="408.01" r="0.85" fill="#0e5897"/>
<circle cx="507.16" cy="419.55" r="0.85" fill="#0e5897"/>
<circle cx="507.16" cy="412.67" r="0.85" fill="#0e5897"/>
<circle cx="507.16" cy="436.56" r="0.85" fill="#0e5897"/>
<circle cx="511.15" cy="417.65" r="0.85" fill="#0e5897"/>
<circle cx="509.69" cy="419.65" r="0.85" fill="#0e5897"/>
<circle cx="507.60" cy="415.78" r="0.85" fill="#0e5897"/>
<circle cx="507.83" cy="425.27" r="0.85" fill="#0e5897"/>
<circle cx="508.79" cy="402.95" r="0.85" fill="#0e5897"/>
<circle cx="509.55" cy="408.96" r="0.85" fill="#0e5897"/>
<circle cx="509.99" cy="438.59" r="0.85" fill="#0e5897"/>
<circle cx="511.08" cy="423.66" r="0.85" fill="#0e5897"/>
<circle cx="509.47" cy="407.54" r="0.85" fill="#0e5897"/>
<circle cx="509.73" cy="399.49" r="0.85" fill="#0e5897"/>
<circle cx="508.25" cy="440.49" r="0.85" fill="#0e5897"/>
<circle cx="510.54" cy="416.78" r="0.85" fill="#0e5897"/>
<circle cx="508.93" cy="420.75" r="0.85" fill="#0e5897"/>
<circle cx="509.18" cy="413.01" r="0.85" fill="#0e5897"/>
<circle cx="509.46" cy="437.24" r="0.85" fill="#0e5897"/>
<circle cx="507.96" cy="388.11" r="0.85" fill="#0e5897"/>
<circle cx="509.29" cy="421.24" r="0.85" fill="#0e5897"/>
<circle cx="509.06" cy="427.49" r="0.85" fill="#0e5897"/>
<circle cx="511.10" cy="418.18" r="0.85" fill="#0e5897"/>
<circle cx="508.70" cy="406.83" r="0.85" fill="#0e5897"/>
<circle cx="512.31" cy="421.01" r="0.85" fill="#0e5897"/>
<circle cx="508.62" cy="402.96" r="0.85" fill="#0e5897"/>
<circle cx="509.59" cy="403.80" r="0.85" fill="#0e5897"/>
<circle cx="508.66" cy="429.21" r="0.85" fill="#0e5897"/>
<circle cx="508.64" cy="408.97" r="0.85" fill="#0e5897"/>
<circle cx="510.10" cy="415.78" r="0.85" fill="#0e5897"/>
<line x1="509.25" y1="414.19" x2="509.25" y2="418.92" stroke="#1c3550" stroke-width="0.7"/>
<line x1="507.25" y1="414.19" x2="511.25" y2="414.19" stroke="#1c3550" stroke-width="0.7"/>
<line x1="507.25" y1="418.92" x2="511.25" y2="418.92" stroke="#1c3550" stroke-width="0.7"/>
<circle cx="524.34" cy="445.83" r="0.85" fill="#983634"/>
<circle cx="524.00" cy="399.36" r="0.85" fill="#983634"/>
<circle cx="523.33" cy="421.58" r="0.85" fill="#983634"/>
<circle cx="525.24" cy="440.25" r="0.85" fill="#983634"/>
<circle cx="521.98" cy="418.41" r="0.85" fill="#983634"/>
<circle cx="523.37" cy="432.38" r="0.85" fill="#983634"/>
<circle cx="524.05" cy="414.38" r="0.85" fill="#983634"/>
<circle cx="522.07" cy="431.02" r="0.85" fill="#983634"/>
<circle cx="523.59" cy="433.92" r="0.85" fill="#983634"/>
<circle cx="524.41" cy="415.49" r="0.85" fill="#983634"/>
<circle cx="521.40" cy="425.42" r="0.85" fill="#983634"/>
<circle cx="523.77" cy="419.95" r="0.85" fill="#983634"/>
<circle cx="521.90" cy="423.02" r="0.85" fill="#983634"/>
<circle cx="522.66" cy="434.16" r="0.85" fill="#983634"/>
<circle cx="523.86" cy="427.84" r="0.85" fill="#983634"/>
<circle cx="524.63" cy="433.04" r="0.85" fill="#983634"/>
<circle cx="522.90" cy="426.88" r="0.85" fill="#983634"/>
<circle cx="524.08" cy="410.08" r="0.85" fill="#983634"/>
<circle cx="522.41" cy="425.61" r="0.85" fill="#983634"/>
<circle cx="523.05" cy="411.10" r="0.85" fill="#983634"/>
<circle cx="522.80" cy="435.71" r="0.85" fill="#983634"/>
<line x1="523.30" y1="420.99" x2="523.30" y2="426.06" stroke="#4a2020" stroke-width="0.7"/>
<line x1="521.30" y1="420.99" x2="525.30" y2="420.99" stroke="#4a2020" stroke-width="0.7"/>
<line x1="521.30" y1="426.06" x2="525.30" y2="426.06" stroke="#4a2020" stroke-width="0.7"/>
<line x1="462.40" y1="383.10" x2="462.40" y2="452.80" stroke="#5a5a5a" stroke-width="0.75"/>
<line x1="462.40" y1="452.80" x2="532.50" y2="452.80" stroke="#5a5a5a" stroke-width="0.75"/>
<line x1="459.40" y1="452.80" x2="462.40" y2="452.80" stroke="#5a5a5a" stroke-width="0.75"/>
<text x="455.30" y="455.65" font-size="8.2" text-anchor="end" textLength="4.40" lengthAdjust="spacingAndGlyphs" stroke="#231f20" stroke-width="0.13">0</text>
<line x1="459.40" y1="429.57" x2="462.40" y2="429.57" stroke="#5a5a5a" stroke-width="0.75"/>
<text x="455.30" y="432.42" font-size="8.2" text-anchor="end" textLength="8.80" lengthAdjust="spacingAndGlyphs" stroke="#231f20" stroke-width="0.13">50</text>
<line x1="459.40" y1="406.33" x2="462.40" y2="406.33" stroke="#5a5a5a" stroke-width="0.75"/>
<text x="455.30" y="409.18" font-size="8.2" text-anchor="end" textLength="11.80" lengthAdjust="spacingAndGlyphs" stroke="#231f20" stroke-width="0.13">100</text>
<line x1="459.40" y1="383.10" x2="462.40" y2="383.10" stroke="#5a5a5a" stroke-width="0.75"/>
<text x="455.30" y="385.95" font-size="8.2" text-anchor="end" textLength="11.80" lengthAdjust="spacingAndGlyphs" stroke="#231f20" stroke-width="0.13">150</text>
<line x1="497.20" y1="382.60" x2="497.20" y2="452.80" stroke="#2a2a2a" stroke-width="0.9" stroke-dasharray="3.1,2.3"/>
<text x="478.50" y="464.00" font-size="9.1" text-anchor="middle" textLength="25.50" lengthAdjust="spacingAndGlyphs" stroke="#231f20" stroke-width="0.13">Young</text>
<text x="516.90" y="464.00" font-size="9.1" text-anchor="middle" textLength="21.50" lengthAdjust="spacingAndGlyphs" stroke="#231f20" stroke-width="0.13">Aged</text>
<text x="0" y="0" font-size="8.6" text-anchor="middle" stroke="#231f20" stroke-width="0.13" transform="translate(435.10 417.50) rotate(-90) scale(1.0078 1)"><tspan font-size="8.6" dy="0">Rheobase (pA)</tspan></text>
<path d="M471.20,383.10 L471.20,378.90 L485.60,378.90 L485.60,383.10" stroke="#333" stroke-width="0.7" fill="none"/>
<text x="480.30" y="375.40" font-size="8.3" text-anchor="middle" textLength="25.60" lengthAdjust="spacingAndGlyphs" stroke="#231f20" stroke-width="0.13">0.0040</text>
<text x="428.00" y="367.00" font-size="12" font-weight="bold" fill="#000" stroke="#000" stroke-width="0.45">m</text>
<rect x="596.75" y="408.73" width="7.50" height="43.57" fill="#84c9ff" stroke="#3f5d78" stroke-width="0.7"/>
<rect x="610.85" y="418.36" width="7.40" height="33.94" fill="#ffb8b6" stroke="#8a5a58" stroke-width="0.7"/>
<rect x="633.85" y="414.92" width="7.70" height="37.38" fill="#84c9ff" stroke="#3f5d78" stroke-width="0.7"/>
<rect x="647.55" y="414.46" width="7.80" height="37.84" fill="#ffb8b6" stroke="#8a5a58" stroke-width="0.7"/>
<circle cx="600.17" cy="422.49" r="0.85" fill="#0e5897"/>
<circle cx="600.70" cy="388.09" r="0.85" fill="#0e5897"/>
<circle cx="597.93" cy="415.52" r="0.85" fill="#0e5897"/>
<circle cx="600.55" cy="394.51" r="0.85" fill="#0e5897"/>
<circle cx="599.56" cy="405.47" r="0.85" fill="#0e5897"/>
<circle cx="599.06" cy="405.01" r="0.85" fill="#0e5897"/>
<circle cx="600.99" cy="402.85" r="0.85" fill="#0e5897"/>
<circle cx="599.87" cy="389.71" r="0.85" fill="#0e5897"/>
<circle cx="599.27" cy="397.80" r="0.85" fill="#0e5897"/>
<circle cx="599.95" cy="405.58" r="0.85" fill="#0e5897"/>
<circle cx="599.95" cy="410.53" r="0.85" fill="#0e5897"/>
<circle cx="600.09" cy="400.32" r="0.85" fill="#0e5897"/>
<circle cx="600.60" cy="410.34" r="0.85" fill="#0e5897"/>
<circle cx="599.88" cy="411.33" r="0.85" fill="#0e5897"/>
<circle cx="601.77" cy="400.97" r="0.85" fill="#0e5897"/>
<circle cx="602.69" cy="422.35" r="0.85" fill="#0e5897"/>
<circle cx="601.91" cy="390.12" r="0.85" fill="#0e5897"/>
<circle cx="600.02" cy="410.24" r="0.85" fill="#0e5897"/>
<circle cx="599.60" cy="404.73" r="0.85" fill="#0e5897"/>
<circle cx="601.04" cy="411.70" r="0.85" fill="#0e5897"/>
<circle cx="600.20" cy="401.75" r="0.85" fill="#0e5897"/>
<circle cx="602.41" cy="405.71" r="0.85" fill="#0e5897"/>
<circle cx="600.81" cy="414.77" r="0.85" fill="#0e5897"/>
<line x1="600.50" y1="406.93" x2="600.50" y2="410.52" stroke="#1c3550" stroke-width="0.7"/>
<line x1="598.50" y1="406.93" x2="602.50" y2="406.93" stroke="#1c3550" stroke-width="0.7"/>
<line x1="598.50" y1="410.52" x2="602.50" y2="410.52" stroke="#1c3550" stroke-width="0.7"/>
<circle cx="614.74" cy="436.25" r="0.85" fill="#983634"/>
<circle cx="615.72" cy="398.41" r="0.85" fill="#983634"/>
<circle cx="615.51" cy="415.49" r="0.85" fill="#983634"/>
<circle cx="616.13" cy="411.70" r="0.85" fill="#983634"/>
<circle cx="614.48" cy="417.12" r="0.85" fill="#983634"/>
<circle cx="613.12" cy="425.46" r="0.85" fill="#983634"/>
<circle cx="614.93" cy="408.40" r="0.85" fill="#983634"/>
<circle cx="613.05" cy="418.05" r="0.85" fill="#983634"/>
<circle cx="614.54" cy="412.33" r="0.85" fill="#983634"/>
<circle cx="614.11" cy="415.05" r="0.85" fill="#983634"/>
<circle cx="611.64" cy="411.92" r="0.85" fill="#983634"/>
<circle cx="614.09" cy="416.37" r="0.85" fill="#983634"/>
<circle cx="613.18" cy="425.25" r="0.85" fill="#983634"/>
<circle cx="612.77" cy="420.18" r="0.85" fill="#983634"/>
<circle cx="612.11" cy="419.72" r="0.85" fill="#983634"/>
<circle cx="615.13" cy="423.72" r="0.85" fill="#983634"/>
<circle cx="615.38" cy="414.52" r="0.85" fill="#983634"/>
<circle cx="613.01" cy="422.15" r="0.85" fill="#983634"/>
<circle cx="613.12" cy="418.12" r="0.85" fill="#983634"/>
<circle cx="613.40" cy="419.82" r="0.85" fill="#983634"/>
<circle cx="613.12" cy="415.99" r="0.85" fill="#983634"/>
<circle cx="615.30" cy="432.74" r="0.85" fill="#983634"/>
<line x1="614.55" y1="416.34" x2="614.55" y2="420.38" stroke="#4a2020" stroke-width="0.7"/>
<line x1="612.55" y1="416.34" x2="616.55" y2="416.34" stroke="#4a2020" stroke-width="0.7"/>
<line x1="612.55" y1="420.38" x2="616.55" y2="420.38" stroke="#4a2020" stroke-width="0.7"/>
<circle cx="635.53" cy="438.54" r="0.85" fill="#0e5897"/>
<circle cx="637.97" cy="389.23" r="0.85" fill="#0e5897"/>
<circle cx="637.22" cy="423.16" r="0.85" fill="#0e5897"/>
<circle cx="635.18" cy="429.86" r="0.85" fill="#0e5897"/>
<circle cx="635.60" cy="408.49" r="0.85" fill="#0e5897"/>
<circle cx="639.12" cy="397.52" r="0.85" fill="#0e5897"/>
<circle cx="640.72" cy="409.72" r="0.85" fill="#0e5897"/>
<circle cx="636.72" cy="408.23" r="0.85" fill="#0e5897"/>
<circle cx="637.60" cy="415.71" r="0.85" fill="#0e5897"/>
<circle cx="637.18" cy="409.20" r="0.85" fill="#0e5897"/>
<circle cx="639.26" cy="412.20" r="0.85" fill="#0e5897"/>
<circle cx="635.47" cy="428.94" r="0.85" fill="#0e5897"/>
<circle cx="638.97" cy="433.81" r="0.85" fill="#0e5897"/>
<circle cx="637.83" cy="407.79" r="0.85" fill="#0e5897"/>
<circle cx="636.67" cy="428.13" r="0.85" fill="#0e5897"/>
<circle cx="639.81" cy="411.86" r="0.85" fill="#0e5897"/>
<circle cx="636.81" cy="425.68" r="0.85" fill="#0e5897"/>
<circle cx="636.96" cy="409.31" r="0.85" fill="#0e5897"/>
<circle cx="638.04" cy="420.58" r="0.85" fill="#0e5897"/>
<circle cx="638.50" cy="418.85" r="0.85" fill="#0e5897"/>
<circle cx="639.78" cy="418.96" r="0.85" fill="#0e5897"/>
<circle cx="639.13" cy="406.67" r="0.85" fill="#0e5897"/>
<circle cx="638.63" cy="417.66" r="0.85" fill="#0e5897"/>
<circle cx="637.30" cy="435.82" r="0.85" fill="#0e5897"/>
<circle cx="637.59" cy="416.01" r="0.85" fill="#0e5897"/>
<circle cx="634.68" cy="423.56" r="0.85" fill="#0e5897"/>
<circle cx="638.37" cy="417.49" r="0.85" fill="#0e5897"/>
<circle cx="639.44" cy="402.52" r="0.85" fill="#0e5897"/>
<circle cx="634.68" cy="415.68" r="0.85" fill="#0e5897"/>
<circle cx="639.14" cy="406.08" r="0.85" fill="#0e5897"/>
<circle cx="637.88" cy="423.81" r="0.85" fill="#0e5897"/>
<circle cx="637.51" cy="413.94" r="0.85" fill="#0e5897"/>
<line x1="637.70" y1="412.74" x2="637.70" y2="417.10" stroke="#1c3550" stroke-width="0.7"/>
<line x1="635.70" y1="412.74" x2="639.70" y2="412.74" stroke="#1c3550" stroke-width="0.7"/>
<line x1="635.70" y1="417.10" x2="639.70" y2="417.10" stroke="#1c3550" stroke-width="0.7"/>
<circle cx="650.87" cy="440.83" r="0.85" fill="#983634"/>
<circle cx="651.98" cy="390.38" r="0.85" fill="#983634"/>
<circle cx="652.90" cy="398.05" r="0.85" fill="#983634"/>
<circle cx="653.38" cy="429.62" r="0.85" fill="#983634"/>
<circle cx="654.19" cy="416.65" r="0.85" fill="#983634"/>
<circle cx="652.23" cy="415.68" r="0.85" fill="#983634"/>
<circle cx="653.34" cy="412.13" r="0.85" fill="#983634"/>
<circle cx="648.39" cy="412.32" r="0.85" fill="#983634"/>
<circle cx="649.78" cy="423.56" r="0.85" fill="#983634"/>
<circle cx="651.82" cy="432.88" r="0.85" fill="#983634"/>
<circle cx="650.14" cy="407.59" r="0.85" fill="#983634"/>
<circle cx="651.12" cy="412.34" r="0.85" fill="#983634"/>
<circle cx="651.77" cy="414.46" r="0.85" fill="#983634"/>
<circle cx="652.63" cy="419.41" r="0.85" fill="#983634"/>
<circle cx="651.85" cy="407.59" r="0.85" fill="#983634"/>
<circle cx="651.89" cy="404.18" r="0.85" fill="#983634"/>
<circle cx="651.31" cy="401.12" r="0.85" fill="#983634"/>
<circle cx="652.36" cy="418.68" r="0.85" fill="#983634"/>
<circle cx="653.29" cy="399.25" r="0.85" fill="#983634"/>
<circle cx="650.86" cy="438.67" r="0.85" fill="#983634"/>
<circle cx="652.16" cy="423.14" r="0.85" fill="#983634"/>
<line x1="651.45" y1="411.71" x2="651.45" y2="417.21" stroke="#4a2020" stroke-width="0.7"/>
<line x1="649.45" y1="411.71" x2="653.45" y2="411.71" stroke="#4a2020" stroke-width="0.7"/>
<line x1="649.45" y1="417.21" x2="653.45" y2="417.21" stroke="#4a2020" stroke-width="0.7"/>
<line x1="591.30" y1="383.50" x2="591.30" y2="452.30" stroke="#5a5a5a" stroke-width="0.75"/>
<line x1="591.30" y1="452.30" x2="660.90" y2="452.30" stroke="#5a5a5a" stroke-width="0.75"/>
<line x1="588.30" y1="452.30" x2="591.30" y2="452.30" stroke="#5a5a5a" stroke-width="0.75"/>
<text x="585.10" y="455.15" font-size="8.2" text-anchor="end" textLength="4.40" lengthAdjust="spacingAndGlyphs" stroke="#231f20" stroke-width="0.13">0</text>
<line x1="588.30" y1="429.37" x2="591.30" y2="429.37" stroke="#5a5a5a" stroke-width="0.75"/>
<text x="585.10" y="432.22" font-size="8.2" text-anchor="end" textLength="11.80" lengthAdjust="spacingAndGlyphs" stroke="#231f20" stroke-width="0.13">100</text>
<line x1="588.30" y1="406.43" x2="591.30" y2="406.43" stroke="#5a5a5a" stroke-width="0.75"/>
<text x="585.10" y="409.28" font-size="8.2" text-anchor="end" textLength="13.20" lengthAdjust="spacingAndGlyphs" stroke="#231f20" stroke-width="0.13">200</text>
<line x1="588.30" y1="383.50" x2="591.30" y2="383.50" stroke="#5a5a5a" stroke-width="0.75"/>
<text x="585.10" y="386.35" font-size="8.2" text-anchor="end" textLength="13.20" lengthAdjust="spacingAndGlyphs" stroke="#231f20" stroke-width="0.13">300</text>
<line x1="625.90" y1="383.00" x2="625.90" y2="452.30" stroke="#555" stroke-width="0.9" stroke-dasharray="3.1,2.3"/>
<text x="607.20" y="463.80" font-size="9.1" text-anchor="middle" textLength="25.50" lengthAdjust="spacingAndGlyphs" stroke="#231f20" stroke-width="0.13">Young</text>
<text x="644.90" y="463.80" font-size="9.1" text-anchor="middle" textLength="21.50" lengthAdjust="spacingAndGlyphs" stroke="#231f20" stroke-width="0.13">Aged</text>
<text x="0" y="0" font-size="8.6" text-anchor="middle" stroke="#231f20" stroke-width="0.13" transform="translate(563.30 418.20) rotate(-90) scale(1.0250 1)"><tspan font-size="8.6" dy="0">Spike latency (ms)</tspan></text>
<path d="M600.70,369.70 L600.70,364.40 L638.50,364.40 L638.50,369.70" stroke="#333" stroke-width="0.7" fill="none"/>
<text x="620.80" y="361.50" font-size="8.3" text-anchor="middle" textLength="25.60" lengthAdjust="spacingAndGlyphs" stroke="#231f20" stroke-width="0.13">0.0484</text>
<path d="M600.70,384.60 L600.70,379.70 L614.70,379.70 L614.70,384.60" stroke="#333" stroke-width="0.7" fill="none"/>
<text x="609.40" y="376.00" font-size="8.3" text-anchor="middle" textLength="25.60" lengthAdjust="spacingAndGlyphs" stroke="#231f20" stroke-width="0.13">0.0003</text>
<text x="555.70" y="366.60" font-size="12" font-weight="bold" fill="#000" stroke="#000" stroke-width="0.45">n</text>
<text x="26.00" y="543.00" font-size="9.2" text-anchor="end" textLength="19.70" lengthAdjust="spacingAndGlyphs" stroke="#231f20" stroke-width="0.13">Total</text>
<rect x="73.95" y="543.74" width="7.70" height="28.66" fill="#84c9ff" stroke="#3f5d78" stroke-width="0.7"/>
<rect x="87.95" y="547.84" width="8.00" height="24.56" fill="#ffb8b6" stroke="#8a5a58" stroke-width="0.7"/>
<rect x="111.35" y="550.82" width="7.90" height="21.58" fill="#84c9ff" stroke="#3f5d78" stroke-width="0.7"/>
<rect x="125.65" y="551.76" width="7.70" height="20.64" fill="#ffb8b6" stroke="#8a5a58" stroke-width="0.7"/>
<circle cx="77.09" cy="556.09" r="0.85" fill="#0e5897"/>
<circle cx="80.17" cy="522.07" r="0.85" fill="#0e5897"/>
<circle cx="78.74" cy="555.72" r="0.85" fill="#0e5897"/>
<circle cx="78.60" cy="548.46" r="0.85" fill="#0e5897"/>
<circle cx="79.44" cy="546.83" r="0.85" fill="#0e5897"/>
<circle cx="76.92" cy="545.63" r="0.85" fill="#0e5897"/>
<circle cx="78.10" cy="543.07" r="0.85" fill="#0e5897"/>
<circle cx="77.71" cy="546.17" r="0.85" fill="#0e5897"/>
<circle cx="77.05" cy="528.55" r="0.85" fill="#0e5897"/>
<circle cx="77.36" cy="528.20" r="0.85" fill="#0e5897"/>
<circle cx="77.24" cy="539.56" r="0.85" fill="#0e5897"/>
<circle cx="76.93" cy="546.22" r="0.85" fill="#0e5897"/>
<circle cx="78.27" cy="538.12" r="0.85" fill="#0e5897"/>
<circle cx="77.33" cy="549.62" r="0.85" fill="#0e5897"/>
<circle cx="80.82" cy="555.07" r="0.85" fill="#0e5897"/>
<circle cx="78.20" cy="545.94" r="0.85" fill="#0e5897"/>
<circle cx="76.65" cy="539.98" r="0.85" fill="#0e5897"/>
<circle cx="78.54" cy="549.48" r="0.85" fill="#0e5897"/>
<circle cx="77.15" cy="547.02" r="0.85" fill="#0e5897"/>
<circle cx="75.59" cy="522.15" r="0.85" fill="#0e5897"/>
<circle cx="79.53" cy="549.08" r="0.85" fill="#0e5897"/>
<circle cx="77.39" cy="545.03" r="0.85" fill="#0e5897"/>
<circle cx="77.29" cy="546.26" r="0.85" fill="#0e5897"/>
<circle cx="78.79" cy="530.02" r="0.85" fill="#0e5897"/>
<circle cx="77.73" cy="548.50" r="0.85" fill="#0e5897"/>
<circle cx="77.67" cy="554.54" r="0.85" fill="#0e5897"/>
<circle cx="80.25" cy="534.40" r="0.85" fill="#0e5897"/>
<circle cx="77.23" cy="548.96" r="0.85" fill="#0e5897"/>
<circle cx="78.85" cy="540.76" r="0.85" fill="#0e5897"/>
<circle cx="78.36" cy="534.68" r="0.85" fill="#0e5897"/>
<circle cx="78.08" cy="544.04" r="0.85" fill="#0e5897"/>
<circle cx="76.88" cy="541.34" r="0.85" fill="#0e5897"/>
<circle cx="77.27" cy="543.60" r="0.85" fill="#0e5897"/>
<circle cx="76.69" cy="552.65" r="0.85" fill="#0e5897"/>
<line x1="77.80" y1="542.28" x2="77.80" y2="545.20" stroke="#1c3550" stroke-width="0.7"/>
<line x1="75.80" y1="542.28" x2="79.80" y2="542.28" stroke="#1c3550" stroke-width="0.7"/>
<line x1="75.80" y1="545.20" x2="79.80" y2="545.20" stroke="#1c3550" stroke-width="0.7"/>
<circle cx="93.60" cy="557.49" r="0.85" fill="#983634"/>
<circle cx="92.80" cy="527.20" r="0.85" fill="#983634"/>
<circle cx="91.69" cy="550.73" r="0.85" fill="#983634"/>
<circle cx="88.82" cy="554.41" r="0.85" fill="#983634"/>
<circle cx="91.76" cy="547.17" r="0.85" fill="#983634"/>
<circle cx="89.65" cy="552.82" r="0.85" fill="#983634"/>
<circle cx="92.83" cy="546.26" r="0.85" fill="#983634"/>
<circle cx="88.82" cy="535.09" r="0.85" fill="#983634"/>
<circle cx="90.61" cy="551.32" r="0.85" fill="#983634"/>
<circle cx="93.75" cy="528.71" r="0.85" fill="#983634"/>
<circle cx="94.38" cy="552.04" r="0.85" fill="#983634"/>
<circle cx="90.20" cy="556.32" r="0.85" fill="#983634"/>
<circle cx="89.68" cy="551.04" r="0.85" fill="#983634"/>
<circle cx="93.25" cy="536.15" r="0.85" fill="#983634"/>
<circle cx="93.21" cy="532.54" r="0.85" fill="#983634"/>
<circle cx="90.49" cy="548.69" r="0.85" fill="#983634"/>
<circle cx="90.92" cy="544.82" r="0.85" fill="#983634"/>
<circle cx="90.92" cy="550.57" r="0.85" fill="#983634"/>
<circle cx="90.19" cy="543.66" r="0.85" fill="#983634"/>
<circle cx="90.94" cy="553.42" r="0.85" fill="#983634"/>
<circle cx="93.80" cy="547.58" r="0.85" fill="#983634"/>
<circle cx="92.97" cy="543.99" r="0.85" fill="#983634"/>
<circle cx="94.99" cy="552.15" r="0.85" fill="#983634"/>
<circle cx="91.82" cy="546.96" r="0.85" fill="#983634"/>
<circle cx="91.75" cy="544.60" r="0.85" fill="#983634"/>
<circle cx="90.50" cy="544.32" r="0.85" fill="#983634"/>
<circle cx="91.77" cy="552.11" r="0.85" fill="#983634"/>
<circle cx="90.01" cy="554.30" r="0.85" fill="#983634"/>
<circle cx="89.32" cy="556.43" r="0.85" fill="#983634"/>
<circle cx="92.98" cy="529.92" r="0.85" fill="#983634"/>
<circle cx="94.08" cy="546.82" r="0.85" fill="#983634"/>
<circle cx="93.19" cy="548.08" r="0.85" fill="#983634"/>
<circle cx="93.92" cy="548.38" r="0.85" fill="#983634"/>
<circle cx="92.32" cy="552.23" r="0.85" fill="#983634"/>
<line x1="91.95" y1="546.54" x2="91.95" y2="549.14" stroke="#4a2020" stroke-width="0.7"/>
<line x1="89.95" y1="546.54" x2="93.95" y2="546.54" stroke="#4a2020" stroke-width="0.7"/>
<line x1="89.95" y1="549.14" x2="93.95" y2="549.14" stroke="#4a2020" stroke-width="0.7"/>
<circle cx="113.93" cy="565.41" r="0.85" fill="#0e5897"/>
<circle cx="118.20" cy="532.79" r="0.85" fill="#0e5897"/>
<circle cx="116.13" cy="549.78" r="0.85" fill="#0e5897"/>
<circle cx="114.23" cy="542.47" r="0.85" fill="#0e5897"/>
<circle cx="116.67" cy="547.16" r="0.85" fill="#0e5897"/>
<circle cx="116.08" cy="555.59" r="0.85" fill="#0e5897"/>
<circle cx="112.92" cy="552.83" r="0.85" fill="#0e5897"/>
<circle cx="114.52" cy="559.88" r="0.85" fill="#0e5897"/>
<circle cx="114.95" cy="553.97" r="0.85" fill="#0e5897"/>
<circle cx="115.33" cy="555.78" r="0.85" fill="#0e5897"/>
<circle cx="115.49" cy="552.65" r="0.85" fill="#0e5897"/>
<circle cx="114.80" cy="553.95" r="0.85" fill="#0e5897"/>
<circle cx="115.58" cy="541.21" r="0.85" fill="#0e5897"/>
<circle cx="114.44" cy="556.57" r="0.85" fill="#0e5897"/>
<circle cx="113.99" cy="552.02" r="0.85" fill="#0e5897"/>
<circle cx="117.52" cy="548.14" r="0.85" fill="#0e5897"/>
<circle cx="115.83" cy="545.84" r="0.85" fill="#0e5897"/>
<circle cx="115.94" cy="557.80" r="0.85" fill="#0e5897"/>
<circle cx="112.97" cy="559.89" r="0.85" fill="#0e5897"/>
<circle cx="115.06" cy="551.42" r="0.85" fill="#0e5897"/>
<circle cx="116.50" cy="547.10" r="0.85" fill="#0e5897"/>
<circle cx="113.41" cy="555.55" r="0.85" fill="#0e5897"/>
<circle cx="116.90" cy="550.64" r="0.85" fill="#0e5897"/>
<circle cx="114.73" cy="552.87" r="0.85" fill="#0e5897"/>
<circle cx="115.89" cy="536.94" r="0.85" fill="#0e5897"/>
<circle cx="115.11" cy="542.29" r="0.85" fill="#0e5897"/>
<circle cx="115.62" cy="550.19" r="0.85" fill="#0e5897"/>
<circle cx="117.06" cy="550.55" r="0.85" fill="#0e5897"/>
<circle cx="114.71" cy="550.57" r="0.85" fill="#0e5897"/>
<circle cx="117.59" cy="538.35" r="0.85" fill="#0e5897"/>
<circle cx="114.16" cy="560.81" r="0.85" fill="#0e5897"/>
<circle cx="113.94" cy="544.89" r="0.85" fill="#0e5897"/>
<circle cx="116.34" cy="551.86" r="0.85" fill="#0e5897"/>
<circle cx="113.74" cy="556.37" r="0.85" fill="#0e5897"/>
<circle cx="114.76" cy="558.99" r="0.85" fill="#0e5897"/>
<circle cx="116.63" cy="548.89" r="0.85" fill="#0e5897"/>
<circle cx="117.07" cy="565.06" r="0.85" fill="#0e5897"/>
<circle cx="112.71" cy="544.96" r="0.85" fill="#0e5897"/>
<circle cx="116.04" cy="548.96" r="0.85" fill="#0e5897"/>
<circle cx="118.05" cy="546.91" r="0.85" fill="#0e5897"/>
<circle cx="117.05" cy="558.27" r="0.85" fill="#0e5897"/>
<circle cx="114.95" cy="551.78" r="0.85" fill="#0e5897"/>
<circle cx="114.42" cy="547.74" r="0.85" fill="#0e5897"/>
<circle cx="114.87" cy="534.99" r="0.85" fill="#0e5897"/>
<circle cx="113.61" cy="562.24" r="0.85" fill="#0e5897"/>
<circle cx="114.91" cy="550.62" r="0.85" fill="#0e5897"/>
<circle cx="115.03" cy="546.36" r="0.85" fill="#0e5897"/>
<circle cx="115.09" cy="553.66" r="0.85" fill="#0e5897"/>
<circle cx="117.03" cy="547.04" r="0.85" fill="#0e5897"/>
<circle cx="114.96" cy="563.33" r="0.85" fill="#0e5897"/>
<circle cx="113.17" cy="548.39" r="0.85" fill="#0e5897"/>
<circle cx="116.84" cy="542.47" r="0.85" fill="#0e5897"/>
<circle cx="113.73" cy="551.58" r="0.85" fill="#0e5897"/>
<circle cx="114.65" cy="554.51" r="0.85" fill="#0e5897"/>
<circle cx="115.10" cy="544.15" r="0.85" fill="#0e5897"/>
<circle cx="114.80" cy="551.78" r="0.85" fill="#0e5897"/>
<line x1="115.30" y1="549.73" x2="115.30" y2="551.91" stroke="#1c3550" stroke-width="0.7"/>
<line x1="113.30" y1="549.73" x2="117.30" y2="549.73" stroke="#1c3550" stroke-width="0.7"/>
<line x1="113.30" y1="551.91" x2="117.30" y2="551.91" stroke="#1c3550" stroke-width="0.7"/>
<circle cx="128.13" cy="566.81" r="0.85" fill="#983634"/>
<circle cx="128.51" cy="529.06" r="0.85" fill="#983634"/>
<circle cx="132.07" cy="565.27" r="0.85" fill="#983634"/>
<circle cx="129.22" cy="543.62" r="0.85" fill="#983634"/>
<circle cx="129.34" cy="548.95" r="0.85" fill="#983634"/>
<circle cx="132.52" cy="550.44" r="0.85" fill="#983634"/>
<circle cx="129.41" cy="545.95" r="0.85" fill="#983634"/>
<circle cx="127.02" cy="555.94" r="0.85" fill="#983634"/>
<circle cx="130.08" cy="543.48" r="0.85" fill="#983634"/>
<circle cx="128.16" cy="544.24" r="0.85" fill="#983634"/>
<circle cx="131.84" cy="559.48" r="0.85" fill="#983634"/>
<circle cx="127.72" cy="540.88" r="0.85" fill="#983634"/>
<circle cx="128.67" cy="543.81" r="0.85" fill="#983634"/>
<circle cx="127.21" cy="553.92" r="0.85" fill="#983634"/>
<circle cx="129.64" cy="553.78" r="0.85" fill="#983634"/>
<circle cx="128.05" cy="547.54" r="0.85" fill="#983634"/>
<circle cx="129.41" cy="559.34" r="0.85" fill="#983634"/>
<circle cx="128.96" cy="557.39" r="0.85" fill="#983634"/>
<circle cx="128.62" cy="549.39" r="0.85" fill="#983634"/>
<circle cx="130.85" cy="549.47" r="0.85" fill="#983634"/>
<circle cx="130.84" cy="548.17" r="0.85" fill="#983634"/>
<circle cx="129.59" cy="563.83" r="0.85" fill="#983634"/>
<circle cx="128.21" cy="554.03" r="0.85" fill="#983634"/>
<circle cx="127.97" cy="550.63" r="0.85" fill="#983634"/>
<circle cx="129.89" cy="541.48" r="0.85" fill="#983634"/>
<circle cx="132.52" cy="553.96" r="0.85" fill="#983634"/>
<circle cx="128.85" cy="546.75" r="0.85" fill="#983634"/>
<circle cx="128.38" cy="529.12" r="0.85" fill="#983634"/>
<circle cx="128.50" cy="548.66" r="0.85" fill="#983634"/>
<circle cx="127.94" cy="548.29" r="0.85" fill="#983634"/>
<circle cx="128.11" cy="563.15" r="0.85" fill="#983634"/>
<circle cx="129.21" cy="561.55" r="0.85" fill="#983634"/>
<circle cx="131.55" cy="551.60" r="0.85" fill="#983634"/>
<circle cx="129.50" cy="546.50" r="0.85" fill="#983634"/>
<circle cx="128.77" cy="559.22" r="0.85" fill="#983634"/>
<circle cx="127.19" cy="537.72" r="0.85" fill="#983634"/>
<circle cx="129.80" cy="547.72" r="0.85" fill="#983634"/>
<circle cx="129.46" cy="560.50" r="0.85" fill="#983634"/>
<circle cx="127.75" cy="553.36" r="0.85" fill="#983634"/>
<circle cx="127.95" cy="562.80" r="0.85" fill="#983634"/>
<circle cx="129.44" cy="545.98" r="0.85" fill="#983634"/>
<circle cx="130.95" cy="555.50" r="0.85" fill="#983634"/>
<circle cx="130.39" cy="549.32" r="0.85" fill="#983634"/>
<circle cx="129.79" cy="535.09" r="0.85" fill="#983634"/>
<circle cx="129.04" cy="548.56" r="0.85" fill="#983634"/>
<circle cx="129.96" cy="549.90" r="0.85" fill="#983634"/>
<circle cx="129.48" cy="550.49" r="0.85" fill="#983634"/>
<circle cx="132.52" cy="551.24" r="0.85" fill="#983634"/>
<circle cx="127.88" cy="557.33" r="0.85" fill="#983634"/>
<circle cx="128.97" cy="559.47" r="0.85" fill="#983634"/>
<circle cx="131.31" cy="540.35" r="0.85" fill="#983634"/>
<circle cx="129.12" cy="548.13" r="0.85" fill="#983634"/>
<circle cx="131.53" cy="549.67" r="0.85" fill="#983634"/>
<circle cx="129.44" cy="555.19" r="0.85" fill="#983634"/>
<circle cx="129.71" cy="547.46" r="0.85" fill="#983634"/>
<circle cx="128.97" cy="533.09" r="0.85" fill="#983634"/>
<circle cx="127.53" cy="549.43" r="0.85" fill="#983634"/>
<circle cx="128.11" cy="546.07" r="0.85" fill="#983634"/>
<circle cx="132.52" cy="558.56" r="0.85" fill="#983634"/>
<line x1="129.50" y1="550.53" x2="129.50" y2="552.98" stroke="#4a2020" stroke-width="0.7"/>
<line x1="127.50" y1="550.53" x2="131.50" y2="550.53" stroke="#4a2020" stroke-width="0.7"/>
<line x1="127.50" y1="552.98" x2="131.50" y2="552.98" stroke="#4a2020" stroke-width="0.7"/>
<line x1="68.50" y1="502.50" x2="68.50" y2="572.40" stroke="#5a5a5a" stroke-width="0.75"/>
<line x1="68.50" y1="572.40" x2="138.80" y2="572.40" stroke="#5a5a5a" stroke-width="0.75"/>
<line x1="65.50" y1="572.40" x2="68.50" y2="572.40" stroke="#5a5a5a" stroke-width="0.75"/>
<text x="61.40" y="575.25" font-size="8.2" text-anchor="end" textLength="4.40" lengthAdjust="spacingAndGlyphs" stroke="#231f20" stroke-width="0.13">0</text>
<line x1="65.50" y1="549.10" x2="68.50" y2="549.10" stroke="#5a5a5a" stroke-width="0.75"/>
<text x="61.40" y="551.95" font-size="8.2" text-anchor="end" textLength="8.80" lengthAdjust="spacingAndGlyphs" stroke="#231f20" stroke-width="0.13">50</text>
<line x1="65.50" y1="525.80" x2="68.50" y2="525.80" stroke="#5a5a5a" stroke-width="0.75"/>
<text x="61.40" y="528.65" font-size="8.2" text-anchor="end" textLength="11.80" lengthAdjust="spacingAndGlyphs" stroke="#231f20" stroke-width="0.13">100</text>
<line x1="65.50" y1="502.50" x2="68.50" y2="502.50" stroke="#5a5a5a" stroke-width="0.75"/>
<text x="61.40" y="505.35" font-size="8.2" text-anchor="end" textLength="11.80" lengthAdjust="spacingAndGlyphs" stroke="#231f20" stroke-width="0.13">150</text>
<line x1="103.30" y1="502.00" x2="103.30" y2="572.40" stroke="#2a2a2a" stroke-width="0.9" stroke-dasharray="3.1,2.3"/>
<text x="86.60" y="584.20" font-size="9.1" text-anchor="middle" textLength="25.50" lengthAdjust="spacingAndGlyphs" stroke="#231f20" stroke-width="0.13">Young</text>
<text x="125.10" y="584.20" font-size="9.1" text-anchor="middle" textLength="21.50" lengthAdjust="spacingAndGlyphs" stroke="#231f20" stroke-width="0.13">Aged</text>
<text x="0" y="0" font-size="8.6" text-anchor="middle" stroke="#231f20" stroke-width="0.13" transform="translate(41.60 537.60) rotate(-90) scale(0.9787 1)"><tspan font-size="8.6" dy="0">C</tspan><tspan font-size="6.2" dy="1.9">m</tspan><tspan font-size="8.6" dy="-1.9"> (pF)</tspan></text>
<path d="M91.60,490.70 L91.60,486.20 L130.50,486.20 L130.50,490.70" stroke="#333" stroke-width="0.7" fill="none"/>
<text x="110.80" y="481.90" font-size="8.3" text-anchor="middle" textLength="25.60" lengthAdjust="spacingAndGlyphs" stroke="#231f20" stroke-width="0.13">0.0217</text>
<path d="M77.60,504.80 L77.60,500.20 L116.50,500.20 L116.50,504.80" stroke="#333" stroke-width="0.7" fill="none"/>
<text x="98.40" y="496.60" font-size="8.3" text-anchor="middle" textLength="25.60" lengthAdjust="spacingAndGlyphs" stroke="#231f20" stroke-width="0.13">0.0002</text>
<path d="M77.60,518.80 L77.60,515.00 L91.60,515.00 L91.60,518.80" stroke="#333" stroke-width="0.7" fill="none"/>
<text x="86.00" y="510.60" font-size="8.3" text-anchor="middle" textLength="25.60" lengthAdjust="spacingAndGlyphs" stroke="#231f20" stroke-width="0.13">0.0072</text>
<text x="34.70" y="486.70" font-size="12" font-weight="bold" fill="#000" stroke="#000" stroke-width="0.45">o</text>
<rect x="206.65" y="556.96" width="7.70" height="15.44" fill="#84c9ff" stroke="#3f5d78" stroke-width="0.7"/>
<rect x="220.85" y="553.95" width="7.70" height="18.45" fill="#ffb8b6" stroke="#8a5a58" stroke-width="0.7"/>
<rect x="244.55" y="554.66" width="7.70" height="17.74" fill="#84c9ff" stroke="#3f5d78" stroke-width="0.7"/>
<rect x="258.55" y="551.74" width="7.80" height="20.66" fill="#ffb8b6" stroke="#8a5a58" stroke-width="0.7"/>
<circle cx="210.38" cy="562.99" r="0.85" fill="#0e5897"/>
<circle cx="209.23" cy="542.28" r="0.85" fill="#0e5897"/>
<circle cx="211.12" cy="559.77" r="0.85" fill="#0e5897"/>
<circle cx="210.59" cy="562.76" r="0.85" fill="#0e5897"/>
<circle cx="209.84" cy="561.24" r="0.85" fill="#0e5897"/>
<circle cx="209.65" cy="546.20" r="0.85" fill="#0e5897"/>
<circle cx="210.22" cy="560.51" r="0.85" fill="#0e5897"/>
<circle cx="210.37" cy="559.59" r="0.85" fill="#0e5897"/>
<circle cx="210.13" cy="553.87" r="0.85" fill="#0e5897"/>
<circle cx="210.28" cy="544.22" r="0.85" fill="#0e5897"/>
<circle cx="211.79" cy="546.03" r="0.85" fill="#0e5897"/>
<circle cx="210.20" cy="548.76" r="0.85" fill="#0e5897"/>
<circle cx="210.15" cy="562.44" r="0.85" fill="#0e5897"/>
<circle cx="209.55" cy="561.73" r="0.85" fill="#0e5897"/>
<circle cx="210.75" cy="553.22" r="0.85" fill="#0e5897"/>
<circle cx="210.18" cy="548.40" r="0.85" fill="#0e5897"/>
<circle cx="212.09" cy="551.45" r="0.85" fill="#0e5897"/>
<circle cx="212.08" cy="554.22" r="0.85" fill="#0e5897"/>
<circle cx="210.08" cy="556.51" r="0.85" fill="#0e5897"/>
<circle cx="211.33" cy="554.21" r="0.85" fill="#0e5897"/>
<circle cx="210.26" cy="559.44" r="0.85" fill="#0e5897"/>
<circle cx="211.71" cy="552.40" r="0.85" fill="#0e5897"/>
<circle cx="209.88" cy="561.02" r="0.85" fill="#0e5897"/>
<circle cx="211.38" cy="554.69" r="0.85" fill="#0e5897"/>
<circle cx="212.70" cy="551.51" r="0.85" fill="#0e5897"/>
<circle cx="210.64" cy="555.90" r="0.85" fill="#0e5897"/>
<circle cx="210.41" cy="558.64" r="0.85" fill="#0e5897"/>
<circle cx="210.22" cy="559.74" r="0.85" fill="#0e5897"/>
<circle cx="212.93" cy="557.74" r="0.85" fill="#0e5897"/>
<circle cx="209.92" cy="555.46" r="0.85" fill="#0e5897"/>
<circle cx="211.39" cy="558.47" r="0.85" fill="#0e5897"/>
<circle cx="210.91" cy="557.79" r="0.85" fill="#0e5897"/>
<circle cx="210.52" cy="556.96" r="0.85" fill="#0e5897"/>
<circle cx="207.49" cy="559.39" r="0.85" fill="#0e5897"/>
<line x1="210.50" y1="556.07" x2="210.50" y2="557.85" stroke="#1c3550" stroke-width="0.7"/>
<line x1="208.50" y1="556.07" x2="212.50" y2="556.07" stroke="#1c3550" stroke-width="0.7"/>
<line x1="208.50" y1="557.85" x2="212.50" y2="557.85" stroke="#1c3550" stroke-width="0.7"/>
<circle cx="225.95" cy="562.05" r="0.85" fill="#983634"/>
<circle cx="225.95" cy="543.22" r="0.85" fill="#983634"/>
<circle cx="224.26" cy="560.08" r="0.85" fill="#983634"/>
<circle cx="223.34" cy="551.21" r="0.85" fill="#983634"/>
<circle cx="224.74" cy="553.54" r="0.85" fill="#983634"/>
<circle cx="226.16" cy="555.40" r="0.85" fill="#983634"/>
<circle cx="223.73" cy="555.69" r="0.85" fill="#983634"/>
<circle cx="226.64" cy="555.66" r="0.85" fill="#983634"/>
<circle cx="225.09" cy="555.70" r="0.85" fill="#983634"/>
<circle cx="225.18" cy="552.58" r="0.85" fill="#983634"/>
<circle cx="223.86" cy="551.73" r="0.85" fill="#983634"/>
<circle cx="226.74" cy="544.27" r="0.85" fill="#983634"/>
<circle cx="224.83" cy="555.58" r="0.85" fill="#983634"/>
<circle cx="222.61" cy="556.68" r="0.85" fill="#983634"/>
<circle cx="225.95" cy="549.18" r="0.85" fill="#983634"/>
<circle cx="224.16" cy="558.57" r="0.85" fill="#983634"/>
<circle cx="226.32" cy="545.36" r="0.85" fill="#983634"/>
<circle cx="225.01" cy="553.77" r="0.85" fill="#983634"/>
<circle cx="223.86" cy="550.60" r="0.85" fill="#983634"/>
<circle cx="225.01" cy="558.94" r="0.85" fill="#983634"/>
<circle cx="224.05" cy="558.93" r="0.85" fill="#983634"/>
<circle cx="223.57" cy="557.58" r="0.85" fill="#983634"/>
<circle cx="224.79" cy="551.88" r="0.85" fill="#983634"/>
<circle cx="225.97" cy="556.49" r="0.85" fill="#983634"/>
<circle cx="224.87" cy="555.35" r="0.85" fill="#983634"/>
<circle cx="224.64" cy="554.49" r="0.85" fill="#983634"/>
<circle cx="223.96" cy="554.18" r="0.85" fill="#983634"/>
<circle cx="225.59" cy="551.97" r="0.85" fill="#983634"/>
<circle cx="225.16" cy="560.35" r="0.85" fill="#983634"/>
<circle cx="226.15" cy="553.20" r="0.85" fill="#983634"/>
<circle cx="225.29" cy="555.40" r="0.85" fill="#983634"/>
<circle cx="227.72" cy="556.92" r="0.85" fill="#983634"/>
<circle cx="222.49" cy="555.41" r="0.85" fill="#983634"/>
<circle cx="224.69" cy="557.59" r="0.85" fill="#983634"/>
<line x1="224.70" y1="553.14" x2="224.70" y2="554.76" stroke="#4a2020" stroke-width="0.7"/>
<line x1="222.70" y1="553.14" x2="226.70" y2="553.14" stroke="#4a2020" stroke-width="0.7"/>
<line x1="222.70" y1="554.76" x2="226.70" y2="554.76" stroke="#4a2020" stroke-width="0.7"/>
<circle cx="248.58" cy="562.99" r="0.85" fill="#0e5897"/>
<circle cx="249.85" cy="524.39" r="0.85" fill="#0e5897"/>
<circle cx="247.67" cy="545.05" r="0.85" fill="#0e5897"/>
<circle cx="249.05" cy="551.97" r="0.85" fill="#0e5897"/>
<circle cx="250.71" cy="558.73" r="0.85" fill="#0e5897"/>
<circle cx="246.81" cy="552.39" r="0.85" fill="#0e5897"/>
<circle cx="249.23" cy="558.68" r="0.85" fill="#0e5897"/>
<circle cx="247.97" cy="562.27" r="0.85" fill="#0e5897"/>
<circle cx="249.37" cy="548.77" r="0.85" fill="#0e5897"/>
<circle cx="250.07" cy="557.88" r="0.85" fill="#0e5897"/>
<circle cx="249.42" cy="557.98" r="0.85" fill="#0e5897"/>
<circle cx="251.42" cy="547.85" r="0.85" fill="#0e5897"/>
<circle cx="247.17" cy="551.63" r="0.85" fill="#0e5897"/>
<circle cx="248.72" cy="551.19" r="0.85" fill="#0e5897"/>
<circle cx="245.38" cy="561.21" r="0.85" fill="#0e5897"/>
<circle cx="247.62" cy="558.01" r="0.85" fill="#0e5897"/>
<circle cx="249.32" cy="539.94" r="0.85" fill="#0e5897"/>
<circle cx="250.11" cy="545.07" r="0.85" fill="#0e5897"/>
<circle cx="247.51" cy="538.25" r="0.85" fill="#0e5897"/>
<circle cx="248.29" cy="561.76" r="0.85" fill="#0e5897"/>
<circle cx="248.20" cy="555.20" r="0.85" fill="#0e5897"/>
<circle cx="248.62" cy="548.10" r="0.85" fill="#0e5897"/>
<circle cx="250.02" cy="555.07" r="0.85" fill="#0e5897"/>
<circle cx="248.08" cy="525.51" r="0.85" fill="#0e5897"/>
<circle cx="245.75" cy="547.77" r="0.85" fill="#0e5897"/>
<circle cx="248.46" cy="530.74" r="0.85" fill="#0e5897"/>
<circle cx="247.10" cy="552.03" r="0.85" fill="#0e5897"/>
<circle cx="246.31" cy="560.12" r="0.85" fill="#0e5897"/>
<circle cx="250.33" cy="546.28" r="0.85" fill="#0e5897"/>
<circle cx="250.04" cy="544.87" r="0.85" fill="#0e5897"/>
<circle cx="248.29" cy="529.03" r="0.85" fill="#0e5897"/>
<circle cx="249.08" cy="551.08" r="0.85" fill="#0e5897"/>
<circle cx="250.28" cy="556.39" r="0.85" fill="#0e5897"/>
<circle cx="247.08" cy="535.36" r="0.85" fill="#0e5897"/>
<circle cx="248.10" cy="553.15" r="0.85" fill="#0e5897"/>
<circle cx="248.57" cy="550.84" r="0.85" fill="#0e5897"/>
<circle cx="249.80" cy="557.00" r="0.85" fill="#0e5897"/>
<circle cx="247.83" cy="556.52" r="0.85" fill="#0e5897"/>
<circle cx="247.92" cy="562.12" r="0.85" fill="#0e5897"/>
<circle cx="245.38" cy="552.15" r="0.85" fill="#0e5897"/>
<circle cx="247.50" cy="554.96" r="0.85" fill="#0e5897"/>
<circle cx="248.37" cy="559.75" r="0.85" fill="#0e5897"/>
<circle cx="247.31" cy="550.36" r="0.85" fill="#0e5897"/>
<circle cx="247.82" cy="557.26" r="0.85" fill="#0e5897"/>
<circle cx="248.73" cy="540.25" r="0.85" fill="#0e5897"/>
<circle cx="248.24" cy="560.54" r="0.85" fill="#0e5897"/>
<circle cx="246.39" cy="561.96" r="0.85" fill="#0e5897"/>
<circle cx="249.24" cy="549.75" r="0.85" fill="#0e5897"/>
<circle cx="249.99" cy="553.07" r="0.85" fill="#0e5897"/>
<circle cx="246.86" cy="559.74" r="0.85" fill="#0e5897"/>
<circle cx="247.34" cy="562.66" r="0.85" fill="#0e5897"/>
<circle cx="247.51" cy="558.62" r="0.85" fill="#0e5897"/>
<circle cx="249.25" cy="552.98" r="0.85" fill="#0e5897"/>
<circle cx="245.38" cy="538.68" r="0.85" fill="#0e5897"/>
<circle cx="251.42" cy="558.16" r="0.85" fill="#0e5897"/>
<circle cx="247.58" cy="550.10" r="0.85" fill="#0e5897"/>
<line x1="248.40" y1="553.37" x2="248.40" y2="555.95" stroke="#1c3550" stroke-width="0.7"/>
<line x1="246.40" y1="553.37" x2="250.40" y2="553.37" stroke="#1c3550" stroke-width="0.7"/>
<line x1="246.40" y1="555.95" x2="250.40" y2="555.95" stroke="#1c3550" stroke-width="0.7"/>
<circle cx="260.69" cy="562.99" r="0.85" fill="#983634"/>
<circle cx="262.82" cy="526.27" r="0.85" fill="#983634"/>
<circle cx="260.31" cy="545.41" r="0.85" fill="#983634"/>
<circle cx="263.88" cy="548.31" r="0.85" fill="#983634"/>
<circle cx="260.92" cy="551.15" r="0.85" fill="#983634"/>
<circle cx="261.67" cy="560.21" r="0.85" fill="#983634"/>
<circle cx="263.35" cy="540.06" r="0.85" fill="#983634"/>
<circle cx="263.09" cy="555.12" r="0.85" fill="#983634"/>
<circle cx="262.82" cy="556.88" r="0.85" fill="#983634"/>
<circle cx="265.51" cy="543.57" r="0.85" fill="#983634"/>
<circle cx="263.49" cy="553.80" r="0.85" fill="#983634"/>
<circle cx="263.69" cy="547.66" r="0.85" fill="#983634"/>
<circle cx="263.97" cy="553.47" r="0.85" fill="#983634"/>
<circle cx="264.95" cy="555.07" r="0.85" fill="#983634"/>
<circle cx="265.26" cy="549.32" r="0.85" fill="#983634"/>
<circle cx="261.57" cy="539.56" r="0.85" fill="#983634"/>
<circle cx="262.27" cy="555.48" r="0.85" fill="#983634"/>
<circle cx="263.78" cy="549.69" r="0.85" fill="#983634"/>
<circle cx="259.91" cy="557.06" r="0.85" fill="#983634"/>
<circle cx="263.47" cy="547.43" r="0.85" fill="#983634"/>
<circle cx="262.31" cy="551.70" r="0.85" fill="#983634"/>
<circle cx="260.71" cy="556.26" r="0.85" fill="#983634"/>
<circle cx="263.67" cy="560.75" r="0.85" fill="#983634"/>
<circle cx="262.07" cy="551.83" r="0.85" fill="#983634"/>
<circle cx="264.29" cy="554.95" r="0.85" fill="#983634"/>
<circle cx="261.72" cy="530.30" r="0.85" fill="#983634"/>
<circle cx="260.15" cy="547.61" r="0.85" fill="#983634"/>
<circle cx="263.53" cy="538.82" r="0.85" fill="#983634"/>
<circle cx="260.30" cy="532.27" r="0.85" fill="#983634"/>
<circle cx="261.91" cy="554.44" r="0.85" fill="#983634"/>
<circle cx="264.82" cy="552.10" r="0.85" fill="#983634"/>
<circle cx="261.64" cy="561.14" r="0.85" fill="#983634"/>
<circle cx="262.81" cy="551.70" r="0.85" fill="#983634"/>
<circle cx="264.45" cy="558.51" r="0.85" fill="#983634"/>
<circle cx="262.71" cy="545.42" r="0.85" fill="#983634"/>
<circle cx="262.05" cy="560.02" r="0.85" fill="#983634"/>
<circle cx="262.95" cy="551.23" r="0.85" fill="#983634"/>
<circle cx="260.96" cy="554.61" r="0.85" fill="#983634"/>
<circle cx="262.54" cy="539.78" r="0.85" fill="#983634"/>
<circle cx="261.60" cy="559.36" r="0.85" fill="#983634"/>
<circle cx="264.11" cy="546.68" r="0.85" fill="#983634"/>
<circle cx="260.73" cy="539.28" r="0.85" fill="#983634"/>
<circle cx="262.02" cy="550.51" r="0.85" fill="#983634"/>
<circle cx="265.51" cy="556.33" r="0.85" fill="#983634"/>
<circle cx="262.20" cy="545.15" r="0.85" fill="#983634"/>
<circle cx="261.57" cy="532.23" r="0.85" fill="#983634"/>
<circle cx="265.24" cy="546.39" r="0.85" fill="#983634"/>
<circle cx="261.10" cy="552.91" r="0.85" fill="#983634"/>
<circle cx="265.51" cy="551.24" r="0.85" fill="#983634"/>
<circle cx="263.63" cy="553.73" r="0.85" fill="#983634"/>
<circle cx="262.90" cy="550.29" r="0.85" fill="#983634"/>
<circle cx="264.38" cy="562.63" r="0.85" fill="#983634"/>
<circle cx="261.57" cy="556.18" r="0.85" fill="#983634"/>
<circle cx="262.19" cy="554.97" r="0.85" fill="#983634"/>
<circle cx="261.51" cy="540.95" r="0.85" fill="#983634"/>
<circle cx="265.09" cy="550.07" r="0.85" fill="#983634"/>
<circle cx="264.98" cy="547.43" r="0.85" fill="#983634"/>
<circle cx="263.27" cy="552.00" r="0.85" fill="#983634"/>
<circle cx="262.81" cy="551.89" r="0.85" fill="#983634"/>
<line x1="262.45" y1="550.54" x2="262.45" y2="552.93" stroke="#4a2020" stroke-width="0.7"/>
<line x1="260.45" y1="550.54" x2="264.45" y2="550.54" stroke="#4a2020" stroke-width="0.7"/>
<line x1="260.45" y1="552.93" x2="264.45" y2="552.93" stroke="#4a2020" stroke-width="0.7"/>
<line x1="201.30" y1="501.80" x2="201.30" y2="572.40" stroke="#5a5a5a" stroke-width="0.75"/>
<line x1="201.30" y1="572.40" x2="271.90" y2="572.40" stroke="#5a5a5a" stroke-width="0.75"/>
<line x1="198.30" y1="572.40" x2="201.30" y2="572.40" stroke="#5a5a5a" stroke-width="0.75"/>
<text x="194.20" y="575.25" font-size="8.2" text-anchor="end" textLength="4.40" lengthAdjust="spacingAndGlyphs" stroke="#231f20" stroke-width="0.13">0</text>
<line x1="198.30" y1="548.87" x2="201.30" y2="548.87" stroke="#5a5a5a" stroke-width="0.75"/>
<text x="194.20" y="551.72" font-size="8.2" text-anchor="end" textLength="13.20" lengthAdjust="spacingAndGlyphs" stroke="#231f20" stroke-width="0.13">500</text>
<line x1="198.30" y1="525.33" x2="201.30" y2="525.33" stroke="#5a5a5a" stroke-width="0.75"/>
<text x="194.20" y="528.18" font-size="8.2" text-anchor="end" textLength="18.20" lengthAdjust="spacingAndGlyphs" stroke="#231f20" stroke-width="0.13">1,000</text>
<line x1="198.30" y1="501.80" x2="201.30" y2="501.80" stroke="#5a5a5a" stroke-width="0.75"/>
<text x="194.20" y="504.65" font-size="8.2" text-anchor="end" textLength="18.20" lengthAdjust="spacingAndGlyphs" stroke="#231f20" stroke-width="0.13">1,500</text>
<line x1="236.30" y1="501.30" x2="236.30" y2="572.40" stroke="#2a2a2a" stroke-width="0.9" stroke-dasharray="3.1,2.3"/>
<text x="217.40" y="584.20" font-size="9.1" text-anchor="middle" textLength="25.50" lengthAdjust="spacingAndGlyphs" stroke="#231f20" stroke-width="0.13">Young</text>
<text x="256.50" y="584.20" font-size="9.1" text-anchor="middle" textLength="21.50" lengthAdjust="spacingAndGlyphs" stroke="#231f20" stroke-width="0.13">Aged</text>
<text x="0" y="0" font-size="8.6" text-anchor="middle" stroke="#231f20" stroke-width="0.13" transform="translate(165.80 537.20) rotate(-90) scale(0.9619 1)"><tspan font-size="8.6" dy="0" font-style="italic">R</tspan><tspan font-size="6.2" dy="1.9">in</tspan><tspan font-size="8.6" dy="-1.9"> (MΩ)</tspan></text>
<path d="M210.60,501.40 L210.60,496.40 L248.60,496.40 L248.60,501.40" stroke="#333" stroke-width="0.7" fill="none"/>
<text x="230.00" y="492.50" font-size="8.3" text-anchor="middle" textLength="25.60" lengthAdjust="spacingAndGlyphs" stroke="#231f20" stroke-width="0.13">0.0387</text>
<path d="M210.60,519.90 L210.60,515.40 L224.40,515.40 L224.40,519.90" stroke="#333" stroke-width="0.7" fill="none"/>
<text x="217.40" y="511.30" font-size="8.3" text-anchor="middle" textLength="25.60" lengthAdjust="spacingAndGlyphs" stroke="#231f20" stroke-width="0.13">0.0113</text>
<path d="M247.40,519.90 L247.40,515.40 L263.30,515.40 L263.30,519.90" stroke="#333" stroke-width="0.7" fill="none"/>
<text x="256.50" y="511.30" font-size="8.3" text-anchor="middle" textLength="25.60" lengthAdjust="spacingAndGlyphs" stroke="#231f20" stroke-width="0.13">0.0057</text>
<text x="159.60" y="488.90" font-size="12" font-weight="bold" fill="#000" stroke="#000" stroke-width="0.45">p</text>
<rect x="336.05" y="543.29" width="8.00" height="29.11" fill="#84c9ff" stroke="#3f5d78" stroke-width="0.7"/>
<rect x="350.65" y="542.57" width="7.70" height="29.83" fill="#ffb8b6" stroke="#8a5a58" stroke-width="0.7"/>
<rect x="374.35" y="544.01" width="7.70" height="28.39" fill="#84c9ff" stroke="#3f5d78" stroke-width="0.7"/>
<rect x="388.55" y="543.29" width="7.70" height="29.11" fill="#ffb8b6" stroke="#8a5a58" stroke-width="0.7"/>
<circle cx="340.84" cy="565.23" r="0.85" fill="#0e5897"/>
<circle cx="340.27" cy="507.87" r="0.85" fill="#0e5897"/>
<circle cx="341.02" cy="525.92" r="0.85" fill="#0e5897"/>
<circle cx="337.40" cy="539.71" r="0.85" fill="#0e5897"/>
<circle cx="339.49" cy="556.79" r="0.85" fill="#0e5897"/>
<circle cx="339.38" cy="523.13" r="0.85" fill="#0e5897"/>
<circle cx="337.50" cy="534.75" r="0.85" fill="#0e5897"/>
<circle cx="341.59" cy="548.33" r="0.85" fill="#0e5897"/>
<circle cx="342.06" cy="548.26" r="0.85" fill="#0e5897"/>
<circle cx="338.30" cy="544.56" r="0.85" fill="#0e5897"/>
<circle cx="340.89" cy="556.81" r="0.85" fill="#0e5897"/>
<circle cx="342.82" cy="544.32" r="0.85" fill="#0e5897"/>
<circle cx="338.39" cy="537.12" r="0.85" fill="#0e5897"/>
<circle cx="341.71" cy="560.08" r="0.85" fill="#0e5897"/>
<circle cx="342.62" cy="541.29" r="0.85" fill="#0e5897"/>
<circle cx="343.04" cy="550.38" r="0.85" fill="#0e5897"/>
<circle cx="338.16" cy="542.90" r="0.85" fill="#0e5897"/>
<circle cx="338.62" cy="555.60" r="0.85" fill="#0e5897"/>
<circle cx="340.54" cy="550.79" r="0.85" fill="#0e5897"/>
<circle cx="342.04" cy="518.22" r="0.85" fill="#0e5897"/>
<circle cx="338.32" cy="539.75" r="0.85" fill="#0e5897"/>
<circle cx="339.09" cy="547.70" r="0.85" fill="#0e5897"/>
<circle cx="338.54" cy="554.61" r="0.85" fill="#0e5897"/>
<circle cx="341.89" cy="526.41" r="0.85" fill="#0e5897"/>
<circle cx="339.38" cy="540.43" r="0.85" fill="#0e5897"/>
<circle cx="341.09" cy="537.53" r="0.85" fill="#0e5897"/>
<circle cx="341.20" cy="538.88" r="0.85" fill="#0e5897"/>
<circle cx="341.98" cy="547.30" r="0.85" fill="#0e5897"/>
<circle cx="340.86" cy="540.21" r="0.85" fill="#0e5897"/>
<circle cx="340.74" cy="551.71" r="0.85" fill="#0e5897"/>
<circle cx="341.98" cy="544.21" r="0.85" fill="#0e5897"/>
<circle cx="340.94" cy="527.88" r="0.85" fill="#0e5897"/>
<circle cx="338.31" cy="555.01" r="0.85" fill="#0e5897"/>
<circle cx="339.41" cy="533.56" r="0.85" fill="#0e5897"/>
<line x1="340.05" y1="540.83" x2="340.05" y2="545.75" stroke="#1c3550" stroke-width="0.7"/>
<line x1="338.05" y1="540.83" x2="342.05" y2="540.83" stroke="#1c3550" stroke-width="0.7"/>
<line x1="338.05" y1="545.75" x2="342.05" y2="545.75" stroke="#1c3550" stroke-width="0.7"/>
<circle cx="356.27" cy="563.80" r="0.85" fill="#983634"/>
<circle cx="356.37" cy="509.30" r="0.85" fill="#983634"/>
<circle cx="353.17" cy="539.84" r="0.85" fill="#983634"/>
<circle cx="357.21" cy="541.99" r="0.85" fill="#983634"/>
<circle cx="353.79" cy="542.19" r="0.85" fill="#983634"/>
<circle cx="354.29" cy="547.37" r="0.85" fill="#983634"/>
<circle cx="355.58" cy="531.25" r="0.85" fill="#983634"/>
<circle cx="354.53" cy="538.19" r="0.85" fill="#983634"/>
<circle cx="355.05" cy="542.08" r="0.85" fill="#983634"/>
<circle cx="353.90" cy="543.41" r="0.85" fill="#983634"/>
<circle cx="353.14" cy="531.82" r="0.85" fill="#983634"/>
<circle cx="354.68" cy="544.64" r="0.85" fill="#983634"/>
<circle cx="353.06" cy="543.24" r="0.85" fill="#983634"/>
<circle cx="356.63" cy="540.36" r="0.85" fill="#983634"/>
<circle cx="355.01" cy="543.09" r="0.85" fill="#983634"/>
<circle cx="356.71" cy="549.58" r="0.85" fill="#983634"/>
<circle cx="352.83" cy="543.22" r="0.85" fill="#983634"/>
<circle cx="351.61" cy="530.50" r="0.85" fill="#983634"/>
<circle cx="351.48" cy="548.14" r="0.85" fill="#983634"/>
<circle cx="354.10" cy="544.68" r="0.85" fill="#983634"/>
<circle cx="352.76" cy="542.13" r="0.85" fill="#983634"/>
<circle cx="355.18" cy="522.48" r="0.85" fill="#983634"/>
<circle cx="352.52" cy="526.92" r="0.85" fill="#983634"/>
<circle cx="352.62" cy="537.60" r="0.85" fill="#983634"/>
<circle cx="355.07" cy="542.17" r="0.85" fill="#983634"/>
<circle cx="354.08" cy="544.95" r="0.85" fill="#983634"/>
<circle cx="355.65" cy="516.74" r="0.85" fill="#983634"/>
<circle cx="355.84" cy="518.92" r="0.85" fill="#983634"/>
<circle cx="355.17" cy="547.27" r="0.85" fill="#983634"/>
<circle cx="352.87" cy="533.16" r="0.85" fill="#983634"/>
<circle cx="353.38" cy="556.81" r="0.85" fill="#983634"/>
<circle cx="357.52" cy="559.92" r="0.85" fill="#983634"/>
<circle cx="354.32" cy="535.94" r="0.85" fill="#983634"/>
<circle cx="355.08" cy="534.64" r="0.85" fill="#983634"/>
<line x1="354.50" y1="540.24" x2="354.50" y2="544.91" stroke="#4a2020" stroke-width="0.7"/>
<line x1="352.50" y1="540.24" x2="356.50" y2="540.24" stroke="#4a2020" stroke-width="0.7"/>
<line x1="352.50" y1="544.91" x2="356.50" y2="544.91" stroke="#4a2020" stroke-width="0.7"/>
<circle cx="375.95" cy="566.66" r="0.85" fill="#0e5897"/>
<circle cx="379.54" cy="505.00" r="0.85" fill="#0e5897"/>
<circle cx="379.09" cy="564.79" r="0.85" fill="#0e5897"/>
<circle cx="375.18" cy="531.26" r="0.85" fill="#0e5897"/>
<circle cx="376.81" cy="533.84" r="0.85" fill="#0e5897"/>
<circle cx="378.67" cy="540.09" r="0.85" fill="#0e5897"/>
<circle cx="376.01" cy="554.07" r="0.85" fill="#0e5897"/>
<circle cx="377.27" cy="545.81" r="0.85" fill="#0e5897"/>
<circle cx="379.07" cy="552.33" r="0.85" fill="#0e5897"/>
<circle cx="378.68" cy="547.64" r="0.85" fill="#0e5897"/>
<circle cx="378.97" cy="551.99" r="0.85" fill="#0e5897"/>
<circle cx="379.20" cy="542.55" r="0.85" fill="#0e5897"/>
<circle cx="377.04" cy="541.50" r="0.85" fill="#0e5897"/>
<circle cx="381.22" cy="546.20" r="0.85" fill="#0e5897"/>
<circle cx="379.07" cy="543.95" r="0.85" fill="#0e5897"/>
<circle cx="381.22" cy="514.25" r="0.85" fill="#0e5897"/>
<circle cx="377.93" cy="527.67" r="0.85" fill="#0e5897"/>
<circle cx="379.13" cy="544.83" r="0.85" fill="#0e5897"/>
<circle cx="378.81" cy="532.61" r="0.85" fill="#0e5897"/>
<circle cx="378.10" cy="540.56" r="0.85" fill="#0e5897"/>
<circle cx="378.77" cy="534.65" r="0.85" fill="#0e5897"/>
<circle cx="378.69" cy="531.34" r="0.85" fill="#0e5897"/>
<circle cx="379.49" cy="516.03" r="0.85" fill="#0e5897"/>
<circle cx="378.78" cy="560.32" r="0.85" fill="#0e5897"/>
<circle cx="378.40" cy="551.54" r="0.85" fill="#0e5897"/>
<circle cx="379.02" cy="523.99" r="0.85" fill="#0e5897"/>
<circle cx="380.40" cy="540.39" r="0.85" fill="#0e5897"/>
<circle cx="378.42" cy="550.16" r="0.85" fill="#0e5897"/>
<circle cx="379.19" cy="513.49" r="0.85" fill="#0e5897"/>
<circle cx="378.52" cy="514.88" r="0.85" fill="#0e5897"/>
<circle cx="375.49" cy="563.36" r="0.85" fill="#0e5897"/>
<circle cx="377.02" cy="532.70" r="0.85" fill="#0e5897"/>
<circle cx="376.99" cy="544.56" r="0.85" fill="#0e5897"/>
<circle cx="376.31" cy="532.15" r="0.85" fill="#0e5897"/>
<circle cx="377.42" cy="533.96" r="0.85" fill="#0e5897"/>
<circle cx="375.77" cy="538.95" r="0.85" fill="#0e5897"/>
<circle cx="378.70" cy="547.89" r="0.85" fill="#0e5897"/>
<circle cx="377.54" cy="523.46" r="0.85" fill="#0e5897"/>
<circle cx="380.08" cy="537.88" r="0.85" fill="#0e5897"/>
<circle cx="378.86" cy="544.29" r="0.85" fill="#0e5897"/>
<circle cx="376.48" cy="548.73" r="0.85" fill="#0e5897"/>
<circle cx="378.00" cy="536.08" r="0.85" fill="#0e5897"/>
<circle cx="378.38" cy="561.70" r="0.85" fill="#0e5897"/>
<circle cx="377.33" cy="550.84" r="0.85" fill="#0e5897"/>
<circle cx="377.79" cy="558.43" r="0.85" fill="#0e5897"/>
<circle cx="376.75" cy="555.93" r="0.85" fill="#0e5897"/>
<circle cx="377.26" cy="530.20" r="0.85" fill="#0e5897"/>
<circle cx="378.71" cy="538.89" r="0.85" fill="#0e5897"/>
<circle cx="377.83" cy="540.72" r="0.85" fill="#0e5897"/>
<circle cx="380.04" cy="564.76" r="0.85" fill="#0e5897"/>
<circle cx="375.27" cy="557.39" r="0.85" fill="#0e5897"/>
<circle cx="377.17" cy="543.94" r="0.85" fill="#0e5897"/>
<circle cx="377.77" cy="535.33" r="0.85" fill="#0e5897"/>
<circle cx="380.42" cy="530.70" r="0.85" fill="#0e5897"/>
<circle cx="379.90" cy="552.14" r="0.85" fill="#0e5897"/>
<circle cx="379.39" cy="537.17" r="0.85" fill="#0e5897"/>
<line x1="378.20" y1="541.95" x2="378.20" y2="546.07" stroke="#1c3550" stroke-width="0.7"/>
<line x1="376.20" y1="541.95" x2="380.20" y2="541.95" stroke="#1c3550" stroke-width="0.7"/>
<line x1="376.20" y1="546.07" x2="380.20" y2="546.07" stroke="#1c3550" stroke-width="0.7"/>
<circle cx="393.09" cy="565.23" r="0.85" fill="#983634"/>
<circle cx="394.61" cy="522.21" r="0.85" fill="#983634"/>
<circle cx="389.38" cy="528.34" r="0.85" fill="#983634"/>
<circle cx="392.41" cy="543.65" r="0.85" fill="#983634"/>
<circle cx="393.92" cy="552.09" r="0.85" fill="#983634"/>
<circle cx="394.43" cy="546.24" r="0.85" fill="#983634"/>
<circle cx="392.35" cy="534.93" r="0.85" fill="#983634"/>
<circle cx="392.14" cy="530.26" r="0.85" fill="#983634"/>
<circle cx="391.31" cy="544.59" r="0.85" fill="#983634"/>
<circle cx="391.92" cy="548.35" r="0.85" fill="#983634"/>
<circle cx="391.17" cy="528.32" r="0.85" fill="#983634"/>
<circle cx="389.38" cy="560.88" r="0.85" fill="#983634"/>
<circle cx="391.56" cy="543.10" r="0.85" fill="#983634"/>
<circle cx="390.96" cy="550.39" r="0.85" fill="#983634"/>
<circle cx="391.54" cy="565.18" r="0.85" fill="#983634"/>
<circle cx="391.75" cy="540.86" r="0.85" fill="#983634"/>
<circle cx="391.70" cy="558.73" r="0.85" fill="#983634"/>
<circle cx="392.54" cy="536.54" r="0.85" fill="#983634"/>
<circle cx="392.30" cy="542.47" r="0.85" fill="#983634"/>
<circle cx="391.88" cy="534.05" r="0.85" fill="#983634"/>
<circle cx="391.51" cy="535.94" r="0.85" fill="#983634"/>
<circle cx="392.25" cy="531.26" r="0.85" fill="#983634"/>
<circle cx="391.95" cy="547.76" r="0.85" fill="#983634"/>
<circle cx="392.21" cy="552.36" r="0.85" fill="#983634"/>
<circle cx="394.37" cy="542.82" r="0.85" fill="#983634"/>
<circle cx="392.74" cy="544.33" r="0.85" fill="#983634"/>
<circle cx="391.83" cy="542.27" r="0.85" fill="#983634"/>
<circle cx="389.47" cy="548.62" r="0.85" fill="#983634"/>
<circle cx="390.32" cy="540.74" r="0.85" fill="#983634"/>
<circle cx="389.38" cy="538.44" r="0.85" fill="#983634"/>
<circle cx="393.66" cy="551.61" r="0.85" fill="#983634"/>
<circle cx="393.97" cy="551.57" r="0.85" fill="#983634"/>
<circle cx="391.82" cy="540.04" r="0.85" fill="#983634"/>
<circle cx="391.73" cy="543.89" r="0.85" fill="#983634"/>
<circle cx="393.08" cy="558.37" r="0.85" fill="#983634"/>
<circle cx="393.22" cy="541.28" r="0.85" fill="#983634"/>
<circle cx="389.91" cy="538.36" r="0.85" fill="#983634"/>
<circle cx="392.03" cy="541.58" r="0.85" fill="#983634"/>
<circle cx="391.95" cy="544.54" r="0.85" fill="#983634"/>
<circle cx="390.60" cy="556.76" r="0.85" fill="#983634"/>
<circle cx="394.42" cy="532.06" r="0.85" fill="#983634"/>
<circle cx="393.47" cy="539.74" r="0.85" fill="#983634"/>
<circle cx="391.53" cy="536.47" r="0.85" fill="#983634"/>
<circle cx="392.33" cy="540.74" r="0.85" fill="#983634"/>
<circle cx="391.61" cy="550.21" r="0.85" fill="#983634"/>
<circle cx="391.67" cy="535.15" r="0.85" fill="#983634"/>
<circle cx="391.83" cy="546.23" r="0.85" fill="#983634"/>
<circle cx="393.86" cy="548.84" r="0.85" fill="#983634"/>
<circle cx="392.41" cy="547.99" r="0.85" fill="#983634"/>
<circle cx="391.72" cy="523.97" r="0.85" fill="#983634"/>
<circle cx="391.42" cy="523.54" r="0.85" fill="#983634"/>
<circle cx="392.77" cy="559.19" r="0.85" fill="#983634"/>
<circle cx="391.15" cy="537.87" r="0.85" fill="#983634"/>
<circle cx="390.09" cy="531.37" r="0.85" fill="#983634"/>
<circle cx="392.20" cy="538.58" r="0.85" fill="#983634"/>
<circle cx="394.67" cy="560.34" r="0.85" fill="#983634"/>
<circle cx="391.42" cy="529.98" r="0.85" fill="#983634"/>
<circle cx="392.62" cy="549.03" r="0.85" fill="#983634"/>
<circle cx="392.12" cy="529.57" r="0.85" fill="#983634"/>
<line x1="392.40" y1="541.89" x2="392.40" y2="544.69" stroke="#4a2020" stroke-width="0.7"/>
<line x1="390.40" y1="541.89" x2="394.40" y2="541.89" stroke="#4a2020" stroke-width="0.7"/>
<line x1="390.40" y1="544.69" x2="394.40" y2="544.69" stroke="#4a2020" stroke-width="0.7"/>
<line x1="330.70" y1="500.70" x2="330.70" y2="572.40" stroke="#5a5a5a" stroke-width="0.75"/>
<line x1="330.70" y1="572.40" x2="402.20" y2="572.40" stroke="#5a5a5a" stroke-width="0.75"/>
<line x1="327.70" y1="572.40" x2="330.70" y2="572.40" stroke="#5a5a5a" stroke-width="0.75"/>
<text x="324.40" y="575.25" font-size="8.2" text-anchor="end" textLength="4.40" lengthAdjust="spacingAndGlyphs" stroke="#231f20" stroke-width="0.13">0</text>
<line x1="327.70" y1="558.06" x2="330.70" y2="558.06" stroke="#5a5a5a" stroke-width="0.75"/>
<text x="324.40" y="560.91" font-size="8.2" text-anchor="end" textLength="9.40" lengthAdjust="spacingAndGlyphs" stroke="#231f20" stroke-width="0.13">0.1</text>
<line x1="327.70" y1="543.72" x2="330.70" y2="543.72" stroke="#5a5a5a" stroke-width="0.75"/>
<text x="324.40" y="546.57" font-size="8.2" text-anchor="end" textLength="10.80" lengthAdjust="spacingAndGlyphs" stroke="#231f20" stroke-width="0.13">0.2</text>
<line x1="327.70" y1="529.38" x2="330.70" y2="529.38" stroke="#5a5a5a" stroke-width="0.75"/>
<text x="324.40" y="532.23" font-size="8.2" text-anchor="end" textLength="10.80" lengthAdjust="spacingAndGlyphs" stroke="#231f20" stroke-width="0.13">0.3</text>
<line x1="327.70" y1="515.04" x2="330.70" y2="515.04" stroke="#5a5a5a" stroke-width="0.75"/>
<text x="324.40" y="517.89" font-size="8.2" text-anchor="end" textLength="10.80" lengthAdjust="spacingAndGlyphs" stroke="#231f20" stroke-width="0.13">0.4</text>
<line x1="327.70" y1="500.70" x2="330.70" y2="500.70" stroke="#5a5a5a" stroke-width="0.75"/>
<text x="324.40" y="503.55" font-size="8.2" text-anchor="end" textLength="10.80" lengthAdjust="spacingAndGlyphs" stroke="#231f20" stroke-width="0.13">0.5</text>
<line x1="366.40" y1="500.20" x2="366.40" y2="572.40" stroke="#2a2a2a" stroke-width="0.9" stroke-dasharray="3.1,2.3"/>
<text x="347.40" y="584.20" font-size="9.1" text-anchor="middle" textLength="25.50" lengthAdjust="spacingAndGlyphs" stroke="#231f20" stroke-width="0.13">Young</text>
<text x="386.50" y="584.20" font-size="9.1" text-anchor="middle" textLength="21.50" lengthAdjust="spacingAndGlyphs" stroke="#231f20" stroke-width="0.13">Aged</text>
<text x="0" y="0" font-size="8.6" text-anchor="middle" stroke="#231f20" stroke-width="0.13" transform="translate(303.50 535.70) rotate(-90) scale(0.9731 1)"><tspan font-size="8.6" dy="0">Gain (Hz pA</tspan><tspan font-size="5.8" dy="-3.2">−1</tspan><tspan font-size="8.6" dy="3.2">)</tspan></text>
<text x="297.30" y="488.50" font-size="12" font-weight="bold" fill="#000" stroke="#000" stroke-width="0.45">q</text>
<rect x="468.05" y="548.93" width="8.00" height="25.07" fill="#84c9ff" stroke="#3f5d78" stroke-width="0.7"/>
<rect x="482.65" y="554.54" width="7.70" height="19.46" fill="#ffb8b6" stroke="#8a5a58" stroke-width="0.7"/>
<rect x="506.35" y="544.95" width="7.70" height="29.05" fill="#84c9ff" stroke="#3f5d78" stroke-width="0.7"/>
<rect x="520.55" y="552.43" width="7.70" height="21.57" fill="#ffb8b6" stroke="#8a5a58" stroke-width="0.7"/>
<circle cx="472.99" cy="569.21" r="0.85" fill="#0e5897"/>
<circle cx="472.56" cy="516.48" r="0.85" fill="#0e5897"/>
<circle cx="471.84" cy="532.16" r="0.85" fill="#0e5897"/>
<circle cx="473.48" cy="542.43" r="0.85" fill="#0e5897"/>
<circle cx="473.86" cy="530.50" r="0.85" fill="#0e5897"/>
<circle cx="471.79" cy="551.49" r="0.85" fill="#0e5897"/>
<circle cx="471.92" cy="552.48" r="0.85" fill="#0e5897"/>
<circle cx="471.06" cy="557.02" r="0.85" fill="#0e5897"/>
<circle cx="468.92" cy="557.43" r="0.85" fill="#0e5897"/>
<circle cx="470.84" cy="553.22" r="0.85" fill="#0e5897"/>
<circle cx="472.68" cy="543.62" r="0.85" fill="#0e5897"/>
<circle cx="468.92" cy="542.37" r="0.85" fill="#0e5897"/>
<circle cx="470.57" cy="539.94" r="0.85" fill="#0e5897"/>
<circle cx="471.94" cy="534.84" r="0.85" fill="#0e5897"/>
<circle cx="473.30" cy="551.43" r="0.85" fill="#0e5897"/>
<circle cx="472.83" cy="558.43" r="0.85" fill="#0e5897"/>
<circle cx="473.98" cy="533.68" r="0.85" fill="#0e5897"/>
<circle cx="470.93" cy="539.61" r="0.85" fill="#0e5897"/>
<circle cx="472.27" cy="538.15" r="0.85" fill="#0e5897"/>
<circle cx="471.75" cy="558.54" r="0.85" fill="#0e5897"/>
<circle cx="472.30" cy="564.21" r="0.85" fill="#0e5897"/>
<circle cx="470.44" cy="554.68" r="0.85" fill="#0e5897"/>
<circle cx="475.18" cy="549.43" r="0.85" fill="#0e5897"/>
<circle cx="471.02" cy="527.12" r="0.85" fill="#0e5897"/>
<circle cx="471.43" cy="535.95" r="0.85" fill="#0e5897"/>
<circle cx="473.33" cy="554.41" r="0.85" fill="#0e5897"/>
<circle cx="471.51" cy="530.17" r="0.85" fill="#0e5897"/>
<circle cx="472.05" cy="541.48" r="0.85" fill="#0e5897"/>
<circle cx="472.45" cy="543.87" r="0.85" fill="#0e5897"/>
<circle cx="472.65" cy="539.19" r="0.85" fill="#0e5897"/>
<circle cx="472.83" cy="558.65" r="0.85" fill="#0e5897"/>
<circle cx="472.43" cy="546.12" r="0.85" fill="#0e5897"/>
<circle cx="475.03" cy="540.68" r="0.85" fill="#0e5897"/>
<circle cx="471.95" cy="523.57" r="0.85" fill="#0e5897"/>
<line x1="472.05" y1="546.67" x2="472.05" y2="551.19" stroke="#1c3550" stroke-width="0.7"/>
<line x1="470.05" y1="546.67" x2="474.05" y2="546.67" stroke="#1c3550" stroke-width="0.7"/>
<line x1="470.05" y1="551.19" x2="474.05" y2="551.19" stroke="#1c3550" stroke-width="0.7"/>
<circle cx="486.99" cy="569.21" r="0.85" fill="#983634"/>
<circle cx="486.28" cy="516.48" r="0.85" fill="#983634"/>
<circle cx="486.83" cy="547.92" r="0.85" fill="#983634"/>
<circle cx="485.33" cy="558.36" r="0.85" fill="#983634"/>
<circle cx="487.42" cy="540.16" r="0.85" fill="#983634"/>
<circle cx="487.55" cy="566.43" r="0.85" fill="#983634"/>
<circle cx="486.38" cy="549.98" r="0.85" fill="#983634"/>
<circle cx="486.43" cy="561.59" r="0.85" fill="#983634"/>
<circle cx="484.12" cy="569.06" r="0.85" fill="#983634"/>
<circle cx="487.28" cy="558.85" r="0.85" fill="#983634"/>
<circle cx="484.75" cy="559.57" r="0.85" fill="#983634"/>
<circle cx="486.55" cy="558.85" r="0.85" fill="#983634"/>
<circle cx="485.41" cy="558.20" r="0.85" fill="#983634"/>
<circle cx="489.52" cy="558.63" r="0.85" fill="#983634"/>
<circle cx="486.52" cy="548.73" r="0.85" fill="#983634"/>
<circle cx="488.66" cy="555.57" r="0.85" fill="#983634"/>
<circle cx="486.47" cy="562.80" r="0.85" fill="#983634"/>
<circle cx="486.46" cy="556.92" r="0.85" fill="#983634"/>
<circle cx="487.55" cy="549.77" r="0.85" fill="#983634"/>
<circle cx="486.48" cy="550.24" r="0.85" fill="#983634"/>
<circle cx="489.52" cy="530.96" r="0.85" fill="#983634"/>
<circle cx="486.27" cy="533.98" r="0.85" fill="#983634"/>
<circle cx="488.78" cy="535.10" r="0.85" fill="#983634"/>
<circle cx="484.86" cy="550.03" r="0.85" fill="#983634"/>
<circle cx="485.26" cy="542.81" r="0.85" fill="#983634"/>
<circle cx="487.43" cy="559.78" r="0.85" fill="#983634"/>
<circle cx="484.61" cy="547.77" r="0.85" fill="#983634"/>
<circle cx="489.26" cy="544.43" r="0.85" fill="#983634"/>
<circle cx="487.26" cy="552.48" r="0.85" fill="#983634"/>
<circle cx="486.64" cy="556.91" r="0.85" fill="#983634"/>
<circle cx="488.99" cy="558.36" r="0.85" fill="#983634"/>
<circle cx="485.80" cy="555.58" r="0.85" fill="#983634"/>
<circle cx="485.48" cy="536.77" r="0.85" fill="#983634"/>
<circle cx="483.48" cy="556.72" r="0.85" fill="#983634"/>
<line x1="486.50" y1="552.28" x2="486.50" y2="556.80" stroke="#4a2020" stroke-width="0.7"/>
<line x1="484.50" y1="552.28" x2="488.50" y2="552.28" stroke="#4a2020" stroke-width="0.7"/>
<line x1="484.50" y1="556.80" x2="488.50" y2="556.80" stroke="#4a2020" stroke-width="0.7"/>
<circle cx="510.04" cy="569.21" r="0.85" fill="#0e5897"/>
<circle cx="511.51" cy="506.89" r="0.85" fill="#0e5897"/>
<circle cx="508.68" cy="539.22" r="0.85" fill="#0e5897"/>
<circle cx="510.48" cy="554.61" r="0.85" fill="#0e5897"/>
<circle cx="509.69" cy="541.89" r="0.85" fill="#0e5897"/>
<circle cx="510.18" cy="541.96" r="0.85" fill="#0e5897"/>
<circle cx="509.58" cy="555.42" r="0.85" fill="#0e5897"/>
<circle cx="509.23" cy="551.00" r="0.85" fill="#0e5897"/>
<circle cx="509.84" cy="515.50" r="0.85" fill="#0e5897"/>
<circle cx="510.75" cy="541.57" r="0.85" fill="#0e5897"/>
<circle cx="509.81" cy="550.17" r="0.85" fill="#0e5897"/>
<circle cx="508.61" cy="554.51" r="0.85" fill="#0e5897"/>
<circle cx="510.47" cy="515.64" r="0.85" fill="#0e5897"/>
<circle cx="509.81" cy="563.57" r="0.85" fill="#0e5897"/>
<circle cx="510.54" cy="545.60" r="0.85" fill="#0e5897"/>
<circle cx="508.28" cy="529.62" r="0.85" fill="#0e5897"/>
<circle cx="507.18" cy="542.23" r="0.85" fill="#0e5897"/>
<circle cx="508.24" cy="543.27" r="0.85" fill="#0e5897"/>
<circle cx="512.54" cy="522.83" r="0.85" fill="#0e5897"/>
<circle cx="509.60" cy="555.73" r="0.85" fill="#0e5897"/>
<circle cx="511.17" cy="540.89" r="0.85" fill="#0e5897"/>
<circle cx="507.18" cy="535.78" r="0.85" fill="#0e5897"/>
<circle cx="511.28" cy="554.35" r="0.85" fill="#0e5897"/>
<circle cx="510.57" cy="552.01" r="0.85" fill="#0e5897"/>
<circle cx="508.21" cy="564.45" r="0.85" fill="#0e5897"/>
<circle cx="511.72" cy="544.69" r="0.85" fill="#0e5897"/>
<circle cx="510.59" cy="529.54" r="0.85" fill="#0e5897"/>
<circle cx="510.71" cy="515.80" r="0.85" fill="#0e5897"/>
<circle cx="510.25" cy="512.87" r="0.85" fill="#0e5897"/>
<circle cx="509.44" cy="537.81" r="0.85" fill="#0e5897"/>
<circle cx="510.95" cy="534.57" r="0.85" fill="#0e5897"/>
<circle cx="511.56" cy="551.54" r="0.85" fill="#0e5897"/>
<circle cx="511.24" cy="552.43" r="0.85" fill="#0e5897"/>
<circle cx="510.86" cy="519.50" r="0.85" fill="#0e5897"/>
<circle cx="507.18" cy="537.60" r="0.85" fill="#0e5897"/>
<circle cx="511.50" cy="561.00" r="0.85" fill="#0e5897"/>
<circle cx="509.44" cy="537.58" r="0.85" fill="#0e5897"/>
<circle cx="511.80" cy="550.01" r="0.85" fill="#0e5897"/>
<circle cx="513.22" cy="552.57" r="0.85" fill="#0e5897"/>
<circle cx="509.04" cy="550.87" r="0.85" fill="#0e5897"/>
<circle cx="510.81" cy="554.05" r="0.85" fill="#0e5897"/>
<circle cx="511.02" cy="548.27" r="0.85" fill="#0e5897"/>
<circle cx="508.57" cy="546.61" r="0.85" fill="#0e5897"/>
<circle cx="512.32" cy="544.20" r="0.85" fill="#0e5897"/>
<circle cx="509.55" cy="541.69" r="0.85" fill="#0e5897"/>
<circle cx="510.98" cy="538.86" r="0.85" fill="#0e5897"/>
<circle cx="509.93" cy="516.27" r="0.85" fill="#0e5897"/>
<circle cx="511.87" cy="545.04" r="0.85" fill="#0e5897"/>
<circle cx="509.58" cy="531.28" r="0.85" fill="#0e5897"/>
<circle cx="509.80" cy="533.34" r="0.85" fill="#0e5897"/>
<circle cx="509.06" cy="544.59" r="0.85" fill="#0e5897"/>
<circle cx="510.24" cy="549.09" r="0.85" fill="#0e5897"/>
<circle cx="511.40" cy="544.23" r="0.85" fill="#0e5897"/>
<circle cx="511.95" cy="535.65" r="0.85" fill="#0e5897"/>
<circle cx="513.22" cy="531.08" r="0.85" fill="#0e5897"/>
<circle cx="510.98" cy="550.35" r="0.85" fill="#0e5897"/>
<line x1="510.20" y1="542.87" x2="510.20" y2="547.03" stroke="#1c3550" stroke-width="0.7"/>
<line x1="508.20" y1="542.87" x2="512.20" y2="542.87" stroke="#1c3550" stroke-width="0.7"/>
<line x1="508.20" y1="547.03" x2="512.20" y2="547.03" stroke="#1c3550" stroke-width="0.7"/>
<circle cx="522.58" cy="569.21" r="0.85" fill="#983634"/>
<circle cx="525.03" cy="518.88" r="0.85" fill="#983634"/>
<circle cx="524.50" cy="548.17" r="0.85" fill="#983634"/>
<circle cx="522.61" cy="558.45" r="0.85" fill="#983634"/>
<circle cx="525.26" cy="557.42" r="0.85" fill="#983634"/>
<circle cx="526.43" cy="531.96" r="0.85" fill="#983634"/>
<circle cx="524.58" cy="559.06" r="0.85" fill="#983634"/>
<circle cx="525.41" cy="535.73" r="0.85" fill="#983634"/>
<circle cx="525.16" cy="520.64" r="0.85" fill="#983634"/>
<circle cx="526.62" cy="528.46" r="0.85" fill="#983634"/>
<circle cx="525.00" cy="536.18" r="0.85" fill="#983634"/>
<circle cx="525.60" cy="552.13" r="0.85" fill="#983634"/>
<circle cx="522.26" cy="543.76" r="0.85" fill="#983634"/>
<circle cx="523.93" cy="566.72" r="0.85" fill="#983634"/>
<circle cx="525.37" cy="555.50" r="0.85" fill="#983634"/>
<circle cx="526.96" cy="555.33" r="0.85" fill="#983634"/>
<circle cx="523.79" cy="564.08" r="0.85" fill="#983634"/>
<circle cx="525.85" cy="543.29" r="0.85" fill="#983634"/>
<circle cx="524.11" cy="556.33" r="0.85" fill="#983634"/>
<circle cx="525.96" cy="543.92" r="0.85" fill="#983634"/>
<circle cx="522.93" cy="520.27" r="0.85" fill="#983634"/>
<circle cx="524.78" cy="544.00" r="0.85" fill="#983634"/>
<circle cx="522.73" cy="554.31" r="0.85" fill="#983634"/>
<circle cx="524.76" cy="545.26" r="0.85" fill="#983634"/>
<circle cx="522.76" cy="544.77" r="0.85" fill="#983634"/>
<circle cx="524.17" cy="520.96" r="0.85" fill="#983634"/>
<circle cx="526.01" cy="551.74" r="0.85" fill="#983634"/>
<circle cx="526.47" cy="544.77" r="0.85" fill="#983634"/>
<circle cx="524.94" cy="555.62" r="0.85" fill="#983634"/>
<circle cx="523.94" cy="551.34" r="0.85" fill="#983634"/>
<circle cx="525.18" cy="539.39" r="0.85" fill="#983634"/>
<circle cx="524.86" cy="565.32" r="0.85" fill="#983634"/>
<circle cx="522.72" cy="558.65" r="0.85" fill="#983634"/>
<circle cx="523.09" cy="533.18" r="0.85" fill="#983634"/>
<circle cx="527.36" cy="558.71" r="0.85" fill="#983634"/>
<circle cx="525.79" cy="560.03" r="0.85" fill="#983634"/>
<circle cx="523.83" cy="550.19" r="0.85" fill="#983634"/>
<circle cx="524.37" cy="552.53" r="0.85" fill="#983634"/>
<circle cx="524.39" cy="560.74" r="0.85" fill="#983634"/>
<circle cx="521.77" cy="532.46" r="0.85" fill="#983634"/>
<circle cx="527.42" cy="565.91" r="0.85" fill="#983634"/>
<circle cx="521.38" cy="551.93" r="0.85" fill="#983634"/>
<circle cx="524.11" cy="555.59" r="0.85" fill="#983634"/>
<circle cx="524.66" cy="557.66" r="0.85" fill="#983634"/>
<circle cx="524.45" cy="548.44" r="0.85" fill="#983634"/>
<circle cx="524.92" cy="546.07" r="0.85" fill="#983634"/>
<circle cx="524.61" cy="561.74" r="0.85" fill="#983634"/>
<circle cx="524.54" cy="567.23" r="0.85" fill="#983634"/>
<circle cx="521.38" cy="550.27" r="0.85" fill="#983634"/>
<circle cx="524.54" cy="553.44" r="0.85" fill="#983634"/>
<circle cx="522.46" cy="547.78" r="0.85" fill="#983634"/>
<circle cx="523.37" cy="564.91" r="0.85" fill="#983634"/>
<circle cx="525.35" cy="536.09" r="0.85" fill="#983634"/>
<circle cx="525.38" cy="558.00" r="0.85" fill="#983634"/>
<circle cx="525.45" cy="546.89" r="0.85" fill="#983634"/>
<circle cx="526.28" cy="557.61" r="0.85" fill="#983634"/>
<circle cx="526.20" cy="564.07" r="0.85" fill="#983634"/>
<circle cx="523.05" cy="541.96" r="0.85" fill="#983634"/>
<circle cx="524.07" cy="526.30" r="0.85" fill="#983634"/>
<line x1="524.40" y1="550.79" x2="524.40" y2="554.07" stroke="#4a2020" stroke-width="0.7"/>
<line x1="522.40" y1="550.79" x2="526.40" y2="550.79" stroke="#4a2020" stroke-width="0.7"/>
<line x1="522.40" y1="554.07" x2="526.40" y2="554.07" stroke="#4a2020" stroke-width="0.7"/>
<line x1="462.40" y1="502.10" x2="462.40" y2="574.00" stroke="#5a5a5a" stroke-width="0.75"/>
<line x1="462.40" y1="574.00" x2="533.70" y2="574.00" stroke="#5a5a5a" stroke-width="0.75"/>
<line x1="459.40" y1="574.00" x2="462.40" y2="574.00" stroke="#5a5a5a" stroke-width="0.75"/>
<text x="455.30" y="576.85" font-size="8.2" text-anchor="end" textLength="4.40" lengthAdjust="spacingAndGlyphs" stroke="#231f20" stroke-width="0.13">0</text>
<line x1="459.40" y1="550.03" x2="462.40" y2="550.03" stroke="#5a5a5a" stroke-width="0.75"/>
<text x="455.30" y="552.88" font-size="8.2" text-anchor="end" textLength="8.80" lengthAdjust="spacingAndGlyphs" stroke="#231f20" stroke-width="0.13">50</text>
<line x1="459.40" y1="526.07" x2="462.40" y2="526.07" stroke="#5a5a5a" stroke-width="0.75"/>
<text x="455.30" y="528.92" font-size="8.2" text-anchor="end" textLength="11.80" lengthAdjust="spacingAndGlyphs" stroke="#231f20" stroke-width="0.13">100</text>
<line x1="459.40" y1="502.10" x2="462.40" y2="502.10" stroke="#5a5a5a" stroke-width="0.75"/>
<text x="455.30" y="504.95" font-size="8.2" text-anchor="end" textLength="11.80" lengthAdjust="spacingAndGlyphs" stroke="#231f20" stroke-width="0.13">150</text>
<line x1="498.40" y1="501.60" x2="498.40" y2="574.00" stroke="#2a2a2a" stroke-width="0.9" stroke-dasharray="3.1,2.3"/>
<text x="479.20" y="585.60" font-size="9.1" text-anchor="middle" textLength="25.50" lengthAdjust="spacingAndGlyphs" stroke="#231f20" stroke-width="0.13">Young</text>
<text x="517.60" y="585.60" font-size="9.1" text-anchor="middle" textLength="21.50" lengthAdjust="spacingAndGlyphs" stroke="#231f20" stroke-width="0.13">Aged</text>
<text x="0" y="0" font-size="8.6" text-anchor="middle" stroke="#231f20" stroke-width="0.13" transform="translate(435.00 538.40) rotate(-90) scale(0.9992 1)"><tspan font-size="8.6" dy="0">Rheobase (pA)</tspan></text>
<path d="M471.90,503.20 L471.90,499.10 L486.40,499.10 L486.40,503.20" stroke="#333" stroke-width="0.7" fill="none"/>
<text x="479.80" y="494.30" font-size="8.3" text-anchor="middle" textLength="25.60" lengthAdjust="spacingAndGlyphs" stroke="#231f20" stroke-width="0.13">0.0272</text>
<path d="M510.20,503.20 L510.20,499.60 L524.40,499.60 L524.40,503.20" stroke="#333" stroke-width="0.7" fill="none"/>
<text x="517.60" y="495.50" font-size="8.3" text-anchor="middle" textLength="25.60" lengthAdjust="spacingAndGlyphs" stroke="#231f20" stroke-width="0.13">0.0077</text>
<text x="428.00" y="486.70" font-size="12" font-weight="bold" fill="#000" stroke="#000" stroke-width="0.45">r</text>
<rect x="597.35" y="533.06" width="7.50" height="40.14" fill="#84c9ff" stroke="#3f5d78" stroke-width="0.7"/>
<rect x="611.25" y="539.10" width="7.60" height="34.10" fill="#ffb8b6" stroke="#8a5a58" stroke-width="0.7"/>
<rect x="634.75" y="539.10" width="7.50" height="34.10" fill="#84c9ff" stroke="#3f5d78" stroke-width="0.7"/>
<rect x="648.75" y="542.81" width="7.40" height="30.39" fill="#ffb8b6" stroke="#8a5a58" stroke-width="0.7"/>
<circle cx="602.47" cy="551.16" r="0.85" fill="#0e5897"/>
<circle cx="601.55" cy="508.24" r="0.85" fill="#0e5897"/>
<circle cx="599.58" cy="521.42" r="0.85" fill="#0e5897"/>
<circle cx="602.32" cy="508.83" r="0.85" fill="#0e5897"/>
<circle cx="602.18" cy="513.41" r="0.85" fill="#0e5897"/>
<circle cx="599.20" cy="532.21" r="0.85" fill="#0e5897"/>
<circle cx="602.97" cy="527.77" r="0.85" fill="#0e5897"/>
<circle cx="603.16" cy="533.07" r="0.85" fill="#0e5897"/>
<circle cx="600.10" cy="534.13" r="0.85" fill="#0e5897"/>
<circle cx="601.01" cy="514.34" r="0.85" fill="#0e5897"/>
<circle cx="601.49" cy="527.57" r="0.85" fill="#0e5897"/>
<circle cx="603.74" cy="530.36" r="0.85" fill="#0e5897"/>
<circle cx="599.03" cy="517.02" r="0.85" fill="#0e5897"/>
<circle cx="601.99" cy="531.61" r="0.85" fill="#0e5897"/>
<circle cx="602.48" cy="524.95" r="0.85" fill="#0e5897"/>
<circle cx="598.15" cy="528.67" r="0.85" fill="#0e5897"/>
<circle cx="601.56" cy="523.74" r="0.85" fill="#0e5897"/>
<circle cx="601.58" cy="537.44" r="0.85" fill="#0e5897"/>
<circle cx="601.23" cy="524.76" r="0.85" fill="#0e5897"/>
<circle cx="602.11" cy="533.32" r="0.85" fill="#0e5897"/>
<circle cx="599.59" cy="545.14" r="0.85" fill="#0e5897"/>
<circle cx="598.75" cy="510.90" r="0.85" fill="#0e5897"/>
<circle cx="601.67" cy="534.20" r="0.85" fill="#0e5897"/>
<circle cx="599.32" cy="538.83" r="0.85" fill="#0e5897"/>
<circle cx="599.92" cy="530.19" r="0.85" fill="#0e5897"/>
<circle cx="601.08" cy="531.05" r="0.85" fill="#0e5897"/>
<circle cx="601.69" cy="530.98" r="0.85" fill="#0e5897"/>
<circle cx="602.35" cy="539.94" r="0.85" fill="#0e5897"/>
<circle cx="601.17" cy="510.47" r="0.85" fill="#0e5897"/>
<circle cx="600.29" cy="528.16" r="0.85" fill="#0e5897"/>
<circle cx="600.01" cy="537.80" r="0.85" fill="#0e5897"/>
<circle cx="599.99" cy="539.52" r="0.85" fill="#0e5897"/>
<circle cx="602.68" cy="518.96" r="0.85" fill="#0e5897"/>
<circle cx="600.58" cy="519.12" r="0.85" fill="#0e5897"/>
<line x1="601.10" y1="531.22" x2="601.10" y2="534.90" stroke="#1c3550" stroke-width="0.7"/>
<line x1="599.10" y1="531.22" x2="603.10" y2="531.22" stroke="#1c3550" stroke-width="0.7"/>
<line x1="599.10" y1="534.90" x2="603.10" y2="534.90" stroke="#1c3550" stroke-width="0.7"/>
<circle cx="615.67" cy="556.96" r="0.85" fill="#983634"/>
<circle cx="615.82" cy="518.68" r="0.85" fill="#983634"/>
<circle cx="615.87" cy="547.34" r="0.85" fill="#983634"/>
<circle cx="615.55" cy="534.87" r="0.85" fill="#983634"/>
<circle cx="615.05" cy="551.92" r="0.85" fill="#983634"/>
<circle cx="616.94" cy="531.34" r="0.85" fill="#983634"/>
<circle cx="613.95" cy="544.99" r="0.85" fill="#983634"/>
<circle cx="615.19" cy="547.41" r="0.85" fill="#983634"/>
<circle cx="614.42" cy="534.12" r="0.85" fill="#983634"/>
<circle cx="614.47" cy="530.82" r="0.85" fill="#983634"/>
<circle cx="614.29" cy="544.13" r="0.85" fill="#983634"/>
<circle cx="613.94" cy="546.95" r="0.85" fill="#983634"/>
<circle cx="612.80" cy="545.17" r="0.85" fill="#983634"/>
<circle cx="614.74" cy="550.37" r="0.85" fill="#983634"/>
<circle cx="613.33" cy="539.50" r="0.85" fill="#983634"/>
<circle cx="615.81" cy="542.12" r="0.85" fill="#983634"/>
<circle cx="614.37" cy="545.96" r="0.85" fill="#983634"/>
<circle cx="616.61" cy="553.20" r="0.85" fill="#983634"/>
<circle cx="617.41" cy="527.45" r="0.85" fill="#983634"/>
<circle cx="616.43" cy="546.11" r="0.85" fill="#983634"/>
<circle cx="615.55" cy="541.27" r="0.85" fill="#983634"/>
<circle cx="612.52" cy="538.95" r="0.85" fill="#983634"/>
<circle cx="616.44" cy="539.69" r="0.85" fill="#983634"/>
<circle cx="613.78" cy="531.86" r="0.85" fill="#983634"/>
<circle cx="616.37" cy="543.78" r="0.85" fill="#983634"/>
<circle cx="613.44" cy="546.06" r="0.85" fill="#983634"/>
<circle cx="615.04" cy="542.26" r="0.85" fill="#983634"/>
<circle cx="613.49" cy="535.68" r="0.85" fill="#983634"/>
<circle cx="615.31" cy="533.26" r="0.85" fill="#983634"/>
<circle cx="613.81" cy="533.87" r="0.85" fill="#983634"/>
<circle cx="614.20" cy="529.87" r="0.85" fill="#983634"/>
<circle cx="612.21" cy="545.86" r="0.85" fill="#983634"/>
<circle cx="616.54" cy="528.25" r="0.85" fill="#983634"/>
<circle cx="616.10" cy="543.35" r="0.85" fill="#983634"/>
<line x1="615.05" y1="537.45" x2="615.05" y2="540.74" stroke="#4a2020" stroke-width="0.7"/>
<line x1="613.05" y1="537.45" x2="617.05" y2="537.45" stroke="#4a2020" stroke-width="0.7"/>
<line x1="613.05" y1="540.74" x2="617.05" y2="540.74" stroke="#4a2020" stroke-width="0.7"/>
<circle cx="635.82" cy="561.60" r="0.85" fill="#0e5897"/>
<circle cx="638.37" cy="509.40" r="0.85" fill="#0e5897"/>
<circle cx="638.62" cy="540.06" r="0.85" fill="#0e5897"/>
<circle cx="640.27" cy="544.24" r="0.85" fill="#0e5897"/>
<circle cx="636.18" cy="532.80" r="0.85" fill="#0e5897"/>
<circle cx="639.57" cy="527.80" r="0.85" fill="#0e5897"/>
<circle cx="636.83" cy="541.19" r="0.85" fill="#0e5897"/>
<circle cx="638.06" cy="538.55" r="0.85" fill="#0e5897"/>
<circle cx="638.75" cy="537.01" r="0.85" fill="#0e5897"/>
<circle cx="639.81" cy="547.50" r="0.85" fill="#0e5897"/>
<circle cx="637.79" cy="548.78" r="0.85" fill="#0e5897"/>
<circle cx="639.90" cy="511.83" r="0.85" fill="#0e5897"/>
<circle cx="639.86" cy="550.12" r="0.85" fill="#0e5897"/>
<circle cx="639.83" cy="527.94" r="0.85" fill="#0e5897"/>
<circle cx="638.88" cy="541.04" r="0.85" fill="#0e5897"/>
<circle cx="636.50" cy="550.11" r="0.85" fill="#0e5897"/>
<circle cx="636.98" cy="551.84" r="0.85" fill="#0e5897"/>
<circle cx="637.92" cy="539.57" r="0.85" fill="#0e5897"/>
<circle cx="639.21" cy="546.81" r="0.85" fill="#0e5897"/>
<circle cx="637.06" cy="523.56" r="0.85" fill="#0e5897"/>
<circle cx="640.65" cy="516.33" r="0.85" fill="#0e5897"/>
<circle cx="639.14" cy="525.94" r="0.85" fill="#0e5897"/>
<circle cx="638.91" cy="526.66" r="0.85" fill="#0e5897"/>
<circle cx="636.52" cy="531.58" r="0.85" fill="#0e5897"/>
<circle cx="641.31" cy="531.71" r="0.85" fill="#0e5897"/>
<circle cx="641.21" cy="553.80" r="0.85" fill="#0e5897"/>
<circle cx="636.06" cy="528.67" r="0.85" fill="#0e5897"/>
<circle cx="640.07" cy="547.76" r="0.85" fill="#0e5897"/>
<circle cx="638.99" cy="551.86" r="0.85" fill="#0e5897"/>
<circle cx="639.63" cy="551.06" r="0.85" fill="#0e5897"/>
<circle cx="639.96" cy="549.65" r="0.85" fill="#0e5897"/>
<circle cx="638.93" cy="545.24" r="0.85" fill="#0e5897"/>
<circle cx="636.96" cy="545.44" r="0.85" fill="#0e5897"/>
<circle cx="637.73" cy="537.96" r="0.85" fill="#0e5897"/>
<circle cx="636.54" cy="546.67" r="0.85" fill="#0e5897"/>
<circle cx="637.12" cy="548.37" r="0.85" fill="#0e5897"/>
<circle cx="638.44" cy="554.72" r="0.85" fill="#0e5897"/>
<circle cx="638.64" cy="526.47" r="0.85" fill="#0e5897"/>
<circle cx="640.72" cy="527.31" r="0.85" fill="#0e5897"/>
<circle cx="641.45" cy="525.51" r="0.85" fill="#0e5897"/>
<circle cx="638.07" cy="530.19" r="0.85" fill="#0e5897"/>
<circle cx="640.90" cy="549.13" r="0.85" fill="#0e5897"/>
<circle cx="637.26" cy="535.82" r="0.85" fill="#0e5897"/>
<circle cx="637.59" cy="549.36" r="0.85" fill="#0e5897"/>
<circle cx="637.15" cy="534.35" r="0.85" fill="#0e5897"/>
<circle cx="640.31" cy="541.10" r="0.85" fill="#0e5897"/>
<circle cx="640.22" cy="528.51" r="0.85" fill="#0e5897"/>
<circle cx="639.81" cy="542.59" r="0.85" fill="#0e5897"/>
<circle cx="641.44" cy="535.79" r="0.85" fill="#0e5897"/>
<circle cx="639.21" cy="552.42" r="0.85" fill="#0e5897"/>
<circle cx="637.61" cy="524.75" r="0.85" fill="#0e5897"/>
<circle cx="640.45" cy="543.15" r="0.85" fill="#0e5897"/>
<circle cx="637.20" cy="535.21" r="0.85" fill="#0e5897"/>
<circle cx="638.75" cy="548.86" r="0.85" fill="#0e5897"/>
<circle cx="637.88" cy="545.30" r="0.85" fill="#0e5897"/>
<circle cx="638.39" cy="550.31" r="0.85" fill="#0e5897"/>
<line x1="638.50" y1="537.35" x2="638.50" y2="540.84" stroke="#1c3550" stroke-width="0.7"/>
<line x1="636.50" y1="537.35" x2="640.50" y2="537.35" stroke="#1c3550" stroke-width="0.7"/>
<line x1="636.50" y1="540.84" x2="640.50" y2="540.84" stroke="#1c3550" stroke-width="0.7"/>
<circle cx="649.53" cy="561.60" r="0.85" fill="#983634"/>
<circle cx="652.17" cy="510.56" r="0.85" fill="#983634"/>
<circle cx="652.83" cy="537.92" r="0.85" fill="#983634"/>
<circle cx="651.35" cy="538.94" r="0.85" fill="#983634"/>
<circle cx="654.75" cy="552.41" r="0.85" fill="#983634"/>
<circle cx="652.57" cy="535.56" r="0.85" fill="#983634"/>
<circle cx="652.37" cy="531.46" r="0.85" fill="#983634"/>
<circle cx="649.53" cy="548.39" r="0.85" fill="#983634"/>
<circle cx="653.82" cy="546.59" r="0.85" fill="#983634"/>
<circle cx="653.97" cy="546.35" r="0.85" fill="#983634"/>
<circle cx="650.36" cy="536.29" r="0.85" fill="#983634"/>
<circle cx="650.55" cy="554.86" r="0.85" fill="#983634"/>
<circle cx="653.80" cy="537.92" r="0.85" fill="#983634"/>
<circle cx="650.53" cy="536.28" r="0.85" fill="#983634"/>
<circle cx="652.78" cy="535.56" r="0.85" fill="#983634"/>
<circle cx="651.99" cy="528.63" r="0.85" fill="#983634"/>
<circle cx="654.32" cy="527.42" r="0.85" fill="#983634"/>
<circle cx="652.30" cy="536.17" r="0.85" fill="#983634"/>
<circle cx="653.07" cy="518.07" r="0.85" fill="#983634"/>
<circle cx="651.97" cy="538.99" r="0.85" fill="#983634"/>
<circle cx="649.59" cy="544.20" r="0.85" fill="#983634"/>
<circle cx="652.15" cy="552.16" r="0.85" fill="#983634"/>
<circle cx="654.30" cy="547.02" r="0.85" fill="#983634"/>
<circle cx="652.05" cy="526.46" r="0.85" fill="#983634"/>
<circle cx="652.68" cy="545.73" r="0.85" fill="#983634"/>
<circle cx="652.27" cy="533.53" r="0.85" fill="#983634"/>
<circle cx="653.29" cy="551.61" r="0.85" fill="#983634"/>
<circle cx="653.10" cy="536.57" r="0.85" fill="#983634"/>
<circle cx="653.98" cy="539.98" r="0.85" fill="#983634"/>
<circle cx="650.90" cy="555.34" r="0.85" fill="#983634"/>
<circle cx="649.71" cy="510.57" r="0.85" fill="#983634"/>
<circle cx="653.82" cy="557.70" r="0.85" fill="#983634"/>
<circle cx="651.68" cy="529.55" r="0.85" fill="#983634"/>
<circle cx="652.38" cy="539.10" r="0.85" fill="#983634"/>
<circle cx="654.56" cy="543.06" r="0.85" fill="#983634"/>
<circle cx="651.65" cy="544.41" r="0.85" fill="#983634"/>
<circle cx="654.85" cy="542.73" r="0.85" fill="#983634"/>
<circle cx="652.37" cy="547.52" r="0.85" fill="#983634"/>
<circle cx="649.53" cy="550.22" r="0.85" fill="#983634"/>
<circle cx="652.37" cy="541.87" r="0.85" fill="#983634"/>
<circle cx="652.56" cy="553.15" r="0.85" fill="#983634"/>
<circle cx="652.58" cy="540.26" r="0.85" fill="#983634"/>
<circle cx="652.15" cy="557.01" r="0.85" fill="#983634"/>
<circle cx="655.37" cy="530.72" r="0.85" fill="#983634"/>
<circle cx="654.42" cy="536.42" r="0.85" fill="#983634"/>
<circle cx="653.67" cy="545.58" r="0.85" fill="#983634"/>
<circle cx="651.74" cy="535.12" r="0.85" fill="#983634"/>
<circle cx="652.27" cy="542.73" r="0.85" fill="#983634"/>
<circle cx="653.01" cy="542.45" r="0.85" fill="#983634"/>
<circle cx="654.57" cy="539.63" r="0.85" fill="#983634"/>
<circle cx="650.28" cy="552.14" r="0.85" fill="#983634"/>
<circle cx="654.27" cy="538.15" r="0.85" fill="#983634"/>
<circle cx="654.16" cy="541.26" r="0.85" fill="#983634"/>
<circle cx="653.02" cy="534.79" r="0.85" fill="#983634"/>
<circle cx="653.06" cy="552.74" r="0.85" fill="#983634"/>
<circle cx="651.63" cy="561.04" r="0.85" fill="#983634"/>
<circle cx="652.14" cy="535.95" r="0.85" fill="#983634"/>
<circle cx="654.24" cy="522.70" r="0.85" fill="#983634"/>
<circle cx="653.37" cy="546.33" r="0.85" fill="#983634"/>
<line x1="652.45" y1="541.15" x2="652.45" y2="544.47" stroke="#4a2020" stroke-width="0.7"/>
<line x1="650.45" y1="541.15" x2="654.45" y2="541.15" stroke="#4a2020" stroke-width="0.7"/>
<line x1="650.45" y1="544.47" x2="654.45" y2="544.47" stroke="#4a2020" stroke-width="0.7"/>
<line x1="591.40" y1="503.60" x2="591.40" y2="573.20" stroke="#5a5a5a" stroke-width="0.75"/>
<line x1="591.40" y1="573.20" x2="661.80" y2="573.20" stroke="#5a5a5a" stroke-width="0.75"/>
<line x1="588.40" y1="573.20" x2="591.40" y2="573.20" stroke="#5a5a5a" stroke-width="0.75"/>
<text x="585.20" y="576.05" font-size="8.2" text-anchor="end" textLength="4.40" lengthAdjust="spacingAndGlyphs" stroke="#231f20" stroke-width="0.13">0</text>
<line x1="588.40" y1="550.00" x2="591.40" y2="550.00" stroke="#5a5a5a" stroke-width="0.75"/>
<text x="585.20" y="552.85" font-size="8.2" text-anchor="end" textLength="11.80" lengthAdjust="spacingAndGlyphs" stroke="#231f20" stroke-width="0.13">100</text>
<line x1="588.40" y1="526.80" x2="591.40" y2="526.80" stroke="#5a5a5a" stroke-width="0.75"/>
<text x="585.20" y="529.65" font-size="8.2" text-anchor="end" textLength="13.20" lengthAdjust="spacingAndGlyphs" stroke="#231f20" stroke-width="0.13">200</text>
<line x1="588.40" y1="503.60" x2="591.40" y2="503.60" stroke="#5a5a5a" stroke-width="0.75"/>
<text x="585.20" y="506.45" font-size="8.2" text-anchor="end" textLength="13.20" lengthAdjust="spacingAndGlyphs" stroke="#231f20" stroke-width="0.13">300</text>
<line x1="626.50" y1="503.10" x2="626.50" y2="573.20" stroke="#2a2a2a" stroke-width="0.9" stroke-dasharray="3.1,2.3"/>
<text x="607.20" y="584.60" font-size="9.1" text-anchor="middle" textLength="25.50" lengthAdjust="spacingAndGlyphs" stroke="#231f20" stroke-width="0.13">Young</text>
<text x="646.30" y="584.60" font-size="9.1" text-anchor="middle" textLength="21.50" lengthAdjust="spacingAndGlyphs" stroke="#231f20" stroke-width="0.13">Aged</text>
<text x="0" y="0" font-size="8.6" text-anchor="middle" stroke="#231f20" stroke-width="0.13" transform="translate(563.60 537.80) rotate(-90) scale(1.0094 1)"><tspan font-size="8.6" dy="0">Spike latency (ms)</tspan></text>
<path d="M601.10,486.70 L601.10,483.30 L638.40,483.30 L638.40,486.70" stroke="#333" stroke-width="0.7" fill="none"/>
<text x="621.50" y="479.00" font-size="8.3" text-anchor="middle" textLength="25.60" lengthAdjust="spacingAndGlyphs" stroke="#231f20" stroke-width="0.13">0.0095</text>
<path d="M601.10,504.30 L601.10,500.20 L615.60,500.20 L615.60,504.30" stroke="#333" stroke-width="0.7" fill="none"/>
<text x="609.50" y="496.60" font-size="8.3" text-anchor="middle" textLength="25.60" lengthAdjust="spacingAndGlyphs" stroke="#231f20" stroke-width="0.13">0.0002</text>
<path d="M637.30,504.30 L637.30,500.20 L651.80,500.20 L651.80,504.30" stroke="#333" stroke-width="0.7" fill="none"/>
<text x="645.20" y="496.60" font-size="8.3" text-anchor="middle" textLength="25.60" lengthAdjust="spacingAndGlyphs" stroke="#231f20" stroke-width="0.13">0.0924</text>
<text x="556.50" y="486.70" font-size="12" font-weight="bold" fill="#000" stroke="#000" stroke-width="0.45">s</text>
</svg>
</body></html>
